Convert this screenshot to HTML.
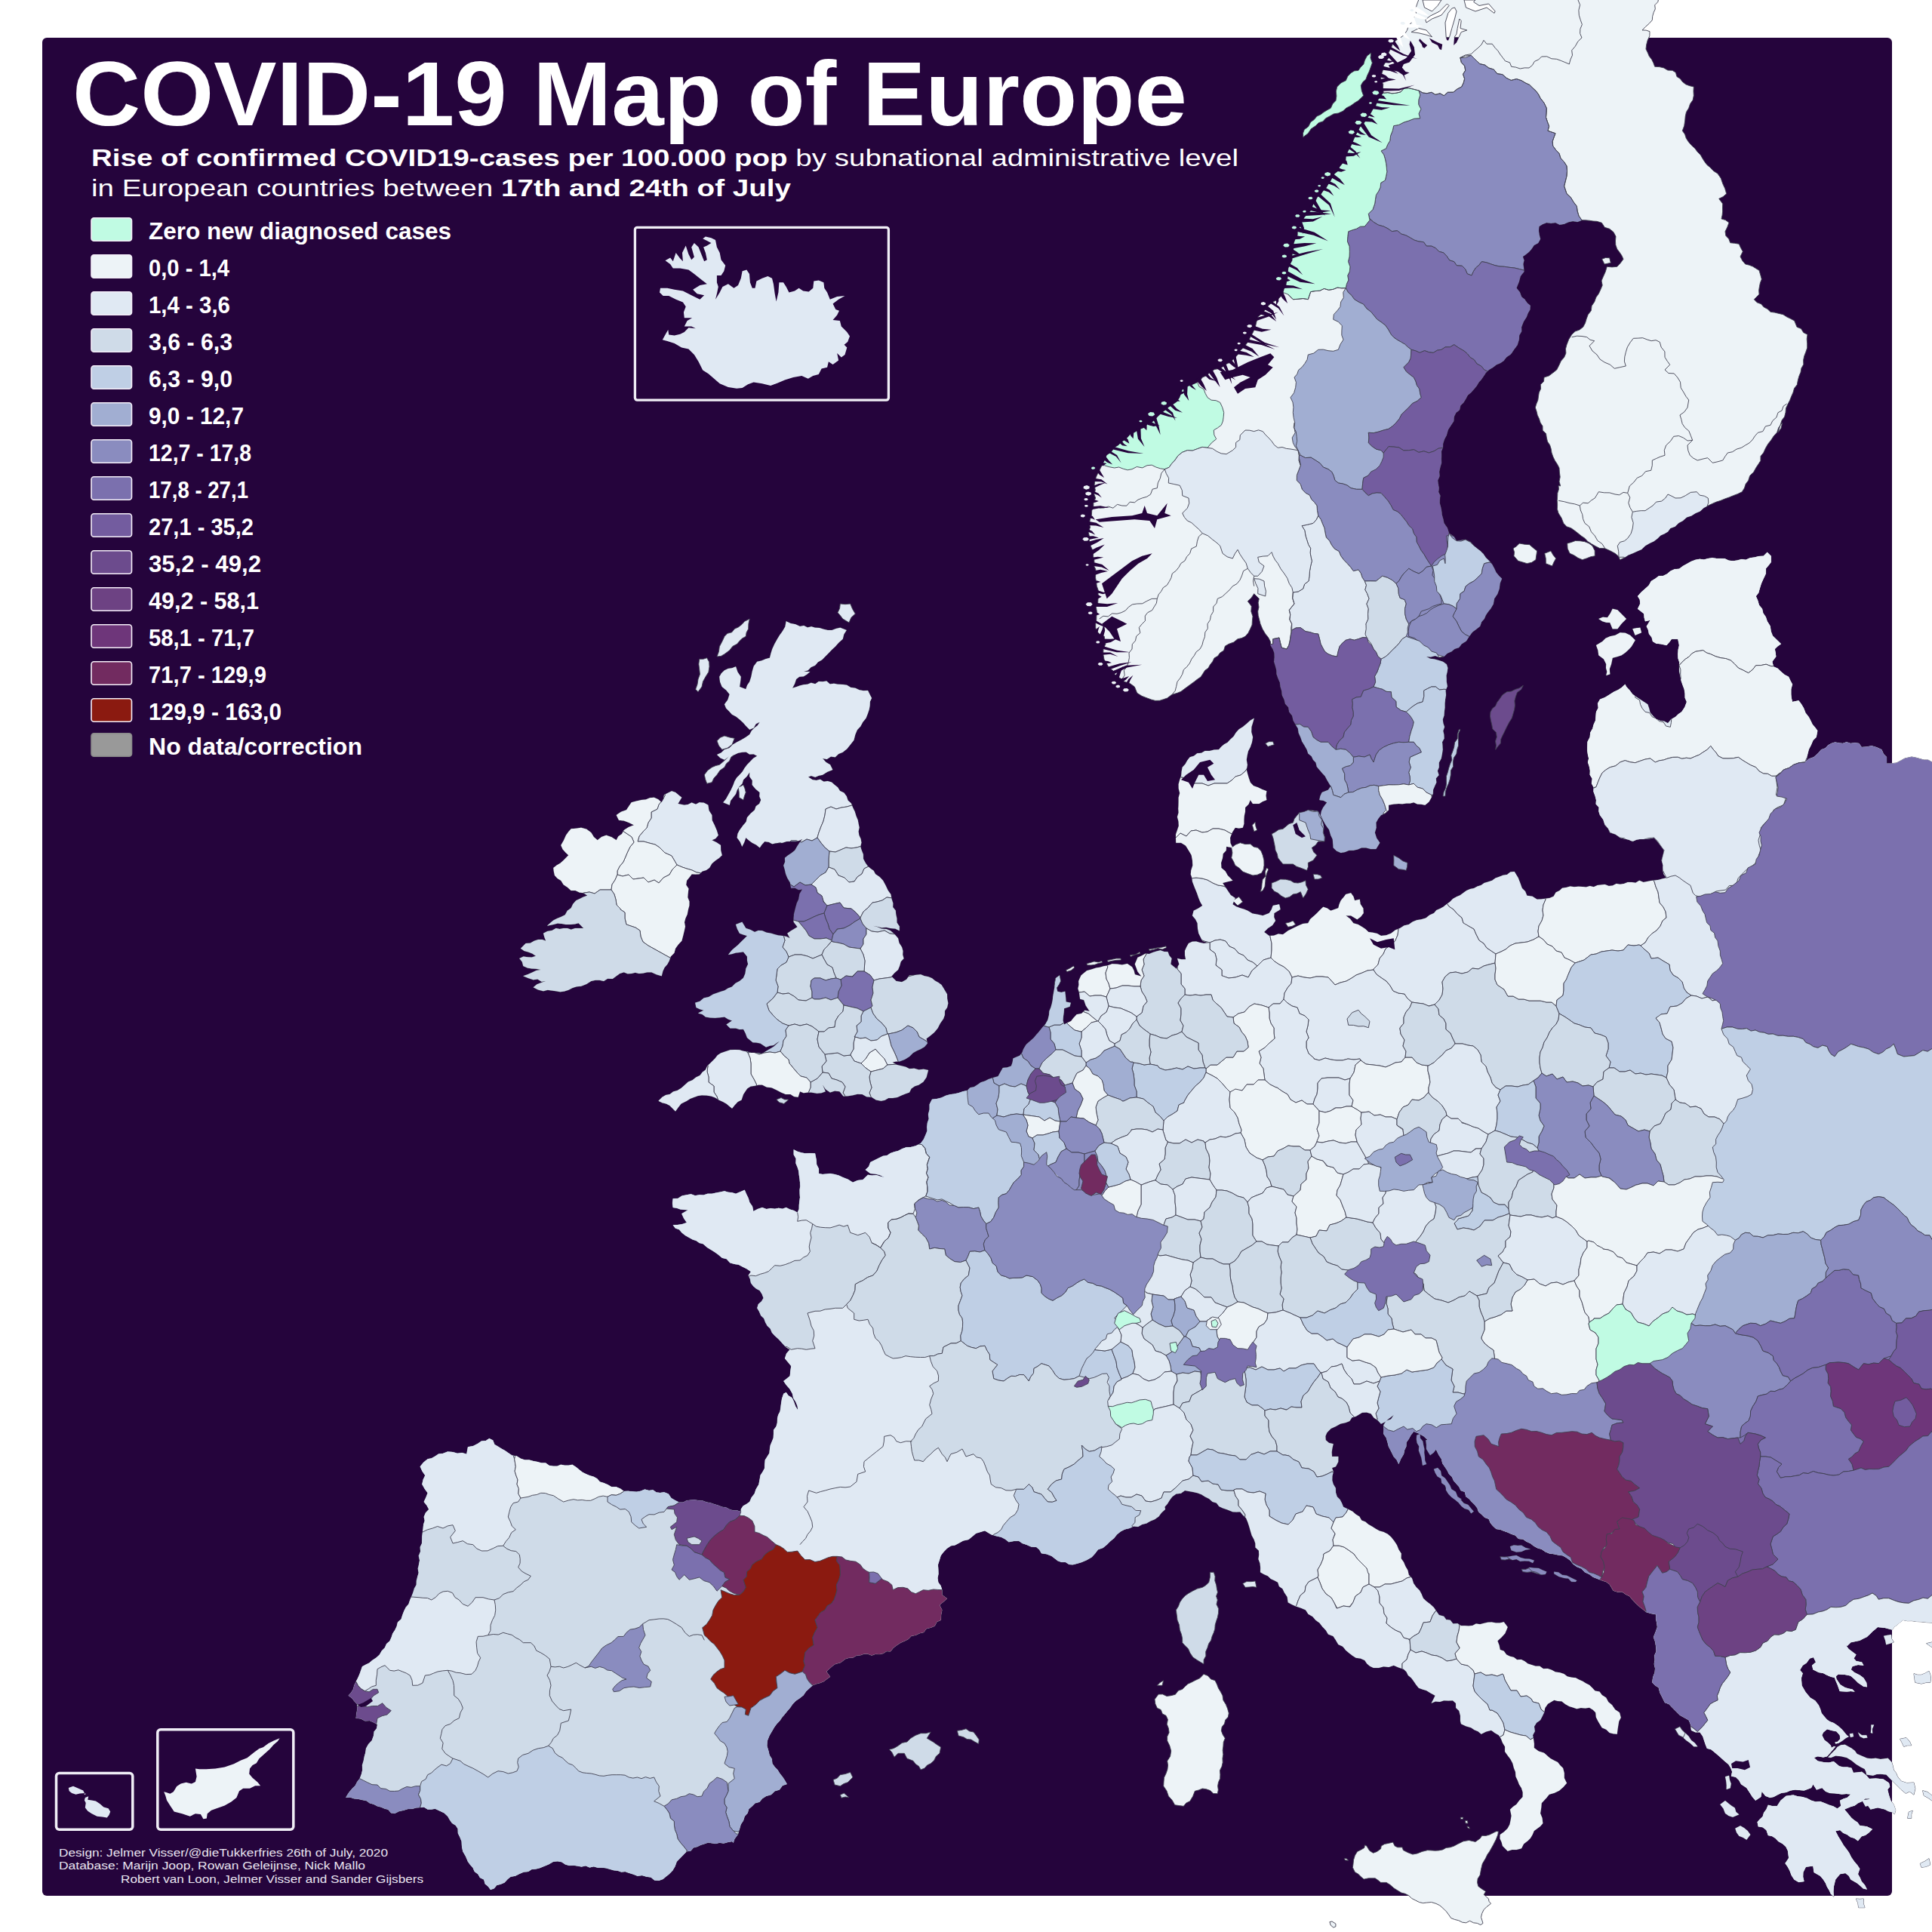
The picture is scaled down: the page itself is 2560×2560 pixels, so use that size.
<!DOCTYPE html>
<html lang="en"><head><meta charset="utf-8"><title>COVID-19 Map of Europe</title>
<style>
html,body{margin:0;padding:0;background:#fff;}
body{width:2560px;height:2560px;overflow:hidden;}
svg{display:block;font-family:"Liberation Sans",sans-serif;}
#base use{stroke:#3f3f50;stroke-width:0.9;stroke-linejoin:round;}
#map path{stroke:#3f3f50;stroke-width:0.9;stroke-linejoin:round;}
#map polygon{stroke:#3f3f50;stroke-width:0.9;stroke-linejoin:round;}
#map polygon.n{stroke:none;}
#map path.l{fill:none;}
#map polyline.l{fill:none;stroke:#3f3f50;stroke-width:0.9;stroke-linejoin:round;}
.t{fill:#fff;font-weight:700;}
.lg{fill:#fff;font-weight:700;font-size:31px;}
.cr{fill:#e9e4f0;font-size:15.5px;}
</style></head><body>
<svg width="2560" height="2560" viewBox="0 0 2560 2560">
<rect width="2560" height="2560" fill="#fff"/>
<rect x="56" y="50" width="2451" height="2462" rx="6" fill="#25043c"/>
<g id="map">
<defs><path id="L0" d="M981.7 2003.3l-4.8-1.8-5.3-0.1-4.9-1.4-4.7-2.6-5.4-0.6-4.8-2-5.1-1.5-5.2-1.9-5.4-1-5.2-1.8-5.5-0.4-5.4-0.9-5.1 0.5-5 0.5-4.7 2.4-5.2 0-5.5-2.6-5.1-3.2-3.7-5.4-5.7-2.2-5.2 0.8-5-0.5-4.6-3.4-5.2 0.8-5.6-1.4-5.5 2.2-5.5 0.9-5.6-0.4-5.6-0.6-5.5 0.3-4.8-3.5-5.3-2.2-6.2-0.1-5.1-3-5.3-2.2-5.1-1.6-3.7-4.1-4.5-2.6-5.2-1.4-4.8-2-5-2.6-4.4-3.4-4.3-3.6-4.7-3-4.9 1.1-5.1 0-5.1-1.1-4.9 2-5 0-5.4-0.8-4.9-3.3-5.6 0-5.3-1.5-5.4-1.1-5.5-1.6-5.8 0.2-5.4-1.9-5.2-3.3-6.4-0.9-5.1-3.5-4.3-2.9-4.6-2.6-4.4-2.8-4.7-2.7-2.1-5.5-4.9-2.5-4.6 3.1-5.8 0.4-4.6 3.2-6.3 3.4-7 1.2-1.7 9.4-6-1.8-6.3 0.8-6-1.7-6.9-0.4-6.4 2.4-5.5 0.5-4.5 3-4.8 2.7-5.2 1.1-5.6 4.4-4.4 5.6 2.8 6.1 3.8 5.6-2.6 5.6-1.4 6.1 3.4 6 4 5.6-2.3 5.9-2.7 5.8 3.8 4.7 2.8 5.3-4.3 4.4-2.3 5.6 1.1 5.1-1.7 4.9-0.4 5-0.7 5-0.6 5-0.1 5.2-0.3 5-2.3 4.8 0.4 5.9-2.4 5.7 1.4 5.9-1.1 5.8-1.3 5.3 1.1 5.5-1.6 5.2-1.4 5.3-0.1 5.4-2.8 4.7-1.5 5.3-1.9 5-2.2 5-1.8 5.4-3.7 4.3-2.5 5.1-2 5.2-1.7 5.4-4.6 4-1.3 5.5-2.4 5.1-3 4.4-1.7 5.3-2.2 4.9-4.3 3.7-2.1 5-4.2 4.1-3 5.4-4.5 3.9-5 3.3-4 3.5-4.7 2.3-4.6 2.5-1.8 5.1-1.8 5.1-2.2 5-2.5 4.8-2.3 4.7-1.3 5.3-2.8 4.4-3.6 4 4.5 3.2 3.4 4.3 3.7 4.1 0.2 6.2-1.1 6.1-0.7 6.1 6.2 0.5 5.7 3.1 6.4-0.3 5.1 2.2 4.9 2.8-0.8 5.3-3.7 4.3-0.5 5.4-2.2 6.3-4.6 4.7-3.2 5.7-0.7 5.6-1.6 5.5-1 5.5-1.8 5.7 0.4 6.2-1.4 5.9-2.2 5.6-3.4 4.4-2.5 5-4.1 3.9-4.6 5.5-3.8 6.2 5.6-0.2 5.3 1.8 5.4 0.4 5.4 1.3 5.4 1 4.5 3.3 5.3 1.4 4.8 2.6 5 1.1 4.5 2.2 4.9 1.2 3.7 4.4 5.2 0.5 5.5-2.7 6-1.2 5.7-1.8 6.2-0.3 4.9-1.5 5.1-0.2 5.1-0.6 4.8 3 5 0.2 5.1-0.9 5.9 2.7 5.9 2.8 4.8 4.5 2.7 4.7 3 4.4 4.8 3 2.9 4.5 0.2 6 2.6 5.3 2.2 5.4 0.3 6.7 1.3 6.6 3.8 6.5 2.9 6.9 3.1 4.3 3.6 4 2.1 5.1 4.5 3.2 2.7 4.6 5.2 2.7 1.5 5.6 4.2 3.5 3.1 4.3 4.8-1.7 3.4-4.3 5.1-1.3 5.3-2.3 3.8-4.2 4.3-3.5 6-1 5.5-2.8 5.7-2.3 6.1-0.6 4.5-3.1 5.5-0.3 5.1-1.4 4.9-1.9 6.8-2.9 6.5-3.7 5.6-0.4 5.4 0.9 4.8 3.4 5.3 1.4 5.6-0.3 5.3 0.8 5.3 0.9 5.4-1.2 5.3 2.3 5.4-1.2 5.2 1.4 5.5 0.1 5.4 0.5 5.3 1.5 5.2 1.5 5.1 0.5 4.8 1.6 5.2-0.4 4.9 1.7 5.7 1.8 5.7 2.2 6.2-0.6 5.8 1.6 5.8 0.8 4.8 4 6 0.2 5.1-1.8 4.1-3.3 4.2-3.3 4.6-4.8 3.2-5.6 2.2-6.2 4.4-4.5 4.4-4.5 4.5-4.4 5.2-0.7 3.7-4.3 5-1.2 4.5-2.3 4.9-1.5 4.9-1.8 5.1 0.8 5.1 0.7 4.9-1.3 5.7 0.8 5.5-1.6 5.5-0.9 1.7 1.7 1.6-5 4.6-6.1 2.1-7.3 1.6-5.8 3.3-5.1 1.8-5.7 3.9-4.1 1.6-5.7 4.5-3.6 3.9-4 5.8-1.6 3.6-4.4 5.5-3.5 6.4-1.8 4.8-4.7 6.1-1.7 4-5.5 5.9-2.1-2.8-4.9-3-4.7-3.6-4.4-2.9-4.8-3.9-4-3.2-4.5-0.5-5.9-3.2-5.1-1.3-5.7-2-6.5 0.4-6.8 2.8-6.9 3.8-6.5 2.8-4.8 3.3-4.5 3.9-4 3-4.4 3.5-4.1 3.4-4.2 3.5-4 3.6-5.2 4.4-4.5 5.3-3.6 4.6-3.8 3.4-4.9 4.2-4.1 4.5-3.9 4.9-2 5.1-1.3 4.9-2.1 4.2-3.1 4.2-3.1-5-6.7 3.7-3.5 3.8-3.6 4.2-2.9 7.3-2 6-4.7 4.9-1.6 5.3-0.2 4.6-2.7 5.2-0.5 4.9-1.7 5 0 5.2 2 4.9-1.9 5.2 0.4 5-1.1 4.6-2.9 5.2 0.2 3.7-4.7 4.7-3.6 4.9-3.3 5.2-2.1 5-2.5 4.1-4.3 5.7-1.1 5.1-2.4 5.5-1.4 3.8-4.9 5.6-1.3 5.3-2.2 2.8-5.6 5.3-2.2 0.3-6.8 1.3-6.6-3.3-6.6 5-4.2 5-4.2-6.7-5 0-6.6-1.7-5.4-3.3-4.6-0.9-5.6 1.1-5.5-0.2-5.6-0.4-6.8 2.1-6.5 1.6-5.5 3.4-4.5 4.5-4.8 5.5-3.6 5.2-0.9 4.8-2.4 6.3-3.4 7-1.6 5-4.1 5-4.2 5.8-1.7 5.9-1.7 8.3 5 6.6 2 6.8 1.4 5.3 2.9 4.7 3.7 6.6-1.3 6.7-0.3 4.6 3.3 5.4 1.7 6.3 2.9 7 0.4 4 3.6 2.7 4.7 6.8 1 6.5 2.4 4.2 3.2 4.2 3.3 5 1.8 5.3-0.1 4.6 3 5.1 0.4 5.8-1.6 5.8-1.7 6.9-2.9 6.5-3.8 4.3-4.9 4-5.1 6.5-2.2 5.2-4.4 4.4-4.5 5-3.9 3.9-5 5-4 5.4-2.9 6.3-1.4 5.3-2.5 6.1 0.4 5.2-2.9 5.9-1.5 5.2-3.1 5.6-2.1 5.3-3.8 3.9-5.2 4.8-4.3-0.7-3.3 3.7-4.2 2.9-4.8 3.4-4.4 5.1-3.7 6.5-0.9 5.1-3.7 5.6 1 5.6 1 5.5 1.3 5.3 2 4.7 3 5.5 2.6 4.5 4.1 5.2 1.5 3.4 4.5 4.7 2.3 6.7 2.3 6.6 2.7 5 0.3 5-0.3 3.6 4.3 4.2 3.8 2.2 5.3 1.9 5.9 1.7 6 1.8 5.9 3 5.5 1.7 5 0.1 5.5 4.4 4.1 0.4 5.4-0.8 5.9 2.1 5.7 0.6 5.8-0.2 5.9 4.8 2.8 5.2 2.2 3.8 3.8 4.9 2.1 4.6 2.5 1.6 5.2 4.6 3.3 2.2 4.8 4 6.1 1 7.2 5 2.6 5 2.4 6.7 2.3 6.6 2.7 3.5 5.4 5.7 3.2 4.1 4.8 5.2 3.7 3.8 5.1 4.4 4.5 3.3 5.6 6.5 2.3 3.5 5.4 3.3 5.6 6 2.9 4 4.9 4.2 3.6 4.5 3.4 4.7 3 6 0.8 5.6 2.5 3 4.4 3.9 3.3 4.8 2.3 6.8 0.1 6.5-1.8 6.9 0.6 6.5-2.2 6.5 2.9 6.8 2.1 3.6 3.6 2.3 4.8 4.1 3.2 3.3 4.5 3.2 4.6 3.5 4.3 4.9 1.9 5.1 1.4 5.7 3.6 6 3.1-2.4 5-2.6 5 5.3-2.1 5.9 0.3 5.4-1.6 5.9 0.3 5.8-0.3 4.1 3.7 0.1 6.1 4.1 3.6 1.7 6.5 0 6.8 1 4.3 6.5 3 6.8 2 4.4 2.9 4.9 2 4.1 3.5 6.4-3.2 6.9-1.8 4.8 3.6 5.2 3 3 4.8 2 5.2 3.2 5.2-0.1 6.5 3.6 5 3.8 5.1 2.9 5.5 1.6 6.1 2.1 5.4 0.4 5.9 2.5 5.3 2 5.3 3 4.7 1.8 5.7-0.1 6-4.5 4.8-3.9 5.2-4.4 3-3.9 3.7 1.7 8.3-1 5.8-1.2 5.7-2.8 5.2-4.6 4.6-5.4 3.7-0.2 5.3 2.2 4.7 1.3 5 6.7 6.7 5.7-1.7 5.9 0 6.7-1.7 3-6 5.3-4 3.7-3.8 2.6-4.6 2.1-4.9 4.1-3.1 4.1-3 3.4-3.9-0.8-6.9-2.5-6.4 1.1-6.7 0.6-6.7 3.4-3.8 3.5-3.7 3.1-4.1 6.9-1.9 6.4-3.1 5.4-4.6 4.6-5.4-3.3-6.7 0-6.8-1.7-6.5-3.7-3.5-3.3-4.1-4.7-2.4-5-2.6-4.1-3.7-4.2-3.7-7.2-2.2-6.1-4.5 0.1-5.6-0.8-5.6-1-5.5 2.8-5.2-0.9-6.3 3.1-5.1 5-3.4 2.6-5 2.4-5 1.3-6.3 3.7-5.3 8.3-5 4.9 1.4 5.1 0.2 4.7 3.8 5.3 2.9 5 1.5 5 1.8 5.5-1.2 5.7 0.5 5.5-0.9 4.6 2.8 3.7 3.8 0.6 6.2 2.8 5.5 5 8.3 5.7 2.4 4.3 4.3 4.9 1.3 5.1 0.4 0.7-5.9 0.9-5.8 0.9-5.3 2.5-4.7-1.7-6.7-5.9-4.1-4.1-5.9-4.8-4.1-3.1-5.8-5.4-3.4-3.3-4.4-5.9-1.2-3.7-3.9-3.8-3.8-4.6-2.1-4.3-2.8-4.7-2.1-4.5-2.4-5.2-0.6-5.7-1.1-4.8-3.5-5.4-1.8-5.8-0.7-5-2.9-5.3-1.7-5.7 0.3-4.8-3.6-5.6 0-5.3-1.7-4.8-1.6-4.2-3.2-4.5-2.2-5.7 0.3-4.1-3.3-5.3-1.3-4.6-2.3-3.4-4.7-5-1.7-1.2-6-2.2-5.7 5.3-4.7 4.7-5.3 3.4-8.3-5-6.7-5.3 1.1-5.4 0-5.4-0.9-5.3 0.3-5.3 1.2-4.9 1.3-5.2-0.9-4.7 2.6-5.1 0.5-5-0.3-5.1 0.1-4.6-3.1-6 0.3-3.8-4.8-5.6-0.7 0.7 0.7-3.5-5-6.4-1.7-3.5-5-3.6-5.3-4.7-4.2-5-3.8-4.2-4-2.2-5.4-2.7-5-4.2-4-3.7-5.3-2-6.4-4.3-4.9-1.3-6-3.1-5.2-2.3-5.5-3.5-5.1 0.2-6.5-3.4-5.1-2.4-6.1-3.6-5.4-4-5.1-4.5-4-5.5-2.7-5.5-1.5-4.9-2.7-4.7-3-4.9-2.8-4.1-3.4-5.1-2.1-2.8-5.1-4.6-2.7-4.6-4-5.4-2.7-6.7-3.3-2-4.9-2.5-4.7-3.8-3.8-1.7-5.5-0.2-6-3.1-5.1-1.5-5.3 0.2-5.5 1.4-5.6-1.8-5.3 5-1.7 3.2-6.3 0.1-7-8.3 0-0.4-5.7 0.8-5.5 1.3-5.5-5.6-1.3-4.4-3.7-0.4-5.2 2-4.8 5.1-5.2 6.6-3.1 6.3-3.4 7-1.6 5-1.9 3.1-4.9 5.3-1.5 8.3-5 6-0.2 5.7 1.8 3.7 5.2 5.3 3.6 4.3 4.6 5.4-2.8 4.6-3.9 6.7-5-3.5 5.4-6.5 2.4-3.4 5.5 0.3 5.9-0.3 5.8 3.5 5.1 1.7 5.7 1.5 5.9 3.4 6.6 3.3 6.7 4.1 4.5 2.5 5.5 2.9-6.9 3.8-6.4 1-5.2 2.3-4.8 0.2-5.5 3.2-4.5 2.8-5.3 3.8-4.7 7 2.8 6.4 3.8 4.6 4.3 4 4.9 4.7 4.2 3.6 5.4 2.9 5.8 3.5 5.4 1.3 5.6 3.1 4.7 3.2 4.6 2.4 5.1 4 3.6 2.1 5.2 3.6 3.9 3.6 4 2.3 4.9 5.5 2.2 1.2 5.8 4.3 3.2 3.4 3.9 3.9 3.7 3.4 4.2 1.9 5.3 4.1 3.5 4 4 5.4 2 2.2 5.3 3.5 4.3 4.3 3.7 5.3 0.8 4.9 1.9 5 1.7 4.8 2.3 5.3 1.8 4.1 4.5 6 0.5 4.6 3.2 5.1 2.3 4.5 3.4 4.9 2.9 5.5 1.4 5 3.6 5.5 2.1 6.1 0.9 5.7 1.2 5.8 0.8 5.2 3 4.8 3.5 3.7 4.8 4.8 3.4 6.1 2.5 4.6 4.8 6 2.7 5 3.8 5.9 2.2 5.8 2.3 5.5 1.6 4.5 3.4 5 8.4 5.7 1.7 5.9-0.1 4.6 3.2 5.1 2.4 3.7 4.4 4.9 5.1 5.1 4.9 4.3 3.2 4 3.5 6.6 2 6.7 1.3-0.2 5.6 1.2 5.6 0.7 5.5-2.4 6.7-2.6 6.6 2.3 6.5 1 6.9 0.3 5.6-2.4 5.4 0.5 5.6-0.9 5.6 1.3 5.5-0.4 5.6-2.5 6.4-0.9 6.9 3.7 3.9 4.7 2.8 1.8 6.9 3.2 6.4 3.3 6.7 5.8 2.2 4.2 4.5 5 5 5 5 5.9 3.3 5.8 3.3 2.7 6.4 0.6 7 5.4 2.5 6 0 3.9 5.5 2 6.4 1.7 4.9 1.9 4.7 5.2 1.4 4.3 3.3 4.8 4.2 4.8 4.2 4.7 4.2 4.8 4.1 2.8 4.6 1.9 4.9-1.2 6 6 1.2 4.3 4.2 2.8 5.3 7.2 4.7 4.7 7.2 3.2 5.1 4 4.4 7.1-4.7 1.2-7.2 4.8 6 5.9 2.3 5-1.1 4.6-2.4 5.7-2.8 6.2-0.8 5.8-2.4 6.1-1.2 5.9 0.7 6 0.5 4.8-1.8 4.7-1.8 2.4-4.7 4.7 7.1 7.2-2.4 4.7 4.8 5.8 2.3 6.2 0.1 9.5 1.2 5.9-0.3 6 0.3-4.8 4.7-4.9 1.3-4.6 2.3 1.2 7.2-4.8 3.5-5.1-3-5.6-1.7-6-2.4-5.9-2.4-6.1 0.5-5.8-1.7-5.7-2.9-6.2-1.8-6.1-0.7-5.8-1.7-9.5 1.2-7.2 5.9-4.7 7.2-6 0.3-5.9-1.5-2.4 5.9-3.4 4.3-1.4 5.2-3.7 3.5-3.4 3.7 1.2 5.9 5.9 1.1 4.8 3.7 2.4 7.1 5.1 0.9 4.4 2.7 4.1 4.4 5.4 2.8 4.5 4.1 2.6 5.4 1.2 9.5-4.7 7.1 3.2 4.6 2.7 5 2.4 6.3 3.6 5.6 5.9 3.5 7.2-1.1-1.4-5.9 0.2-6 3.6-7.2 9.5-1.2 1.2 8.4 8.3 4.7 3.9 4.5 3.2 5 2 5 2.8 4.6 2.1 4.8 3.9 3.5-0.4-6.5 0.4-6.6 2.3-9.5 6-7.2 7.1-1.2 4.5 3.5 2.7 4.9 8.3 4.7 4.2 3.6 4.1 3.6 4.8 1.2-2.9-5.8-4.2-4.9-2.1-4.9-2.7-4.7 2.4-7.1-3.3-5-3.9-4.5-4-5.7-3.1-6.2-3.4-4.9-3.7-4.7-3.5-6-3.7-5.9-3.6-7.1 6-1.2 4.2 3.8 5.3 2.2 4.3 3.2 5.2 1.5 4.8 3.6 4.8-6 5.1-1.6 4.4-3.1 4.8-4.8-7.2-3.6-9.5-1.2-3-4.2-4.2-2.9-3.9-3.2-3.2-3.9-6-7.2 8.4-3.6 5.2-1.5 4.3-3.2 5.2-2.3 4.3-3.7 6 0-3.6 7.2 4.8 7.1 9.5-2.4 9.5 2.4 4.5 2.4 5 1.2 3.3 2.4 1.3-5-2.5-7.4-3.7-5-2.5-7.4-1.9-7.5 3.1-3.7-1.2-5-7.5-5-9.9-1.2-8.7 0.6-4.4-5-5.5-4.3-5.6 0.9-5.6 0.3-2.5-6.2-5.5-1.1-5.7-0.1-5-1.3-7.4-6.2-6.1 1.6-6.3-0.3-8.7-1.9-5-4.3 5-1.9 7.4 1.2 5-1.2 3.7-4.3 5-5.6 2.5-3.1-2.5 0-3.1 1.8-0.6-3.1-3.8-3.7-4.9-3.7-3.1-6.2 1.8-3.8 5-4.3 6.2 1.8 6.2 1.3 4.4 5 0.6 4.9-3.7 3.8-3.1 0.6 0.6 1.8 3.7-0.6 5-3.1 4.9-3.7 3.8-1.9-2.5-1.8-6.2-7.5-5.3-4.8-5.9-3.9-4.9-1.9-4.1-2.8-3.4-4-3.7-4.4-1.6-5.4-2.2-5.1-4.6-6.1-6.6-3.8-6.2-7.5-4.9-8.7-0.7-9.9 1.9-6.2-3.7-4.4 3.7-6.2 5-3.1 4.3-6.2 5-1.3 3.1 6.3-5 4.3 1.3 5.6 7.4 3.7 5.9 1.1 5.3 2.7 4.8 2 5.1 1.1 1.7 4.7 2.1 4.6 3.1 8.7 9.3 0.6 5.2-0.4 5.3 0.4-3.1-3.1-5-0.9-4.9-1.6-6.2-3.7-5-7.5-0.6-3.7 3.1-2.5 8.7 0.6 7.4 1.3 5 4.3 5 5 7.4 5 4.4 0.6-0.6-5.6-3.8-6.2-4.9-3.7-7.5-3.8-4.3-3.7 1.8-4.3 7.5-1.9 7.4 0.6-2.4-4.3-7.5-1.3-3.1-3.7 3.1-5-5-3.7-4.9-3.7-3.8-5 1.8 1 4.8-4.8 6-1.2 5.9-1.2 4.7-2.5 4.8-2.3 3.7-3.4 3.5-3.7 7.1-5.9 9.5 1.1 9.5 2.4 3.2-4 4-3.1 7.1-6 5.9 1.3 6-0.1 5.9 0.9 6 0.3 7.4 0.8 7.4 0.4 5.2-0.6 5.3 0.7 5.3 0.6 5.2-0.7 4-1138-25-2-5-2.9-5.7-0.1-5.4-1.5-5.4-1.5-5.5-1-9 2-5.5 3-5.5 3-6.3 0.7-6.7 0 0-8.4-4.2-4.4-2.5-5.6-6.5-3-6.8-2-6.6 1.3-6.7 0.4-3.4-5-5.5-0.7-5.7 0.8-5.4-1.8-4.9 1.7-5.1-0.6-5.1-0.9-4.9 1.5-4.5 2.6-3.8 4-5.1 1.7-4.7 5.3-5.3 4.7-6.4 2.2-5.2 4.5 2.4-4.8 0.9-5.2 1.8-6.9 3.2-6.4 2.4-5.6 4.3-4.4 1.6-8.4-3.1-4.3-3.5-4-2.4-5.1-2.6-4.9-4.2-5.3-2.5-6.4-3.1-5.2-3.6-4.8-8.3 1.7-1.2-4.9-0.5-5.1 0-6.8 1.7-6.5-2.7-4.9-2.3-5.1-5.4-2.7-4.6-4-4.4-4.2-5.6-2.5-1.7-6.6 5-6.7-0.6-5-1-5 3.9-3.7 4.4-3-6.7-6.6-4.4-4.3-2.2-5.7-1.1-7.2-3.9-6.2-1.9-5.7-3.5-5-1.3-5.9-4.1-4.9-1.7-6.1-2.5-5.7 3.5-4.5 1.5-5.5 2.1-6.8 2.9-6.5 3.1-6.4 0.2-7 3.4-4.1 3.3-4.2 0-8.3-5-5-5 5-6.1 0.3-5.7 1.6-6 0.7-5.6 2.4-5.7-0.8-5.4 1.5-5.5 0.9-5.7-0.5-5.3-2.5-5.7-0.3-5.6 0.1-5.5-0.9-5.6 0.8-5.4 1.4-5.7-0.6-5.5 0.9-5.9 2.2-5.4 3.1-5.4 3-5 3.7-6.2 0.5-5.5 2.5-4.3 3.8-5.1 2.4-6 0.4-4.6 3.4-5.4 3.4-3.2 5.7-4.7 4.2-5.3 4.7-4.7 5.3 2.8 4.6 0.5 5.4-3.3 6.7 4.2 3.3 4.1 3.3 0.4 5.1 1.3 4.9 6.7-1.6-5 8.3 2.3 4.8 1 5.2 3.6 4.5 1.4 5.5 4.7 2.7 5.3 0.6 8.3 1.7 3.6-4 3.1-4.3 8.3 0 1.7 8.3-1.3 5.8-0.4 5.9 0.2 5.6 1.8 5.4-0.3 5.6 0.1 6.8 1.6 6.6 1.1 5.7 1.9 5.5 2 5.4 0.9 5.6 0.1 5.8 2.3 5.3-2.6 7-4.1 6.3-4.4 3-3.9 3.7-5.8 3.2-4.2 5.1-4.7-2.5-5.3-0.8-5.7-2.3-4.3-4.4-3.6-4.4-1.3-5.4-1.8-5.2-5-3.3-5-3.3-5-3.3-5-3.4-3.9-5.2-4.4-4.8-1.7-3.3-4.4 4.2-5 3.3-5.5 2.6-5.1 3.2-6.4 3.9-6.9 2.8-2.9 5.2 0.7 6.2-2.8 5.2-0.5 5.7-0.4 5.7-2.4 5.3-1.5 5.6-3 5.2-0.5 5.9-3.2 6.3-0.2 7 0 5 0.7 5 1.2 5-1.2 5 1.8 5.4 1.1 5.6-0.2 5.7 3.1 5.1-0.9 6.3 2.8 5.2-0.2 5.8 2.1 5.4 1.4 5.5-0.3 5.4 4 4.3-0.3 5.4 1.6 4.9 4.4 6.1 2.3 7.2 4.1 4.5 2.5 5.5 7.3 2.1 6.1 4.6 5.6 1.4 5.7 1.1 5.3 2.5 5.3-2.6 5.6-0.6 5.8-0.1 5.9-0.5 5.8-1.2 4.3 4.8 4 5.2 5 6.7-1.5 6.7-1.8 6.6 2 6.5-0.4 6.8 1.4 5.5 3.6 4.5-5.1 1-5 1.4-5.2 0.7-5.1 0.5-5.1 1.1-5.1 1.1-5.5-2.4-4.9 3-5.3-0.6-5.2-0.2-5 2.1-5.1 0.7-5.1-0.8-4.8 2.7-5 0.4-5.2-2.1-5 0.5-4.9 0.5-4.9 2.3-5.1-1.1-5 1.3-5-0.4-5.4-0.3-5.3 0.5-5.4-0.8-5.3 1.6-5.3 0.7-3.3 3.3-5.1 2.5-3 5.3-5.3 2.2-5.5 0.7-5.5 0.8-5.6 0.2-6.2-3.9-7.2-1.1-2.3-5.7-4.3-4.3-2.4-6.7-2.6-6.7-5-8.3-5.4 0.4-4.4 3.5-5.3 0.8-4.9 2-5.1 1.9-4.5 3.2-5.2 1.6-5.2 1.6-4.2 3-4.9 1.6-4.5 2.4-5.1 1.1-4.7 1.9-4.2 3.1-4.3 3.1-4.8 2.1-4.9 2.7-3.9 4.1-4.5 3.2-4 3.2-4.5 2.4-4.8 2.1-3.4 4-5.7 2.6-5 3.8-6 1.9-6.1 0.9-5.5 2.2-5 3.6-6.3 1.4-5.4 3.6-6.3 2.6-5.4 4.1-6.4 2.6-6.9 0.7-5.2-3-5.7-1.2-5.8-0.8-3.8-3.8-4.5-2.9-5.5-3.2-6.2-1.8-4.3-5.7-5.7-4.3 6.7 0 8.3 5 4.7-3.6 3.7-4.7-0.4-6.5-3.7-5.5-0.9-6.3-6.7 1.6-1.6-5.4-3.4-4.6-6.7 1.7-3.2 4.2-3.4 4.1-2.1 4.9-1.3 5.1-5 1.8-5 1.6-4.7-3.2-5.3-1.8-4.2 4.1-4.1 4.2-4.3 4.1-4.6 3.8-2.8 5.4-6.9 0.7-6.4 2.7-6.7 3.2-6.6 3.4-6.7 5-6.2-0.7-6 2.2-6.1 0.2-6.7-5 5-5 6-4 4-6-1.9-4.8 0.2-5.2 8.4-5-1.7-6.7-8.3 1.7-1.9 5.3-3.1 4.7-8.4 3.3-6.6-1.6-7.2-1.2-6.2-3.8-4.9-1.9-5.1-1.5-5.3-2-4.7-3 3.4-8.3-6-4-4-6-3.4-5-3.3-5 6.6-1.7 6.7-1.6-6.6-6.7-3.2-5.8-5.2-4.2-0.3-6.8 2-6.5 0.6-5.4 4-4.2 0.4-5.4 8.3 1.6-3-6.3-0.3-7 2.7-7 4-6.3 5 0.7 5-0.7 1.6-4.9 0-5.1 0.4-5.6 1.2-5.5 0.1-5.6 4.4-4.3 2.3-5.7 3.3 5 8.3 0 4.8-2.9 5.2-2.1-0.9-5.8 0.9-5.9-5.9-2.3-5.7-2.7-5.8-2.1-4.2-4.5-1.9-5.5-1.7-5.6-1.4-5.6 1.1-6.6-1.1-6.7 0.9-5.8 1.3-5.7 2.8-5.2 2.2-6.5 1.1-6.8-1.9-6.6 0.2-6.8 1.8-5.8 1.6-5.8-5.5 3.2-4.6 4.4-4.9 4-5.2 3.2-3.9 4.4-3.1 5.2-4.5 3.9-3.3 3.8-4.6 2.4-3.9 3.2-3.2 3.9-6.1 0.3-6 1.4-6.2 0-4.7 2.7-5.7 0.5-4.4 3.6-5.2 1.5-3.5 4.4-2.6 4.9-3.9 4.1-1 5.6-0.5 5.6-1.9 5.4-1.6 5.8 0.1 5.9 1.5 5.9-1.6 5.8 0 5-0.1 5-0.3 5 0.4 5-1.7 5.7 1.6 6 0.3 5.9-1.9 5.7-1.9 5.4 0 5.7 0.2 5.6 6.7 0 6.1 3.9 3.9 6.1 3.7 6.2 1.3 7.1 0.4 6.8-2.1 6.5-0.5 5.1 1.7 4.9 0.5 5 3.3 8.4 2.7 6.6 2.3 6.7 2.2 5.2 2.8 4.8-5.6 3.7-6 3-1.7 6.6 4 4.6 2.7 5.4 0.3 6.8 1.3 6.6 2.5 5 2.5 5 6.5 2.1 6.9-0.5-1.7 0.5-5 0.8-5 0.4-5.1-1-4.9-1.5-5.2 0.3-4.8 2.2-2.8 4.9-2.2 5.1 0.1 5.7 1.1 5.5-5.7 0.1-5.5-1.3 2.5 7.5-3.7 6.3-7.6-6.3 1.3-7.5-3.3-3.9-1.7-4.9-5-0.1-4.9-1.9-5.1 1.3-4.9 1.5-4.8 1.9-5.3-0.1-4.9 2.7-5.1 2.3-3.7 8.7 1.9 5 1.8 5 5 6.3-8.7-2.6-1.3-5.2-2.5-4.8-6.2-4.2-6.9 1.4-6.9-0.9-6.4-0.2-6.1 2.2-5.1 0.7-4.9 1.5-5 0.8-6.2 2-6.3 1.7-7.5 6.3-3.3 7.5 0.3 5-1.1 5.1 1.6 4.9 1.2 8.8 5 1.2 2.6 7.5 5 7.5-6.3-1.2-4.4 4.2-6.5 1.2-4.1 4.6-3.3 4.1-4.6 2.3-4.6 2.3-1.5-4.9 0.3-5.1 0.8-5.6 0.4-5.7 7.5-2.4 1.3-5-6.3-1.3-0.5-6.9-0.8-6.8-5 1.1-5-1.1-1.2-5 2.7-4.3 2.3-4.5-1.2-7.5-5 3.7-0.1 5.7-1.2 5.6-1.3 7.5-0.9 5-0.5 5-1 5-1.4 5-2 4.8-0.4 5.2-1.6 6.6-3.4 5.9-4 4.2-3.5 4.5-3.7 4.4-3.8 4.4-4.9 4.5-5.1 4.3-3.8 6.2-1.7 4.8-3.3 4-8.7 3.7-0.8 5.1-1.7 4.9-5.4 2-5.8 0.5-3.1 5.6-3.2 5.6-6.3 1.7-6.2 2.1-4.9 2.6-5.5 1.7-4.6 3.2-4.3 2.7-5.3 1-3.6 3.8-0.1 0-5.9 1.3-5.8 2-5.6 1.1-5.6 0.8-5.5 1.5-5.8 2.7-6.1 1.7-6.4 0.6-3.3 6.6 0 6.8-1.7 6.6 0.8 5.7-1.9 5.4-0.6 5.5 0.3 5.2-1.9 4.8-2.7 6.2-4 5.5-6.4 3.2-6.9 1.8-6 0.2-5.5 2-5.2 2.8-5.1 1.3-5 1.7-4.5 3.1-5.4 0.6-5.6 2.7-5.5 2.8-5.6 2.8-2.1 5.8-4.5 4.2 6.6 5 6.5 0.4 6.1 1.6 5.8 3-5.3-1.3-5.3-1.7-5.7 0.4-5.4-0.7-6.7 6.6-6.9 0.8-6.4 2.6-6.3-4-7-2.7-5.3-2.5-5.6-1.6-5.8-0.9-5 0.6-5 0.4-5-1 0-6.3-2.9-5.8-0.4-6.2-1.7-8.4-6.7-0.2-6.6 0.2-5.2-1-5-1.6-4.8-2.4 0 6.7 3 5.2-0.3 6.1 2.3 5.4 1.5 4.9 0.5 5 0.8 5.1 0.5 5 0.3 5-0.7 5 0.1 5 0.3 5-0.7 5-0.5 5.1-0.1 5.1-2 4.8-4.8-2.7-5.3-1.5-4.9-2.5-4.9 1.8-5.1-1.1-5 1-5.6-0.6-5.7 1-5.4-2.1-6 2-5.7 3-1.3-6.4-3.7-5.3-1.7-5.7-2.6-5.4-2.3-5.5-5.8 2.6-5.9 2.4-4.9-1.5-5.2-0.4-4.9-1.5-5.6 1.1-5.5 1.2-5.6 1.1-5.6 0-5.4 1.8-5.6-0.2-5.6 0.9-5.5-1.9-5.6 1-6.3 1.1-5.5 3.5-6.5 0.4-0.7 5.9 0.7 5.8 5 0.7 4.9 1.7 5 0.6 5.1 0.3-8.4 5 2.9 6.1 3.8 5.6-5.9 2.1-6.2 0.8-6.2 0.4 3.2 4.2 5.1 1.8 3.3 4 4.7 3.8 5.3 2.9 4.5 2.4 4.7 1.7 4.2 3 5 1.2 5.4 4.8 6.2 3.6 4.7 3.1 4.4 3.3 4.3 3.6 6.1 1.6 4.4 5 6.1 1.7 5.3 0.7 4.7 2.6 6.1 2.9 5.6 3.8-3.3 5 2.3 4.8 1 5.2 3.2 4.2 3.8 3.4 4.7 2.4 3 4.7 2 5.3-2.7 4.5-4.1 3.6-1.6 5.2 2.8 4.8 2.2 5.2 4 3.7 1.8 5.1 2.6 4.6 4 3.9 2.3 5.3 3.7 4.1 5.3 4.7 4.7 5.3 4.4 4.8 5.6 3.5-4.6 5.1-2.1 6.6 4.2 4.9 4.1 5.1-0.9 6.6-0.7 6.7-4.2 3.4-4.2 3.3 3.4 5 4.8 5.4 3.5 6.3 1.2 5.9 3.3 5.1 2.2 5.6 0.6 5.1 1.2 4.9 0.5 5.1 1.7 4.9-0.8-6.7-1.6-6.6-4.1-6.2-2.5-7.1-2.3-4.8-4.8-2.6-2.9-4.3-3.4 1.7-2.2 6.5-1.1 6.8-0.6 5.2-0.8 5.1-2.5 4.7-1.1 5-0.1 5.3-1.4 5-3.4 4.4-0.1 5.3-0.2 5.3-1.9 4.8-2.1 4.8-0.8 5.1-0.5 5.4-2.8 4.6-2.9 4.6-0.5 5.4-0.2 5.5-2.5 4.7-3 4.6-0.9 5.2-1.3 7.1-3.7 6.2-2 6-3.9 5-2.5 5.7-4.2 2.9-4.5 2.7-2.9 4.4z"/>
<path id="L1" d="M1880.0 -6.7l0.2 5.4-2 5.2-1.7 5.2-0.4 5.4 0.6 5.5-4 4-1.8 5.5-4.2 3.8-2.4 7.2-4.3 6.2-4.8 3.6-5.2 3-4.4 4.3-2.3 5.7-3.2 6.3-0.1 7.1-3.6 4.9-3.1 5.1-1.1 6.8-2.2 6.5-0.7 6 3.4 5.5-0.3 6 0.9 5.8-4.4 4.9-3.3 5.6-2.3 6.2-3.8 4.7-2.8 5.3-3.5 4.9-3.2 5.1-3.3 4.5-4.2 3.7-2.5 5.1-3.7 6.5-3 6.9-2.9 6.8-3.7 6.5-2.8 6.4-0.6 6.9-4.5 3.6-3.4 4.4-2.1 5.4-4.5 3.6-2.9 4.7-2.6 5-3.1 4.6-2.9 4.8-4 3.9-3 4.7-4.6 3.5-2.4 5.2-3.5 5.4-2.1 6.3-4.4 4.9-4.6 4.8-3.1 5.7-2.3 6.2-3.5 5.1-0.1 6.4-3 5.2-2 5.4 0.1 5.7-1.5 5.5-0.9 5.6 0.2 5.8-2.6 5.3-2.6 5.3-0.7 5.6 0 5.8-1.4 5.6-0.9 5.8-2.7 5.2-1.5 5.5-3.5 4.5-4.5 4.1-5.5 2.6-5.6 4.4-4.4 5.6-4.6 5.4-5.4 4.6-1.8 6.6-1.6 6.7-2.9 6.9-3.7 6.5-2.1 4.9-3.1 4.2-3.2 4.2-4.9 4.4-3.4 5.6-4.7 5.3-5.3 4.7-4.7 2.3-4.3 3.1-4.3 2.9-7.2 1.1-6.2 3.9-4.3 4.3-5.7 2.4-3.5 4.5-4.7 3.1-5.1 2.4-7 2.6-6.3 4.1-1.6 5-1.8 5-4 6-6 4-4.7 3-4.2 3.7-4.4 3.3-5.1 4.9-4.9 5.1-4.2 3.6-5.4 2.1-3.7 4.3-7.1 2.6-6.3 4-5.3 2.2-3.8 4.2-4.2 3.6-4.5 3.2-4 4-4.8 2.8-4 6-6 4-2.8 7-3.9 6.4-3.3 6.7-3.4 6.6-2.6 6.8-0.7 7.2 1.4 5.2-1.7 5.6 2 5.2-2.9 5.2 0.1 6.1-2.2 5.4-0.3 5.7-1.8 5.4-1.3 5.5 1.3 5.6-2.6 5.5 1.3 5.6 0 5.8 0.8 5.6 2.6 5.3 1.8 5.4 0.1 5.7 1.4 5.5-0.8 5.7 2.6 5.4-0.1 5.6-0.1 5.6 1 5.6 0.7 5.5 1.9 5.4-0.1 5.6-0.1 5.6-0.3 5.6-2.4 5.4 1 5.7-0.4 5.6-0.1 5.6-1.1 5.5 0 5.1 1.6 4.9 4.5 4.1 5.5 2.5 0.5 5.1 1.2 4.9-3 6.4-0.3 7 1.3 7.1 3.7 6.2 2.7 4.9 4.9 3.2 2.4 5.2 4.5 3.2 4.6 3.2 4.2 3.6 7.2 2.3 6.1 4.4 3.4 8.3 6.3 4 7 2.7 5.4 2 5.5 1.4 5.8-0.1 5-1.6 5-1.7 6-4.6 7.3-2.1 4.9-2 4.2-3.2 4.2-3.1 4.5-3.3 4.5-3.3 4.4-3.4 4.4-3 2.8-4.3 2.8-4.4 4.3-3 2.5-4.6 3.2-4 2.3-4.7 4.7-2.8 3-4.2 4.8-2.9 1.9-6 4.9-2.8 6.4-2.3 5.3-4.3 5.2-1.1 4.8-2.3 4-4.6 2.7-5.4 2.4-5.3 0.3-5.7 0.6-5.6-2.2-6.5 0.5-6.9-5-6.6 4.8-4.5 3.6-5.5 6.6 6.6-1.2 5.5 0.9 5.7-1.3 5.5 0.5 5.7 1.5 5.5 1.3 5.5 2.9 6.9 3.8 6.4 3.8 4.6 2.8 5.4 0.6 5.4 2.8 4.6 2 5.4 0.2 5.6-0.6 5.7 1.6 5.4 1.5 5.5 0.3 5.7 1.9 5.5 2.4 5.4 0.7 5.8 1.7 5.5 0.6 5.9 2.7 5.3 1.4 5.8 4.3 4.8 0.9 6 4 5 1.4 6.2 3 5.5 3.2 5.2 0.9 6.1 2.5 5.4 2 5.9 3.4 5.3 3 5.4 1.7 5.1 4.4 3.5 2.2 4.8 3.6 3.9 1.3 5.4 3.4 4 3.6 4.2 3.8 4.1 2.6 5 5 8.4-3.3 5-8.3 3.3-2.2 4.8-1.2 5.2 5.3 0.7 4.7 2.6-5 6.7-2.3 4.8-1 5.2 3.1 6.8 3.6 6.5 4.5 6.1 2.1 7.3 2.5 5.3 0.5 5.6 0.4 5.7 4.4 4.3 5.6 2.4 5.5-1.1 5.4-2.1 5.7-0.1 5.6-1.2 5.3-2.2 5.8 0 6.5 1.8 6.8-0.1 5-8.3-4.3-6.2-2.3-7.2 1.9-6.5-0.3-6.8 2.9-5.3 3.8-4.7 5.7-2.3 4.3-4.4 0-6.6 6.6-1.2 6.7-0.5 5.1 0.3 4.9-0.8 5.1 0.1 4.9-1.3 4.8 2.1 5.2 0.3 5 1 5.1-4.3 3.3-5.7 2-4.9 0.3-5.4 2.1-4.9 2.2-4.8-0.6-5.2 3.8-4.6-1.7-5.4 1.9-4.8 0-6.1 3-5.5 1.1-5.9 0.9-5.9-0.3-5.1-0.4-5 2.6-4.8-0.3-5.1-1.1-4.9 1.8-5.2-1.7-4.9-0.6-5 1.8-5.2 0.3-5.3 0.7-5.4 0-5.4 0.5-5.3 1-5.8-0.5-5.9 2.3-5.7-1.1-6 0-3.3-0.2-5 1.2-5 0.6-5-1.6-5-4.9-3.3-5.4-1.6-5.5-1.7-5.9-0.6-5-2.8 5.8 0.4 5.9-1.5 5.8 2.2 5.8-1.1 4.3-4.3 5.7-2.4 4.3-3.6 5.6-1.8 3.5-4.6 6.1-3.9 3.9-6.1 4.3-5.7 5.7-4.3 4.4-3.6 1.9-5.5 3.7-4.2 2.1-4.9 2.9-4.3 3.3-4.1 3.7-6.3 1.3-7.1 4.2-6.2 2.5-7.1 0.8-6.9 2.5-6.4-4.1-3.9-3.5-4.3-2.4-5.2-2.8-5.3-3.9-4.7-4.6-4.6-3.7-5.4-3.8-3.5-4.1-3.1-3.8-3.4-4.9-5.4-6.7-2.9-5.8 1-5.9 0.7-3.9-6.1-6.1-3.9-2.3-7.2-4.4-6.2-1.1-5.5-1.6-5.5-0.6-5.6-1-5-1.4-4.9 0.1-5 0.6-5.1-2.3-4.8 0.6-5.2-0.9-5-0.7-5 2.4-5.6-0.4-6.2 1.3-5.8 1.7-5.8-0.3-5.1 0.3-5-0.3-5 2-4.9 0.4-5.9 1.8-5.5 2.8-5.2 2-7.2 4-6.2 3.4-5 0.6-6.2 2.6-5.4 4.6-3.5 1.3-6 4.1-3.9 2.9-4.7 2.6-5.1 4.5-3.5 3.6-4.3 3.6-4.2 2.8-4.8 3.7-4.2 3.1-4.6 3.2-4.6 4.2-3.7 4.8-2.9 4.4-3.4 5.3-2.2 4.5-3.2 3.5-4.6 6-4 4-6 4.5-6.1 2.2-7.2 0.4-5.7 3-5.2-0.1-5.8 2.7-7 4-6.3 1.8-4.9 2.7-4.7 0.5-5.4-4.2-3.6-3.2-4.6-4.3-3.5-2.3-6.4-4.4-5.2 3.4-8.4 1.9-7.4 4.7-5.9-0.3-5-0.8-5 1.2-5.1-1.7-4.9 4.3-2.9 3.9-3.3 3.4-3.8 3.3-5 5.5-3 2.9-5.3-1.4-5.5-0.8-5.5 0.5-5.7 4.8-2.9 5.2-2.1 5.8 0.8 6-0.9 5.6 2.8 6-1 5.6-2.4 5.8-1.2 6.3 0.8 5.6-2.2 5 0.1 5 0.4 5 0.8 5 0.3 6.4 2 3.9 6 6.4 2 5.2 4.1 3.1 5.9-0.5 5.7 0.3 5.6 1.9 5.4 3.2 4.2 2.9 4.3 2.2 4.8-3.8 5.3-4.5 4.7-6.7 0.6-6.7-0.6-2.1 6.9-2.9 6.5-2.3 5.3 1.2 6-2.2 5.3-2.6 5.7-3.6 5.1-2.1 5.9-3.6 5.2-0.8 6.5-4 5-2.1 5.6-1.7 5.7-2.8 5.3-4.8 3.7-5.8 2.1-4.4 4.2-4 6.4-2.7 7-1.5 5.5 0.4 5.8-2.2 5.3-4.3 5-2.7 5.9-3 5.8-5.1 4.1-5.3 3.9-6.3 2-0.5 5.4-4.2 4.1 0.3 5.7-2.3 4.8-0.8 5.1-0.7 5.1-2 4.9-1.5 4.9 1.7 5 1.2 5.2 2.3 4.8 1.5 5 3 4.6 0.1 5.8 4.4 4.1 0.8 5.5 1.2 5.1 3.1 4.6 1.6 5 0.8 5.3 1.9 5.3 2.4 5 3.1 4.7 2.6 5 0.4 6 0.8 6-1.2 6.1 1.7 5.9-2.7-0.7 0.4 5.1-1.6 4.9-0.2 5-0.3 5 0.3 5.6-0.2 5.6 1.6 5.5 4 6.3 2.7 7 4.2 4.5 5.9 2 4.9 3.5 4.4 3.4 4.3 3.5 4.6 3.1 3.8 4.2 4.7 2.9 4.8 2.9 6.3 3.2 7.1 0.2 6.8 3.1 6.5 3.5 4.3 3.5 2.4 4.9 5.6-2.6 5.2-3.5 5.8-2.3 6-2.7 5.9-2.7 4.8-4.6 5.6-3.3 5.9-2.8 5.2-3.9 3.7-3.9 5.1-2.2 4.6-2.7 3.2-4.5 6.2-2.2 4.8-4.7 5.7-3.1 4.9-4.4 6.3-2.2 5.5-3.4 6-2.5 4.8-4.6 5.8-2.9 5.4-2.5 5.6-2.4 5.7-1.8 5.5-2.3 5.7-2 5.5-2.3 5.9-2.2 5.7-2.8 3.1-4.9 1.8-5.5 3.5-4.6 2-6.4 4.9-4.6 3.1-5.7 3.1-4.7 3.1-4.7 0.1-6.2 3.7-4.4 2.7-5.9 3.2-5.7 4.1-5.1 3.5-5.4 4.5-4.9 2-6.3 5-6.7-1.6 7.2-4.1 6.1 1.5-5.5 1.8-5.4 1.7-5.4 3.6-4.8 1.4-5.5 0.5-5.9 2.5-5.2 2.6-5.1 2.1-5.3 2.3-5.2 1.5-5.5 3.8-4.7 1-5.7 1.5-5.5 2.2-5.3 0.9-5.4 2.9-5-0.2-5.7 1.1-5.3 2-5.2 2-5.7 0-5.9-0.5-6 0.8-5.8-5.2-2.6-3.3-5.2-5.5-2.2-3.3-8.3-5.1-2.7-5.1-2.5-4.8-3.1-5.5-1.3-5.6-1.3-5.6-0.8-3.9-3.8-4.9-2.6-3.7-4.2-5.4-1.9-3.8-4.1 6.7-6.7-0.4-5.2 0.8-5 1-5 1.9-4.8-1.6-5.9-1.7-5.8-4.3-2.6-4.3-2.7-4.7-1.8-5-1.2-3.9-4.6-2.8-5.4 3.3-6.7-2.7-4.9-2.3-5.1-5.8-1-5.8-0.6-1.9-5.1-4-4.3-0.8-5.6 2.8-5.7 2.2-6-4.6-3.4-5.4-1.6 1.1-4.9 0.5-5-0.1-5.1 0.2-5-5-6.7 5.4-2.6 4.6-4-2-6.9-3-6.5-2.4-7.1-4.3-6.2-5.5-3.5-4.5-4.8-4.1-3.2-3.1-4.1-2.8-4.4-2.8-4.9-4-3.9-3.2-4.5-4.5-4-3.9-4.4-3.3-5-1.7-5.4-3.3-4.6 2.4-6.5 1-6.8 0.5-5.9 1.3-5.7 3.2-5.1 1.9-5.7 3.5-5 1.2-5.9-0.3-5.9 0.3-5.8-5.4-1.3-5.2-1.9-4.4-3.5-3-4-4.4-2.8-1.5-5.4-4.4-2.8-6.1-0.2-5.4-3.2-5.8-1.3-6-0.3-1.8-4.9-2.3-4.7-3.3-4.2-2-4.8-2.3-4.7 0.7-5.9 1.5-5.8 2.6-5.5 0.2-6.1-4.9-1.6-5.1-0.1 4.4-4.5 4.7-4.2 4.2-4.6 0.4-5.1 1.4-4.9 2.2-4.8-0.6-5.2 4-4 1.5-5.8 4.5-3.6-5-0.7-5.1 1.3-5 0.4-5.1 0.4-5-1.2-5.1-0.9-5-0.5-5 0.6-5.1 1.2-5-1-5.1 0.6-5-1-5-0.4-5.1 0.5-5-0.4-5.1 2.1-5-2.2-5.1 2.4-5-1.2-5 0.7-5.1-0.1-5-1.4-5.1 2.2-5 0.1-5.1-0.1-5-1.8-5 0.5-5.1 1.1-5 0.1-5.1-1.9-5 1.7-5.1-2.1-5 0-5 0.1-5.1 0.4-5 1.6-5.1 0.3-5-2.8-5-0.2-5.1 0.3-5 1.2-5.1 0.2-5 0.6-5.1-1.4-5 0.7-5-1.2-5.1 2.6-5-0.7-5.1-2-5 2.6-5.1-0.7-5 0.1-5-0.1-5.1-1.2-5 0.2-5.1 1.7-5-1.7-5 0.4-5.1-1.4-5-0.1-5.1 2.7-5-1.3-5.1-1.4z"/>
<path id="L2" d="M1041.7 823.3l5.9 2.8 6.5 1.2 5.9 2.7 5.1-1 4.9 2.4 5.1-1.2 4.9 1.5 5.7 0.4 5.5 1.6 5.5 1.3 5.8 0.1 5.3-2.1 5.5-1.3 8.4 3.3-3.5 5.4-1.5 6.3-5.3 4.7-4.7 5.3-4.6 4.3-4.3 4.6-4.5 4.4-4.1 4.3-5.3 2.9-3.9 4.5-5.3 2.3-4.1 4.3-5.6 1.7 8.3 0-4 3.6-4.4 2.7-5.8 0.4-4.1 3.3-2 6.1-3 5.6 5-1.4 4.8-1.8 5-1.2 5.2-0.6 4.8-1.9 5.4 1.5 4.6-3.3 5.2 0.3 5.3-0.7 4.5 3.8 5.2-0.7 5 1 6.1 0.2 5.9 0.8 5.4 3.2 5.9 0.8 5.3 2.6 5.6 1 5.8-0.3 2.4 5 2.6 5-2.2 4.8-0.2 5.2-0.9 5-2 6-2.3 5.8-4.1 4.9-3.1 5.7-4.4 4.9-2.5 6-1.9 7.4-4.7 6-4.4 5.6-5.6 4.4-5.6 2.4-4.4 4.2-5.7-0.8-5.3 3.5-5.7-1 4.4 4.9 5.6 3.4 3.3 6.7-7 2.7-6.3 4-5 1.1-4.8 2-5.4-1.8-4.8 2-6.5-3.6-6.8-3.1 5.3 1.9 5.2 2.1 4.8 3 4.7 3 5 0.7 5.1-1.2 4.8 3 5.1-0.8 5.2 1.6 4 3.5 4.1 3.2 3 4.8 5.3 2.5 3.4 4.4 1.8 5.6 4.4 4 2.1 5.4 2.7 5.4 1.7 5.8 2.3 5.5 0.9 5 1 4.9-1.1 5.1 0.8 5 2.2 4.8 0.9 5-1.3 5.3 1.6 4.9 2.1 5.4 0.1 6 2.8 5.2 2.9 4.1 3.7 3.4 4.3 2.9 2.4 4.6 5.5 3.6 4.5 4.8 3.5 6.6 3.2 6.7 3.6 5 1.1 6 1.9 5.7-0.2 5.4 3.6 4.4 0.5 5.2 1.1 5 0.1 5.7 3.4 5.1-0.1 5.8-5.5-2.9-6.2-0.4-5.8-1.3-6 0.6-5.7-1.5-5.8-1.1 5.8 1.6 5.7 2.4 6.2 0.2 5.6 2.4 5.4 4.6 4.6 5.4 1.4 6.3 3.6 5.4 1.4 4.9-0.3 5.2 1.4 4.9-3.9 4.3-1.5 5.5-2.1 5.2-4.7 4.1-4.1 4.7 6.3 6.2 7.5 1.2 6-3.2 4-5.5 5-0.2 5-0.6 5-0.5 4.9 2.1 5.2 1 4.9 1.9 3.9 3.4 4.5 2.4 4.1 3 3.8 6.2 3.7 6.3 0.1 5.8 1.2 5.9-1.3 5.8-3.1 4.5-0.1 5.5-1.8 5-4.2 6-3.3 6.5-4.6 5.4-5.4 4.6-5 3.7 1.3 6.3-3.7 4.6-5.1 2.9-5.1 2.3-4.9 2.7-5 5-6 3.7-6.5 2.5-5.1 0.2-4.9 1.1 5.9 3.5 6.6 1.5 5.2 1.3 4.8 2.4 6.4-0.4 6.1 1.7 6.3-0.8 6.2 1.3-2.5 9.5-4.1 5.9-5.9 4.1-5.4 1.8-4.6 3.2-2.5 5-5 1.7-5 2-6 2.7-6.5 1.1-5.3 0-4.7 2.7-5 1.1-6.7-1.4-5.8-3.6-6.7-0.6-5.8-3.2-6.3-0.3-6.2 1.5-6.2 1-6.3 0.3-5-6.3-6.4-0.6-6.1 1.9-5.9-4.1-4.1-5.9 3.8 8.7-5.5 2.1-5.8 0.5-7.5-1.3-5 0.1-5.1 0.6-4.9-2-2.5 7.6-5.4-0.8-4.6-3-6.5 0.1-6-2.6-6.2-3.3-6.3-3-6.6-0.6-5.9-3.1-5.1 0.1-4.9 1.2-5.4 0.7-4.6 3-5 7.5-2.5 7.5-5 2.5-3.9 4.3-3.6 4.5-7.5-6.3-4.9-2.7-5.1-2.3-4.7-3.1-5.3-1.9-6.2-1-6.3-0.3-5.1 0.8-4.9 1.8-5.3 2-4.7 3-7.5 3.7-3.9 4.9-3.6 5.1-3.7-3.8-3.8-3.7-4.8-2.5-5.2-1.3-5-2.4 5-5 4.7-2.8 5.3-1 4.5-3.5 5.5-1.5 5.3-3.3 4.7-4.2 4.5-4 5.5-2.3 4.7-3.6 5.3-2.6 3.2-4.3 4.3-3.2 2.2-5 4-3.7 6.3-6.3 3.3-4.2 4.2-2.9 5-1.6 7.5-2.6 6.3-0.2 6.2 0.2 4.9 1.6 5.2 0.6 4.9 1.6 5 0.1 5 0.3 5 0.8 4.9-3.2 5.1-3 5.4-3.2 4.6-4.3 5.3-4.7 4.7-5.3 4.5-4.4 5.5-3.1 3.8-2.5-4.1 4.1-4.7 3.4-5.8 3.5-4.2 5.3-5.2 2.8-4.8 3.4-5.1 0.7-4.9 1.8-7.5-5-5-0.9-5-0.4-7.5-6.2-2.1-5.8-2.9-5.4-5.1 0.3-4.9-1.6-7.5 0-5-5 7.5-5-5.2-2.1-4.8-2.9-6.2 0.8-6.3 0.5-6.3-0.3-6.2-1-4.5-3.5-5.5-1.5 7.5-3.7-5.1-1.6-4.9-2.2-1.3-6.2 6.3-2 5-4.3 6.7-1.4 5.8-3.6 5-1.7 4.9-1.8 5.1-1.5 4.8-3 5.2-2 4.4-4.6 5.6-2.9 4.9-4.1 2.6-5.9 0.9-6.5 2.8-6-1.2-4.9 0-5.1-5-6.3-5 0.8-5 0.5-4.9 1.5-5.1 1 5-6.2 7.5-6.3 3.7-3.8 3.8-3.7 5-5-5.1-1.4-4.9-1.9-3-5.6-2-6.1 8.3-3.3 5 8.3 6.1 2 5.6 3 4.8-2 5.2 0.3 5.7 2.4 6 1 4.9 1.5 4.9 1.4 5.2 0.4 5.3 0.9 4.7 2.4-3.4-6.6 5-3.4 8.4-5-5-6.6 0.1-5 0.3-5.1 1.2-4.9 1.3-5.1 1.4-5.1 2.3-4.8 1.3-7.1 3.7-6.3-5.1 0.8-4.8-2.5-5.1 0.1-1.3-7.1-3.7-6.3-2.1-5.4-1.3-5.6-1.6-5.6 2-4.8-0.3-5.2 4.4-3.4 4.6-3.1 4.3-3.5 3-5.2 3.3-5 3.7-4.8-4.7 2.4-5.3 0.9-5.6-0.3-5.6 0.2-5.4 1.8-6.8 0.3-6.6 1.3-4.7-2.5-5.3-0.8-3.7 3.9-2.9 4.4-4.6-3.9-5.4-2.7-4.4-3.1-4-3.6-2.1 6-2.9 5.7-2.6-6.3-4-5.4 0.8-5.3 2.5-4.7 5-6.7 3.7-4.4 1.3-5.6 4.6-5.4 5.4-4.6 1.7-5.1 4.5-3.3 2.1-4.9-2-4.8 0.4-5.2-5.5-4.5-4.5-5.5 0.2-5.8-3.7-5.1 0.1-5.8-3.7 5.4-4.6 4.6-1.6 5.2-3.8 3.8-2.9 4.4-1.7 5.4-3.5 4.5-3.5 4.5-1.3 5.6-8.4-3.4 3.8-4.7 2.9-5.3 3.6-6.5 3.1-6.8 1.8-5 2.7-4.5 3.8-3.8 3.8-4.1 2.8-4.9 3.4-4.4 4.1-4.3 4.1-4.2 5.1-3.1-4.7-2.5-5.4 0.4-4.5-3.2-5.4 0.3-5.2 1-4.8 2.3-7.2 2.2-6.1 4.5-5.6-2.4-4.4-4.3 5.5-2.6 4.5-4.1 6.3-2.1 4.8-4.6 5.6-3.3 5.8-3 5.5-3.3 5.3-3.7 2.5-4.8 3.8-3.9 4.3-3.3 2.8-4.6-5.1 2.5-2.9 5.4-5.4 2.1-4.5-4.4-4.2-4.7-4.6-4.3-4.7-3.7-5.3-2.9-3.8-4.1-4-4-2.2-5.3 4.4-6.1 2.3-7.2-4.4-5.6-5.6-4.4-2.6-6.4-0.8-6.9 2.7-4.7 4-3.7 4.8-2.4 5.3-0.7 4.9-1.9 2.4 7.2 4.3 6.2-0.7 6.7-1 6.6 8.3 3.3 1.8-5.3 3.2-4.7 2.1-6.6 1.3-6.7 2.1-7.3 4.5-6 5.7-1.1 5.4-2.4 5.6-1.5 1.5-5.9 1.8-5.8 3.1-6.8 3.6-6.5 3.2-5.1 3.5-4.9 3.7-6.3 1.3-7.1z"/>
<path id="L3" d="M1028.8 1457.0l6.2-2.5 4.7 2.4 5.3 0.1-6.2 5.5-6.3-1.7z"/>
<path id="L4" d="M950.0 870.0l2.4-6.5 0.9-6.8 3.5-6.6 3.2-6.8 3.9-4 5.8-1.5 3.6-4.5 5.1-2.4 4.5-3.4 3.8-4.2 6.6-3.3-1.4 6.6-0.2 6.7-2.6 4.7-0.8 5.3-4.6 2.5-3.7 3.5-3.3 4-5.9 3.1-4.1 5.3-6.7 5-4.6 2.7z"/>
<path id="L5" d="M926.7 873.3l5.1 0 4.9-1.6 3 5.4 0.3 6.2-1.1 7.2-3.9 6.2-3.5 6.3-1.5 7-5 6.7-3.3-3.4 2.3-6.5 1-6.8 2.4-6.5-0.7-6.8-0.9-6.7z"/>
<path id="L6" d="M950.0 981.7l4.3-4.4 5.7-2.3 6.6 2 6.7 1.3-3.3 8.4-6.1 4.5-7.2 2.1-4.3-5.3z"/>
<path id="L7" d="M933.3 1026.7l4.2-5.8 5.8-4.2 4.9-2.1 5.1-1.3 4.9-4 4.6-4.3 3.9-5 6.6 0-4.5 3.2-2.2 5.1-4.1 3.5-2.5 4.9-5.9 4.1-4.1 5.9-4.1 4.5-2.6 5.5-6.6 1.6-2.1-5.7z"/>
<path id="L8" d="M978.3 1043.3l6.7-3.3 2 4.9 1.3 5.1-1.9 4.9-1.4 5.1-5.7-3.3-0.1-6.7z"/>
<path id="L9" d="M1113.3 800.0l6.7 0.7 6.7-0.7 2.9 6.9 3.7 6.4-5.4 5-2.9 6.7-8.3-5-3.2-4.3-3.5-4 2.6-5.6z"/>
<path id="L10" d="M890.0 1048.3l5.1 1.7 4.1 3.4 4.1 3.3-5 8.3 8.4 1.7 5-0.6 4.8-2.6 5.5 2.2 4.7-2.4 6.1 0.5 5.5 2.9 1.1 7.2 3.9 6.1 0.3 7 3.1 6.3 2.9 6.6 2.1 6.8-3.4 4.3-5 2.3 6.1 3 5.6 3.7 0.1 6.8 1.6 6.5-4 3.6-4.4 3.1-5 4.3-3.3 5.7-4.3 2.9-5.1 1.7-3.9 3.7-5 0.1-5-0.1-3.2 4.3-3.5 4.1-0.9 5.7 3.3 5.2-0.7 5.7-0.5 5.7 2.2 5.4-0.1 5.6-1.5 5.6-1.1 5.8-2.4 5.3-1.4 5.4 1 5.7-1.2 5.5-1.6 6.7-1.8 6.7-4.5 4.7-3.8 5.3-1.6 6.1-4.7 4.6-2 5.9-2.6 4.6-3.6 4-2.2 4.8-1.6 6.6-6.9-2-6.5-3-5.6-0.1-5.4 1.4-5.6 0.4-4.9-1.3-5.2 1.4-5 0.1-4.9-1.9-5.4 1.7-4.6 3.3-5 3.6-6.6-0.2-5.1 3.3-5.6-1.3-5.5 0-5.6 1.3-6.3 4-7 2.7-5.9 0.5-5.5 1.9-5.3 2.6-5.4 1.7-5.5 0.9-5.7-1-5.6-0.9-5.5-0.6-5.6 1.5-6.9-1.9-6.4-3.1 4.9-4.1 5.8-2.2 5.9-2-5.7 0.7-5.2-3.3-5.7 0.9-6.8-2.3-6.6-2.7 5.8-2.1 5.7-2.5 5.7-2.6 6.2-1.1-5.9-1.2-6-0.4-5.9-0.8-5.6-2.6-1.4-5.5-3.6-4.5 5.2-2.4 5.6 0.7 5.6 0.2 5.3-1.8-4.7-3.1-5.2-2-5.5-1.6-4.6-3.3 6.7-6.7 5.9-0.3 5.2-3 5.5-1.7 5.1 0 4.9 1.7-1.9-4.9-1.4-5.1 5.3-2.8 6.1-1 5.3-2.9 5 1 5.1-1 5 0.1 4.9 1.6 5.4-1.7 5.6-0.1 5.6 0.1-6.6-6.7-5.5 1.2-5.6 0.4-5.6 0.1-5.6-0.9-5.5-0.6-5.6 1.5-8.3 1.7 4.1-3.7 4.2-3.4 4.9-2.5 5.1-2.1 5.5-2.7 3-5.6 4.9-3.4 2.6-5.5 4-4.5 4.9-2.3 4.9-2.5 5.2-1.8-5-3.4-5.6-0.8-5.2-2.5-5.8 0-4.7-4.2-5.3-3.5-3.4-5.6-4.6-2.8-3.7-3.9-1.1-5-0.6-5 4.4-3.4 4.8-2.9 4.2-3.7 6.6-6.7-4-3.9-3.7-4.2-2.3-5.2 3.7-6.5 3-6.8 3.2-4.4 3.5-4 6.7-0.5 6.6-1.1 7.3 2 6 4.6 3.5 5.6 4.9 4.4 5.3-4.2 6.3-2.4 7.1 2.5 6.3 4.1 2.6-5 4.8-3.3 2.6-5 6.3-4 7-2.7-6.7-3.3-6.5-2.4-6.8-0.9-3.3-6.7 6.2-4.3 7.1-2.4 3.3-5 3.4-5 6.6-1.7 6.7-1.6 5.7-0.4 5.3-2.3 5.7-0.6 5.5 2.5 4.5 4.1 2.5-4.7 0.8-5.3 5-2.5z"/>
<path id="L11" d="M1631.7 1123.3l5.4-4.1 6.2-2.5 6.6 1.9 6.8-0.3 4.4 3.7 5.6 1.3 4.3 4.3 2.3 5.7 1.6 6.6 0.1 6.8-0.8 5.3-2.5 4.7-5.6 2.5-6.1 0.8-6.7-2.4-6.6-2.6-4.6-4.7-5.4-3.6-2.2-5.1-2.8-4.9 1.2-6.7z"/>
<path id="L12" d="M1678.3 1150.0l2.7 1.7-2.4 5.4-1.4 5.7-0.5 6-0.7 5.9-2.7 5.3-3.3 1.7 1.7-5.2 0.4-5.6 0.9-5.4 3.9-4.6-0.6-5.8z"/>
<path id="L13" d="M1685.0 1105.0l4.8-2.6 4.6-3.1 5.6-1 4-3.4 4.1-3.3 5.2-1.6 1.7-5.1 3.4-4.1 3.3-4.1 6-0.9 5.6-2.5 6.7 0.7 6.7 1 2.6 5.8 2.4 5.9 1.6 5.4 0.8 5.5-0.8 5.7 2 5.7-0.3 6-8.3 0-3.5 4.9-4.9 3.4 2.4 5.7 4.3 4.3-5 6.7-6.7 3.3 0.2 5.2-1.8 4.8-8.4-3.3-5.3-1.8-4.7-3.2-6.6 0-6.7 0-3.4-4.1-3.3-4.2-1-5.2-2.3-4.8-0.7-5-1-5-1.3-6z"/>
<path id="L14" d="M1685.0 1170.0l6-2.2 5.7-2.8 6.7 0.2 6.6 1.5 4.6 2.8 5.4 0.5 5.1-1.2 4.9-2.1 0.5 6.1 2.8 5.5-2.8 6.1-3.8 5.6-3.4-8.3-4.7 2.4-5.3 0.9-4.5 3.5-5.5 1.5-5.4-2.8-4.6-3.9-4.9-2.3-3.4-4.3z"/>
<path id="L15" d="M1740.0 1158.3l5.1 0.2 4.9 1.5 1.7 3.3-4.9 1.6-5.1 0.1z"/>
<path id="L16" d="M1846.7 1133.3l6.6 3.4 5.4 4.1 6.3 2.5-0.4 5.1-1.3 4.9-5-1.1-5-0.5-6.6-5 0.2-6.7z"/>
<path id="L17" d="M1676.7 985.0l4.7-2.3 5.3 0 1.6 4-8.3 2.6z"/>
<path id="L18" d="M1659.3 1093.3l4-4 0.6 5.5 1.8 5.2-4 1.7z"/>
<path id="L19" d="M1633.3 1193.3l8.4-5 5 6.7-6.7 5z"/>
<path id="L20" d="M1703.3 1223.3l5.2-1.2 4.8-2.1 3.4 5-4.7 2.4-5.3 0.9z"/>
<path id="L21" d="M1933.3 966.7l1.7 0-2.3 5.1-0.2 5.4 0 5.5 0 5.4-1.8 5.2-0.8 5.7-3.5 5.1-1 5.6 0.2 6-3.1 5.1-0.2 5.9-1 5.8-1.8 5.6-2.4 5.4-1.8 5.5-0.3 6-3 0 1-5.3 2.3-5 1.2-5.3-0.1-5.5 0.1-5.5 1.8-5.1 1.4-5.5 1.8-5.5 2.3-5.3-1-6.2 2.1-5.3 1.8-5.5 0.8-6.1 3.7-5.2 0.1-6.3z"/>
<path id="L22" d="M2018.3 908.3l-5 3.4-5.5 1.8-5.3 2.6-5.8 0.6-5.9 4.1-4.1 5.9-3.1 4.1-2 4.7-4.1 3.3-2.5 4.5-0.5 5.7 0.9 5.5 1.3 5.5 1.1 6 4.7 4.6 0.8 6.1-1.8 5.4 1 5.7-0.8 5.5 3.1-4.3 3.5-4 0.4-5.4 2.2-4.8 2.4-4.8 3.2-6.7 3.5-6.6 3.3-5.1 1.7-5.8 1.7-5.8 0.7-5.6-0.5-5.6 1.4-5.5 2.1-5.8 5.2-3.8z"/>
<path id="L23" d="M2115.0 855.0l8.3-5 4.3-4.3 5.7-2.4 7.1-1.5 6.3-3.5 7 0.5 6.3 2.9 6.7 6.6-5 8.4-4 4.4-4.4 3.9-4.7 3.2-5.3 1.8-6.6 1.7-1.7 8.3-2.3 6.5 0.6 6.8-5 1.7 1.1-5-1.4-5 0.3-5-3.3-6.7-6.7-5-0.9-6.8z"/>
<path id="L24" d="M2118.3 820.0l5.6-2.2 6.1 0.5 3.8-5.5 2.9-6.1 6.6 1.6 6.7 6.7 5 5-6.7 6.7-5 6.6-6.6 0-3.4-8.3-5.1-0.2-4.9-1.5z"/>
<path id="L25" d="M2163.3 833.3l5-1 5-0.6 1.7 6.6-8.3 3.4z"/>
<path id="L26" d="M2005.0 726.7l4.5-2.9 3.8-3.8 6.7 1.2 6.7 0.5 4.9 4.3 5.1 4-0.9 5.8-0.8 5.9-5.4 3.6-6.3 1.4-5.8-1.8-5.8-1.6-5.7-6.6 0.6-5.1z"/>
<path id="L27" d="M2046.7 733.3l8.3-3.3 2.9 5.3 3.8 4.7-2.7 4.9-2.3 5.1-8.4-3.3-0.1-6.8z"/>
<path id="L28" d="M2076.7 720.0l5.4-1.5 5.4-2 5.8 0.2 6.1 0.9 5.6 2.1 5 3.6 3.2 6.3 0.1 7.1-5.7 1.1-5.4 2.1-5.5 1.8-5.8-2.4-5.2-3.5-5.7-2.5-2.9-6.3z"/>
<path id="L29" d="M2122.7 343.3l4.8-1.8 5.2 0.2 1.6 6.6-8.3 1.7z"/>
<path id="L30" d="M1603.3 2083.3l5 0 1.8 5.4-0.3 5.9 1.9 5.4 0.7 5 1.1 4.9-1.9 5.2 1.7 4.9-1.3 5.8 2.8 5.9-0.3 5.8-1.2 5.8-1.7 4.9-1.4 4.9-0.4 5.3-1.5 4.9-2.2 4.9-1.4 5.3-3.1 4.6-1.6 5.2-2.3 5.2 0.2 5.7-2.8 5.1-0.1 5.7-8.3-5-6-4-4-6-2.2-5.3-4.1-3.9-3.7-4.1-0.1-5.8-1.2-5.5-2.1-5.4-0.8-6.9-2.5-6.4-0.8-6.7-0.9-6.7 3.1-4.8 2-5.5 3.3-4.7 3.8-4.1 4.6-3.1 4.9-2.8 6.4-3.2 6.9-1.8 4.6-2.8 3.8-3.8 1.6-6.6z"/>
<path id="L31" d="M1646.7 2098.3l5.2-2.7 5.8 0.1 5.6-0.7 1.7 8.3-5-0.8-5 0.5-5 0.3z"/>
<path id="L32" d="M1530.0 2251.7l5-6.7 5.6-0.1 5.4 2.6 5.7-0.8 5.7-1.5 3.8-5 5.5-1.9 3.6-3.7 3.8-3.4 4.7-2.1 4.5-2.4 6.7-3.1 5-5.3 5.4 2.1 4.1 4.5 5.5 1.8 2.5 5 2 5.2 2.9 4.8 2.6 5 0.9 6.2 3.4 5.4 2.3 5.7 1.7 6-0.9 5.1-3.7 4-1.2 5-3.3 4.1-0.9 5.1 2 5.3 3 4.7-2.1 5.2-0.3 5.3-0.7 5.4 0.6 5.5-0.8 5.3 0.2 5.4-1.2 5.3-2.5 5.1 0.4 5.5-0.2 5.4-2.2 4.8-0.9 5 0.7 5.2-1 5-5.5-0.2-4.2-3.9-5-1.8-5.3-0.8-4.9 1.9-5.1 1.4-2.7 7-3.9 6.4-4.9 2.4-3.5 4.2-5.8-0.7-5.8-0.9-3.5-6.3-4.9-5.4-2.4-7.1-4.2-6.2 0.3-5.7 0.5-5.7 2.5-5.3 1.9-5.4 0.6-5.6-0.8-5.7 3.9-6.1 1.1-7.2-1.9-6.9-3.1-6.4-0.1-5.6 2.5-5.4-0.8-5.7-2.1-5.4 1.2-6-2.4-5.3-4.7-2.4-2.1-5.4-4.9-2.2-2.5-5.6z"/>
<path id="L33" d="M1533.3 2233.3l3.8-3.8 4.6-2.8-1.7 6.6z"/>
<path id="L34" d="M1985.5 2426.7l-3.1 0-8.7 4.4-4.9 1.3-5.1-0.1-2.5 3.7-6.2 4.4-8.7-1.9-7.4 1.3-7.5 3.7-4.8 2.6-5.1 1.7-5.3 0.6-4.6 2.5-5 1-5 0.3-9.9-0.6-7.5 1.8-6.2 2.5-6.2 1.2-6.2-2.4-6.2-3.1-1.3-3.8-6.2 0-3.7-1.8-2.5-5-5 1.2-6.2 1.3-4.3 2.5-0.6 3.7-5 3.7-5 1.9-4.9-3.1-3.8-6.2-2.5-1.3-0.6 3.7-4.3 2.5-5 2.5-3.1 5-1.9 6.2-0.6 6.2-0.6 3.7 3.1 6.2 4.4 2.5 3.7 3.8 3.7 3.1 6.2-1.3 8.7 0 3.7 2.5 3.8 3.1 7.4 0 5 3.1 5 4.4 4.9 3.1 5 3.1 5 1.2 4.9 2.5 3.8 3.7 4.9 2.5 5 2.5 5 1.2 4.9-0.6 6.2-0.6 6.3 1.9 4.9 2.4 5 4.4 3.7 3.7 3.7 5 2.5 3.7 5 1.9 5 1.2 4.9 2.5 5 0.6 5-2.5 4.9 2.5 5 0.6 4.4 2.2 3.1-2.2-1.3-4.3-1.2-3.7 1.2-5 2.5-5 3.7-3.7 5.6-4.3-2.5-3.1-0.6-3.2-3.7-3.7-2.5-1.8 2.5-4.4-5-3.1-4.9-3.7-1.2-4.9 0.5-5.1 3.1-4.9 1.3-7.5 1.8-7.4 4.4-7.5 2.1-4.6 2.9-4.1 4.9-8.7 3.8-7.4 2.4-6.2z"/>
<path id="L35" d="M1761.9 2546.6l3.1-0.6 4.9 3.1 0 3.7-3.1 1.2-3.7-3.1z"/>
<path id="L36" d="M1935.2 2408.1l3.7 0-0.6 2.5-2.9-0.4z"/>
<path id="L37" d="M1941.4 2412.4l3.1 0 0.6 3.7-3.1-0.2z"/>
<path id="L38" d="M1943.9 2419.9l2.4 0.6 1.3 2.5-2.5-0.6z"/>
<path id="L39" d="M1781.1 2462.7l3.1 0 2.5 2.5-4.3-0.4z"/>
<path id="L40" d="M2434.7 2314.8l4.6-2.6 5.3-0.5 8.7 4.9 4.3 3.1 3.1 4.4 8.7 3.7 4.8 1.9 5.2 0.6 6.2-0.5 6.2 1.1 9.9-1.2 5 5.6 1.5 4.9 1 5 3.1 4 1.9 4.7 4.9 6.2 7.5 2.5 9.3-0.6 1.9 8.1-1.9 8-5.6-4.3-5 2.5-6.2-5-6.2-6.2-6.2-6.2-2.5-2.5-4.9-5-7.5-0.6-5.1 0.2-4.8 1.7-8.7-1.3-0.7-3.7-1.8-3.7-5-2.5-6.2-3.7-6.2-5-6.2-3.7-7.5-1.9-7.4-0.6-6.2 2.5-3.8-0.7 5-5.5 5-5z"/>
<path id="L41" d="M2467.0 2385.0l5.6-0.3 5.5-1 1.3 7.5-7.5 2.5z"/>
<path id="L42" d="M2450.8 2297.4l4.4-0.6 0.8 4.3-4 0.9z"/>
<path id="L43" d="M2462.0 2295.5l5 3.8 6.2 0 1.2 3.1-5 0.8-4.9-2.1z"/>
<path id="L44" d="M2479.4 2285.6l3.7 0-2.3 5.4 0.4 5.8-2.4-0.7 0.7-5.2z"/>
<path id="L45" d="M2219.3 2291.0l6.7-3.3 2.9 4.5 3.8 3.8 4.7 4.6 3.6 5.4 4.7 3.6 3.6 4.7-5 0-4.7-4.6-5.3-3.7-4.5-4.1-5.5-2.6z"/>
<path id="L46" d="M2286.0 2354.3l5-1.6 0.8 5.5 1.9 5.4-1 5.7-5 1.7 0.1-5.6-0.6-5.6z"/>
<path id="L47" d="M2279.3 2391.0l6.7-5 4.1 3.4 4.2 3.3 4.4 2.9 1.6 5.4 4 3.3-8.3 3.4-5.4-1.7-4.6-3.3-2.5-6.4z"/>
<path id="L48" d="M2299.3 2422.7l6.7-3.4 5.2 3 4.5 3.8 3.6 4.9-5 6.7-4.8-3-5.2-2-3.3-4.6z"/>
<path id="L49" d="M2459.3 2516.0l5 0.4 5-0.4-0.3 6 2 5.7-8.3 0-0.8-6.1z"/>
<path id="L50" d="M2496.0 2167.7l5-1 5-0.7 0.5 5.4 2.8 4.6-4.9 1.8-5.1 1.5-1.2-5.9z"/>
<path id="L51" d="M2552.7 2177.7l7.3-1.7 0 6.7z"/>
<path id="L52" d="M2536.0 2217.7l4.9 1.6 5.1 0 5.2-2.2 4.8-2.8 1.8 4.9 0.6 5-0.7 5.1-5.9 0.2-5.8 1.5-8.3-1.7-0.9-5.8z"/>
<path id="L53" d="M2517.7 2304.3l8.3-1.6 4.1 4.5 2.6 5.5-5.1 0-4.9 1.6-2.4-5.1z"/>
<path id="L54" d="M2547.7 2372.7l6.8 2 5.5 4.6 0 6.7-5.1-3.7-5.6-3z"/>
<path id="L55" d="M2529.3 2401.0l5-1.7-1.7 4.9 0.1 5.1-5 0z"/>
<path id="L56" d="M2544.3 2469.3l6.1-2.9 5.6-3.7 1.7 8.3-5.6 2.4-6.1 0.9z"/>
<path id="L57" d="M1877.3 1901.7l4.4-1.7 0 5.4 3.5 4.4 0.9 5.1 1.2 5.1-0.2 5.1 0.7 5 0.3 5.1 1.9 4.8-5 1.7-0.7-5.1-0.9-5-1.7-4.9-1.8-4.8 0.5-5.3-2.7-4.7-0.8-5z"/>
<path id="L58" d="M1889.3 1908.3l9-1.6 1.6 7 3.4 6.3-3.6 4.7-4.7 3.6-5-8.3 0-5.9z"/>
<path id="L59" d="M1900.0 1946.7l5-1.7 3.9 4.1 1.1 6.1 4.8 3.5 3.2 4.7 3.1 4.6 2.2 5.3 5.5 3.4 2.5 6.5 5.4 3.5-5 1.6-2.7-4.8-5.4-2.1-4.1-3.4-2.8-4.7-1.9-5-4.5-3.3-0.7-5.8-5-3-2.7-4.5z"/>
<path id="L60" d="M2001.0 2049.3l4.9-1.9 5.1 0.6 5-0.3 5.5 3.3 6.2 1.7-6.1 0.7-5.6 2.6-6.8 0.6-6.5-2.3z"/>
<path id="L61" d="M1987.7 2062.7l5.5 0.3 5.4-0.2 5.3-1 5.4-0.8 5.5 3 5.9 1.5 6.2 0.3 5.8 1.9-1.7 3.3-5.1-2.6-5.7-0.2-5.8 0.6-5.1-2.8-5 1.1-5-1.3-5 1.3-5-0.4z"/>
<path id="L62" d="M2016.0 2079.3l5.6 0.1 5.4-2.4 5.7 0.7 6 0.2 5.2 2.7 5.4 2.1-1.6 3.3-6.4 0.4-6-1.7-6-2-5.8 0.7-5.8-0.7z"/>
<path id="L63" d="M2059.3 2082.7l5.8 0.8 5 3.5 5.9 0.7 6.6 3.4 6.7 3.2-1.6 1.7-5.5-0.2-4.1-4.3-5.4-0.5-7.1-1.9-6.3-3.8z"/>
<path id="L64" d="M1916.0 1969.3l3.5 4.3 5.5 2 3.2 4.5 2.7 5.1 5.1 2.5 3.7 4.2 5.7 2.1 3.5 4.6 3.8 4.1-3.4 2.6-3.2-4.7-5.7-1.8-4.2-3.4-3.5-4.4-4.6-3.8-4.8-3.5-4.1-4.3-3.2-5.1z"/>
<path id="L65" d="M1816.7 70.0l-0.7 6.8 2.3 6.5-2 5.7-2 5.6-2.6 5.4-1.8 5-4.1 3.7-2.5 4.6 1 6.9 2.4 6.5-6.7 6.6-5.2 3.1-4.8 3.6-5.8 2.9-4.9 4.4-6 2.7-6.1 0.9-5.2 3-5.3 2.8-3.8 4.2-5.6 1.8-4 4-6 4-4 6-6.6 5-0.2-5.2 1.8-4.8 5.4-4 3-6 4.6-3.2 3.6-4.4 5.1-2.4 4.2-3.2 4.5-2.7 4.6-2.5 2.5-5.6 4.2-4.4 0.9-6.1-0.6-6.2 1.4-6 5.1-5.1 6.5-3.2 2.5-5.6 4.2-4.4 4.6-2.8 5.4-0.6 2.9-4.3 3.9-3.8 1.5-5.2 3.1-5.9z"/>
<path id="L66" d="M1397.0 1307.5l0.5-5.7 1.5-5.6 5-3.7 1.5 7.5-2.2 4.6-2.8 4.2z"/>
<path id="L67" d="M1412.5 1285.5l5.1-2.6 4.9-2.9 1.3 2-4.4 3.8-5.6 1.7z"/>
<path id="L68" d="M1440.0 1276.8l4.9-1.3 4.9-1.6 5.3 1 4.9-1.4 0.5 2-5 0.9-4.8 1.9-5 0.6-5.2-0.1z"/>
<path id="L69" d="M1467.5 1272.5l5.8-1.2 5.7-1.3 6 0 0.5 2-5.9 0.3-5.8 0.9-5.8 1.3z"/>
<path id="L70" d="M1497.5 1265.5l6.7-0.5 5.8-3.5 0.8 2-6.5 1.3-6.1 2.7z"/>
<path id="L71" d="M1522.5 1257.5l5.7-0.4 5.6-1.3 5.7-0.6 5.5-1.4 0.5 2-5.4 2.2-6-1.5-5.5 1.9-5.6 1.1z"/>
<path id="L72" d="M1178.3 2318.3l6.2-1.8 5.5-3.2 5.2-3.9 6.7-1.4 4.8-4.7 6.3-3.9 7-2.7 6.8 0 6.5-1.7-5 8.3 8.4 5 4.9 3.5 5.1 3.2-1.7 8.3-4.6 3.9-2.7 5.5-4.4 4-4.7 2.3-3.6 4.1-5 1.9-2.5-4.6-4.4-3-3.1-4.1-8.3-3.3-3.4-6.7-8.3 0-5 5-3.3-6.6z"/>
<path id="L73" d="M1268.3 2293.3l5.9-0.9 5.8-1.7 4.6 3.2 5.4 1.1 3.8 4.9 3.5 5.1-0.6 5.7-5.1-2.7-4.9-3-5.4-0.5-4.6-2.8-6.7-1.7z"/>
<path id="L74" d="M1104.0 2358.3l5.4-2.2 3.9-4.4 6.8-1.2 6.6-2.2 3.3 6.7-6.7 6.7-5.3 1.9-4.7 3.1-7.3-1.7z"/>
<path id="L75" d="M1113.3 2378.3l5-2.3 6.7 5.7-5-0.7-5 1.3z"/><clipPath id="land"><use href="#L0"/>
<use href="#L1"/>
<use href="#L2"/>
<use href="#L3"/>
<use href="#L4"/>
<use href="#L5"/>
<use href="#L6"/>
<use href="#L7"/>
<use href="#L8"/>
<use href="#L9"/>
<use href="#L10"/>
<use href="#L11"/>
<use href="#L12"/>
<use href="#L13"/>
<use href="#L14"/>
<use href="#L15"/>
<use href="#L16"/>
<use href="#L17"/>
<use href="#L18"/>
<use href="#L19"/>
<use href="#L20"/>
<use href="#L21"/>
<use href="#L22"/>
<use href="#L23"/>
<use href="#L24"/>
<use href="#L25"/>
<use href="#L26"/>
<use href="#L27"/>
<use href="#L28"/>
<use href="#L29"/>
<use href="#L30"/>
<use href="#L31"/>
<use href="#L32"/>
<use href="#L33"/>
<use href="#L34"/>
<use href="#L35"/>
<use href="#L36"/>
<use href="#L37"/>
<use href="#L38"/>
<use href="#L39"/>
<use href="#L40"/>
<use href="#L41"/>
<use href="#L42"/>
<use href="#L43"/>
<use href="#L44"/>
<use href="#L45"/>
<use href="#L46"/>
<use href="#L47"/>
<use href="#L48"/>
<use href="#L49"/>
<use href="#L50"/>
<use href="#L51"/>
<use href="#L52"/>
<use href="#L53"/>
<use href="#L54"/>
<use href="#L55"/>
<use href="#L56"/>
<use href="#L57"/>
<use href="#L58"/>
<use href="#L59"/>
<use href="#L60"/>
<use href="#L61"/>
<use href="#L62"/>
<use href="#L63"/>
<use href="#L64"/>
<use href="#L65"/>
<use href="#L66"/>
<use href="#L67"/>
<use href="#L68"/>
<use href="#L69"/>
<use href="#L70"/>
<use href="#L71"/>
<use href="#L72"/>
<use href="#L73"/>
<use href="#L74"/>
<use href="#L75"/></clipPath><clipPath id="cl_mainland"><use href="#L0"/></clipPath><clipPath id="cl_gb"><use href="#L2"/></clipPath><clipPath id="cl_ireland"><use href="#L10"/></clipPath></defs>
<g id="base"><use href="#L0" fill="#e0e9f3"/>
<use href="#L1" fill="#edf3f7"/>
<use href="#L2" fill="#cfdbe8"/>
<use href="#L3" fill="#cfdbe8"/>
<use href="#L4" fill="#e0e9f3"/>
<use href="#L5" fill="#e0e9f3"/>
<use href="#L6" fill="#e0e9f3"/>
<use href="#L7" fill="#e0e9f3"/>
<use href="#L8" fill="#e0e9f3"/>
<use href="#L9" fill="#e0e9f3"/>
<use href="#L10" fill="#edf3f7"/>
<use href="#L11" fill="#edf3f7"/>
<use href="#L12" fill="#edf3f7"/>
<use href="#L13" fill="#cfdbe8"/>
<use href="#L14" fill="#cfdbe8"/>
<use href="#L15" fill="#cfdbe8"/>
<use href="#L16" fill="#a1aed2"/>
<use href="#L17" fill="#e0e9f3"/>
<use href="#L18" fill="#edf3f7"/>
<use href="#L19" fill="#edf3f7"/>
<use href="#L20" fill="#edf3f7"/>
<use href="#L21" fill="#bfcfe5"/>
<use href="#L22" fill="#6c4b8d"/>
<use href="#L23" fill="#edf3f7"/>
<use href="#L24" fill="#edf3f7"/>
<use href="#L25" fill="#edf3f7"/>
<use href="#L26" fill="#edf3f7"/>
<use href="#L27" fill="#edf3f7"/>
<use href="#L28" fill="#edf3f7"/>
<use href="#L29" fill="#edf3f7"/>
<use href="#L30" fill="#cfdbe8"/>
<use href="#L31" fill="#e0e9f3"/>
<use href="#L32" fill="#edf3f7"/>
<use href="#L33" fill="#edf3f7"/>
<use href="#L34" fill="#edf3f7"/>
<use href="#L35" fill="#edf3f7"/>
<use href="#L36" fill="#edf3f7"/>
<use href="#L37" fill="#edf3f7"/>
<use href="#L38" fill="#edf3f7"/>
<use href="#L39" fill="#edf3f7"/>
<use href="#L40" fill="#e0e9f3"/>
<use href="#L41" fill="#e0e9f3"/>
<use href="#L42" fill="#e0e9f3"/>
<use href="#L43" fill="#e0e9f3"/>
<use href="#L44" fill="#e0e9f3"/>
<use href="#L45" fill="#e0e9f3"/>
<use href="#L46" fill="#e0e9f3"/>
<use href="#L47" fill="#e0e9f3"/>
<use href="#L48" fill="#e0e9f3"/>
<use href="#L49" fill="#e0e9f3"/>
<use href="#L50" fill="#e0e9f3"/>
<use href="#L51" fill="#e0e9f3"/>
<use href="#L52" fill="#e0e9f3"/>
<use href="#L53" fill="#e0e9f3"/>
<use href="#L54" fill="#e0e9f3"/>
<use href="#L55" fill="#e0e9f3"/>
<use href="#L56" fill="#e0e9f3"/>
<use href="#L57" fill="#8a8cbf"/>
<use href="#L58" fill="#8a8cbf"/>
<use href="#L59" fill="#8a8cbf"/>
<use href="#L60" fill="#8a8cbf"/>
<use href="#L61" fill="#8a8cbf"/>
<use href="#L62" fill="#8a8cbf"/>
<use href="#L63" fill="#8a8cbf"/>
<use href="#L64" fill="#8a8cbf"/>
<use href="#L65" fill="#c0fbe3"/>
<use href="#L66" fill="#bfcfe5"/>
<use href="#L67" fill="#edf3f7"/>
<use href="#L68" fill="#edf3f7"/>
<use href="#L69" fill="#edf3f7"/>
<use href="#L70" fill="#edf3f7"/>
<use href="#L71" fill="#edf3f7"/>
<use href="#L72" fill="#cfdbe8"/>
<use href="#L73" fill="#cfdbe8"/>
<use href="#L74" fill="#cfdbe8"/>
<use href="#L75" fill="#cfdbe8"/></g>
<g id="mos"><g clip-path="url(#cl_mainland)"><path fill="#e0e9f3" d="M1476 1170l3 6 5 6 5 5 5 4 8 3 3 6 6 4 4 6 6 4 3 7 8 2 6 4 7 4 6 4 5 0 9 1 7 2 7 5 9 0 7 4 8 2 7-3 7-1 7 2 5 7 7 3 5 6 7 3 5 6 7 3 6 5 8-8 10-3 1-10 0-9-2-9 1-7 4-7 5-6 3-7 0-8 3-6 2-7 5-6 0-8 2-7 5-6 2-7 3-7 3-6 0-3-5 0-8 1-5 5-7 3-5 5-5 5-8 0-4 7-8 1-7 2-5 5-10-1-9 3-7-2-7-3-7-1-7-3-7-4-7-2-8-1-8 1-7-4-7 2-7 1-7 0-8 2-7-1-7 2-8-2-7 1-7 4-7 0-8 0-7-1-7 2z"/>
<path fill="#e0e9f3" d="M1603 1249l0 9 7 5 2 8-1 8 8 6 0 8 9 3 9-1 9-3 8 3 5-9 7-6-6-5-7-3-5-6-7-3-5-6-7-3-5-7-7-2-7 1-7 3z"/>
<path fill="#edf3f7" d="M1683 1241l2 9 0 9-1 10 5 5 6 4 6 3 7 6 4 8 8-2 8 2 8 1 8-2 8 0 8 1 9 10 7-3 8-2 7-4 6-4 8-3 7-3 8-1 0-1 6-6 2-8 5-6 3-7 8-5 5-6 3-7 1-8-2-8 6-7-2-8 1-8 3-7-2-8 4-8-2-8-1-8-1-7-3-8-1-8 4-8-3-8-1-7-1-7-7-5 0-7-4-6 0-1 0-7-6-5 0-8-9 8-6 3-7 3-4 8-6 4-9 0-4 7-6 5-7 2-8 1-4 7-8 1-3 8-1 0-8 1-6 3-4 7-8 2-6 4 0 3-3 6-3 7-2 7-5 6-2 7 0 8-5 6-2 7-3 6 0 8-3 7-5 6-4 7-1 7z"/>
<path fill="#e0e9f3" d="M1551 1235l0 7 5 6 0 1-3 7 5 6 0 8 2 6 0 8 5 6 0 7 0 7 5 6 0 7 0 1 7 1 7-1 7 1 7-1 7 0 2 7 5 5 6 5 4 6 4 6 8 1 7-5 8-2 6-7 7-4 10 2 9 3 6-5 9 0 5-6 1-8 4-7 5-6 1-8-4-8-7-6-6-3-6-4-5-5-10 3-8 8-7 6-5 9-8-3-9 3-9 1-8-3-1 0 0-8-8-6 1-8-2-8-7-5 0-9-8-2-7-4-9 0-7-5-7-2-9-1-5 0z"/>
<path fill="#cfdbe8" d="M1506 1347l0 4 4 8 6 5 7 5 1 1 7 2 7 3 8 1 7-4 7-2 6-3 2-8-4-7 1-8 0-8-4-7 4-6 5-5 0-1 0-7-5-6 0-7 0-7-5-6 0-8-2-6 0-8-5-6 3-8-5-6 0-7-6-4-7-4-6-4-8-2 0 7 0 7-2 7-3 7 1 8-1 7-4 7 1 7-3 7 3 8-4 6-1 8 2 7 4 6 3 7-5 6-2 9-7 5z"/>
<path fill="#e0e9f3" d="M1701 1324l5 5 6 4 7 2 3 8 7 3 5 5-1 8-2 8 3 8-3 5 0 8 3 8 7 6 0 1 7 2 8-3 8 2 7 1 8 0 7-2 8 1 8-1 1 2 7 5 9 1 9 1 8 2 7-3 6-3 8-1 5-6 1-8-4-7 2-8-5-8-1-7 0-1 5-6 0-8 3-7 5-6 3-7-6-5-4-6-8-1-7-3-4-7-5-6-6-4-7-5-4-6-8 1-7 3-8 3-6 4-7 4-8 2-7 3-9-10-8-1-8 0-8 2-8-1-8-2-8 2-1 8-5 6-4 7-1 8z"/>
<path fill="#e0e9f3" d="M1668 1393l3 8-2 8 5 7 1 8 1 7 7 6 8 4 1 0 7 5 7 4 4 7 7 4 8-3 7 5 8 0 2-7 3-6 1-8 0-7 5-6 8-1 7 0 8 0 8 3 7-2 5-8 2-10 7-6-1-2-8 1-8-1-7 2-8 0-7-1-8-2-8 3-7-2 0-1-7-6-3-8 0-8 3-5-3-8 2-8 1-8-5-5-7-3-3-8-7-2-6-4-5-5-5 6-9 0-6 5 1 7 0 7 2 7 4 6 0 7 1 7-7 6-6 6-8 5z"/>
<path fill="#e0e9f3" d="M1740 1463l8 9 8 2 7-2 6-4 1 0 7 0 7-2 7 0 2-8-5-7 0-7 0-8 1-7-7 2-8-3-8 0-7 0-8 1-5 6 0 7-1 8-3 6-2 7z"/>
<path fill="#edf3f7" d="M1598 1416l0 5 8 4 7 4 6 6 5 6 6 6 7-3 0-1 0 1 9 1 6-8 9 0 6-6 1 0 8 0-1-7-1-8-5-7 2-8-3-8 8-5 6-6 7-6-1-7 0-7-4-6-2-7 0-7-1-7-9-3-10-2-7 4-6 7-8 2-7 5 1 8 7 5 3 6 5 6 3 7 1 7 0 1-6 5-9 0-5 8-9 0-6 5-6 5-9 0-6 5z"/>
<path fill="#cfdbe8" d="M1561 1329l4 7 0 8-1 8 4 7-2 8 6 7 8 4 8 4 0 9 5 7 1 9 3 8 1 1 6-5 9 0 6-5 6-5 9 0 5-8 9 0 6-5 0-1-1-7-3-7-5-6-3-6-7-5-1-8-8-1-4-6-4-6-6-5-5-5-2-7-7 0-7 1-7-1-7 1-7-1-5 5-4 6z"/>
<path fill="#cfdbe8" d="M1523 1386l2 8-2 8 1 8 10 2 2 3 8 3 7-1 8-2 8 2 7-4 8 3 8-1 7 0-3-8-1-9-5-7 0-9-8-4-8-4-6-7-6 3-7 2-7 4-8-1-7-3-7-2-1 8 0 8z"/>
<path fill="#bfcfe5" d="M1500 1416l2 7 1 8 0 7 3 8 0 8 9 2 6 5 6 5 1 0 3 8 6 5 5 6 5-5 7-4 6-4 2-8 7-3 1-3 4-7 5-6 5-6 6-5 5-6 3-7 0-5-1-1-7 0-8 1-8-3-7 4-8-2-8 2-7 1-8-3-2-3-10-2-8 1-7-2-7-1-2 8z"/>
<path fill="#a1aed2" d="M1439 1412l5 4 4 7 7 3 5 5 2 6 1 8 5 6 8 3 9 3 2 2 1 0 1 0 8-4 9-1 0-8-3-8 0-7-1-8-2-7 2-8-1-1-3 0-6-5-4-6-4-6-7-4-7 3-7 3-5 6-6 4-7 2-6 4 0 4z"/>
<path fill="#e0e9f3" d="M1541 1497l0 1 4 13 2 1 0 1 8 2 8 0 8-5 8 4 8-4 8 2 0 1 2 1 6-4 7-1 7-3 7 1 7-2 6-3 7-1 1-3 0-1-3-8-2-8-4-7-6-6 0-1-1-10 1-10-6-6-5-6-6-6-7-4-8-4-3 7-5 6-6 5-5 6-5 6-4 7-1 2 0 1-7 3-2 8-6 4-7 4-5 5-1 12z"/>
<path fill="#edf3f7" d="M1630 1447l-1 10 1 10 0 1 6 6 4 7 2 8 3 8 0 1-1 3 5 9 2 10 5 8 9 6 8 3 7-4 8-1 5-7 7-3 7-4 7 1 8 0 7 5 7 0 6-5 3-6 3-8-3-9 3-8 0-8 0-8-8-9-8 0-7-5-8 3-7-4-4-7-7-4-7-5-1 0-8-4-7-6-9 0-6 6-9 0-6 8-9-2-7 4z"/>
<path fill="#edf3f7" d="M1745 1512l0 1 7 1 8-2 7-1 8 3 8 1 7-2 8 0 0-1-2-8 1-7 7-7-1-8 1-8-6-4-7-4-7 0-7 2-7 0-7 4-7 2-8-2 0 8 0 8-3 8 3 9-3 7z"/>
<path fill="#edf3f7" d="M1788 1451l5 7-2 8 7 4 6 4 2 0 8-1 7 5 8-1 7 3 8 0 7 3 3-9 5-7 7-3 5-7 9 1 7-4 5-6 1 0 0-7 2-7-1-7-2-8 0-7-8-1-7-3-6-7-9 0-5 6-8 1-6 3-7 3-8-2-9-1-9-1-7-5-7 6-2 10-5 8-1 7 0 8 0 7z"/>
<path fill="#cfdbe8" d="M1531 1564l7 5 9 1 7 6 6-4 7-3 4-7 8-2 8 1 8 1 8 1 1-8-2-8 1-9-1-8-4-8-1-8-2-1 0-1-8-2-8 4-8-4-8 5-8 0-8-2 0 1-3 7 0 8-1 7-7 6 2 8-4 7-3 7z"/>
<path fill="#cfdbe8" d="M1452 1491l5 5 3 6 3 12 9 1 7-5 7-3 8-3 5-6 0-1 7-1 7 0 7 1 7 3 7-4 7 1 1-12-5-6-6-5-3-8-7-5-6-5-9-2-9 1-8 4-1 0-1 0-2-2-9-3-8-3-7 4-6 4-3 8 1 8 2 9-3 7z"/>
<path fill="#e0e9f3" d="M1472 1515l9 4 3 9 8 5 3 7-3 9 4 7 2 7 7 3 7 4 1 0 2-1 8-3 7-2 1 0 3-7 4-7-2-8 7-6 1-7 0-8 3-7 0-1 0-1-2-1-4-13 0-1-7-1-7 4-7-3-7-1-7 0-7 1 0 1-5 6-8 3-7 3-7 5z"/>
<path fill="#e0e9f3" d="M1597 1514l1 8 4 8 1 8-1 9 2 8-1 8 4 7 5 7 7 0 7 1 7 3 7 4 8 2 5 6 5-6 7-3 8-3 5-7 7-2-2-7-4-6-1-8-2-7-3-7-8-3-9-6-5-8-2-10-5-9-7 1-6 3-7 2-7-1-7 3-7 1-6 4z"/>
<path fill="#cfdbe8" d="M1673 1537l3 7 2 7 1 8 4 6 2 7 8 2 8 2 5 7 8 2 9-8 1-8 7-6 0-8 3-7-1-9 5-7-2-8-7 0-7-5-8 0-7-1-7 4-7 3-5 7-8 1-7 4z"/>
<path fill="#e0e9f3" d="M1503 1637l2 11 6-4 7-3 5-5 6-5 6-4 7-4 3-8 8-2 5-3 0-9-1-8 0-9-3-8-7-6-9-1-7-5-1 0-7 2-8 3-2 1-1 0 0 2 0 1 0 7 0 8 0 8-4 8-2 8 1 8-1 7 0 1-3 9z"/>
<path fill="#e0e9f3" d="M1554 1576l3 8 0 9 1 8 0 9 8 3 8 3 9 0 8 2 4-3 1-9 7-6 3-7 5-7 1-9-5-7-4-7-8-1-8-1-8-1-8 2-4 7-7 3-6 4z"/>
<path fill="#edf3f7" d="M1388 1674l7 3 7 0 8-1 7-2 7 6 8-1 7 0 8-4 8-1 8-1 8 0 6-6 1 0 9-1 5-8 8-3 5-7-2-11 3-9 0-1 1-7-1-8 2-8 4-8 0-8 0-8 0-7 0-1 0-2-7-4-7-3-7 2-7 4-7 2-8 2-5 5-4 6-7 5-5 4-4 7-6 5-3 7-6 4-6 5-7 4-3 7-5 5-3 6-2 7-3 6-6 5-1 8-5 5z"/>
<path fill="#cfdbe8" d="M1500 1655l7 2 7 3 8 2 8-1 7 3 8-1 7 2 7 2 8 2 7 1 7 3 10-7-1-8 0-8 2-8-3-8 4-8-2-8-8-2-9 0-8-3-8-3-5 3-8 2-3 8-7 4-6 4-6 5-5 5-7 3-6 4-5 7z"/>
<path fill="#cfdbe8" d="M1589 1634l3 8-2 8 0 8 1 8 8 2 8 0 7 4 7 3 8 0 7-4 5-6 4-7 7-4 7-4 6-5-5-8 0-1 0-7 0-7-1-7-4-7 0-8-2-7-5-6-8-2-7-4-7-3-7-1-7 0-1 9-5 7-3 7-7 6-1 9-4 3 2 8-4 8z"/>
<path fill="#e0e9f3" d="M1653 1593l2 7 0 8 4 7 1 7 0 7 0 8 5 8 7 0 7 4 7 1 8 1 5-5 8 0 5-6 6-4 1-7-1-8 0-7-2-7 2-8-6-7 2-7-8-2-5-7-8-2-8-2-7 2-5 7-8 3-7 3-5 6z"/>
<path fill="#edf3f7" d="M1712 1592l6 7-2 8 2 7 0 7 1 8-1 7 9 2 9 2 8-2 4-8 10 1 4-8 8-2 7-3 7-5-2-8-3-7-3-8-5-6 1-7 4-7 2-7 2-7-8-2-5-7-8-2-1 0-5-7-8-2-7-4-5 7 1 9-3 7 0 8-7 6-1 8-9 8-2 7z"/>
<path fill="#cfdbe8" d="M1736 1640l3 8 4 6 4 6 7 5 4 7 7 3 7 2 6 5 8 1 7 3 5 6 7 2 8-4 8-3 8-3 8-6 5-7-5-6-1-9-1-8-5-6-1-8-6-7-4-7-7-1-7-2-7-2-7-1-7-1-7 5-7 3-8 2-4 8-10-1-4 8-8 2z"/>
<path fill="#cfdbe8" d="M1693 1658l2 7 3 7-1 7 1 7-1 7 0 7 1 7-2 8 5 6-2 8 1 7 10 4 4 2 9 4 8 0 8-3 7-6 9 3 7-4 8-3 6-5 7-2 6-6 4-6 6-6 0-9 6-5-7-2-5-6-7-3-8-1-6-5-7-2-7-3-4-7-7-5-4-6-4-6-3-8-9-2-9-2-6 4-5 6-8 0-5 5-1 7z"/>
<path fill="#cfdbe8" d="M1629 1675l1 8 0 7 1 7 2 7 1 8 2 7 4 6 8 1 6 3 6 3 7 2 6 3 7 3 10-1 10-3-1-7 2-8-5-6 2-8-1-7 0-7 1-7-1-7 1-7-3-7-2-7 1-7-8-1-7-1-7-4-7 0-6 5-7 4-7 4-4 7-5 6-7 4z"/>
<path fill="#cfdbe8" d="M1577 1689l2 8-2 8 7 3 6 5 6 6 9 0 5 7 8 3 8 3 7-3 7-4-4-6-2-7-1-8-2-7-1-7 0-7-1-8-8 0-7-3-7-4-8 0-8-2-10 7-1 8-3 8z"/>
<path fill="#e0e9f3" d="M1471 1673l8 3 6 4 6 6 4 7 6 5 6 5 7 4 5 6 8 2 7 1 8 1 6 5 8 0 0-1 9-3 5-8 7-5 2-8-2-8 3-8 1-8-7-3-7-1-8-2-7-2-7-2-8 1-7-3-8 1-8-2-7-3-7-2-8 3-5 8-9 1-7 6z"/>
<path fill="#e0e9f3" d="M1736 1524l2 8 7 4 8 2 6 7 8 2 5 7 8 2 7-3 6-4 8 0 6-6 7-1-4-8-4-7-4-7-4-7-8 0-7 2-8-1-8-3-7 1-8 2-7-1-3 6-6 5z"/>
<path fill="#e0e9f3" d="M1796 1504l2 8 0 1 4 7 4 7 4 7 4 8 7 2 7 2 6 6 7 1 7 2 8-4 8-2 7-3 2-5-4-7-2-7-4-7-3-7 0-8-1-8-8-6 0-8-7-3-8 0-7-3-8 1-7-5-8 1-2 0-1 8 1 8-7 7-1 7z"/>
<path fill="#cfdbe8" d="M1851 1483l0 8 8 5 0 1 1 8 0 8 3 7 4 7 2 7 4 7 9-7 5-5 2-7 6-5 1-8 4-6 7-5 1-8 3-7 6-5-1-5-5-8-6-6-7-5-5-6-1 0-5 6-7 4-9-1-5 7-7 3-5 7-3 9z"/>
<path fill="#e0e9f3" d="M1771 1584l5 6 3 8 3 7 2 8 7 1 7 1 7 2 7 2 7 1 3-6 5-6 0-8 6-5-1-8 4-6 1-7 4-6 2-7 5-6-7-2-7-1-6-6-7-2-7-2-7 1-6 6-8 0-6 4-7 3-2 7-2 7-4 7-1 7z"/>
<path fill="#e0e9f3" d="M1882 1534l7-2 7 0 8 0 7-2 8-2 7-3 7 0 8 1 8 1 6-5 1 0 7 0 6-9 3-10-7-4-6-4-7-2-7-3-7-2-1 0 0-1-5-5-9 0-6-4-6 5-3 7-1 8-7 5-4 6-1 8-6 5-2 7-5 5z"/>
<path fill="#e0e9f3" d="M1871 1546l9 4 3 9 9 4 4 8 7 1 7-3 7-2 6-3 7-1 7-1 7 0 7-2 7-1 6-9 2-7 0-8-5-6 2-7-7 0-7 5-8-1-8-1-7 0-7 3-8 2-7 2-8 0-7 0-7 2-9 7-2 5z"/>
<path fill="#e0e9f3" d="M1819 1620l4 7 6 7 1 8 5 6 1 8 1 9 5 6 8 0 8 0 8-8 4-6 3-7 4-6 5-6 4-6 3-7 5-6 6-4 2-8 1-8-3-8-4-8 1-8-1-4-4-8-9-4-3-9-9-4-7 3-8 2-8 4-5 6-2 7-4 6-1 7-4 6 1 8-6 5 0 8-5 6-3 6z"/>
<path fill="#bfcfe5" d="M1896 1571l1 4 6 5 8-1 7 3 6 5 7 1 7 2 7 3 6 3 0 8-5 7-7 2-7 2-5 6 4 8 8-2 7 1 7 2 8-5 6-8 3 0 8 0 7-4 7-2 8-3-1-6-5-6-8 0-7-3-4-6-6-4-6-3-4-10-1-11-7 1-7 2-7 0-7 1-7 1-6 3-7 2-7 3-7-1z"/>
<path fill="#cfdbe8" d="M1858 1671l7 5 3 8 8 4 5 7 5 6 1 9 6 5 8 6 9 2 9 3 7-3 7-4 8-2 6-6 10 6 13-3 3-8 7-6 3-8 3-8 6-11-7-9 6-5 4-6 0-9 6-5 1-7-3-8 1-7 1-7-1-2-8 3-7 2-7 4-8 0-3 0-6 8-8 5-7-2-7-1-8 2-4-8 5-5 0-1 7-2 7-2 5-7 0-8-6-3-7-3-7-2-7-1-6-5-7-3-8 1-6-5-1 8 4 8 3 8-1 8-2 8-6 4-5 6-3 7-4 6-5 6-4 6-3 7-4 6-8 8z"/>
<path fill="#e0e9f3" d="M1820 1285l4 6 7 5 6 4 5 6 4 7 7 3 8 1 4 6 6 5 7 1 8 1 7 3 8-2 6-6 4-7 1-8-1-9 4-7 6-5 8-1 8 2 8-2 6-5 8 1 7-4 7-2 8-2 1-12-6-4-6-4-4-6-6-4-4-8-3-7-7-4-6-4-1 0-2-7-6-5-5-6-6-4-4-6-3-7-4-6-8-3-1-9-7-4-6-5-2-7-8-3-3-7-4-6-8-3-3-7-5-6 3 8-4 8 1 8 3 8 1 7 1 8 2 8-4 8 2 8-3 7-1 8 2 8-6 7 2 8-1 8-3 7-5 6-8 5-3 7-5 6-2 8-6 6 0 1z"/>
<path fill="#cfdbe8" d="M1855 1363l1 7 5 8-2 8 4 7-1 8 9 0 6 7 7 3 8 1 1 0 7-4 5-5 6-5 5-6 7-3 5-6 0-1-3-6-3-7-6-5 0-8-3-6-6-5-1-8-5-6-7 2-1 0-7-3-8-1-7-1-3 7-5 6-3 7 0 8-5 6z"/>
<path fill="#cfdbe8" d="M1901 1331l5 6 1 8 6 5 3 6 0 8 6 5 3 7 3 6 0 1 10 0 7 2 7 1 6 5 4 7 1 9 6 6 2 7 4 8 2 7 5 6 6 3 7-5 8 0 8 1 7-2 7-1 7-5 6-4 5-6-2-7-1-7 0-7 1-7 3-6 2-7 4-6 3-7 4-6 5-5 3-6 1-8-4-10-6-5-7 0-8-2-7 0-7 0-1 0-7-2-7 0-7-4-7 0-5-9-9-6-3-7 0-7 1-8-1-7-8 2-7 2-7 4-8-1-6 5-8 2-8-2-8 1-6 5-4 7 1 9-1 8-4 7-6 6z"/>
<path fill="#e0e9f3" d="M1892 1419l2 7 0 1 1 7-2 7 0 7 5 6 7 5 6 6 5 8 1 5 6 4 9 0 5 5 8 3 7 3 7 2 6 4 7 4 9-5 2-8 1-8 0-7-1-8 5-8-3-8 3-7-6-3-5-6-2-7-4-8-2-7-6-6-1-9-4-7-6-5-7-1-7-2-10 0-5 6-7 3-5 6-6 5-5 5-7 4-1 0 0 7z"/>
<path fill="#edf3f7" d="M1217 1012l3 7 5 5 6 4 1 8 4 6 4 6 5 4 4 6 2 8 4 5 7 4 4 6 3 6 1 8 5 5 7 4 2 7 5 5 3 6 4 6 2 7 7 4 5 5 4 6 3 6 3 7 5 5 1 8 6 4 2 7 5 5 6 4 4 6 3 7 5 5 0 8 4 6 8 3 3 6 4 6 4 6 3 6 0 1 4 5 3 7 7 3 4 6 1 8 5 5 6 4 4 6 3 7 3 6 7 2 7-1 7 6 7-1 8 0 7 2 5-11-2-7-3-6-1-8 3-8-4-6-1-7-4-7 1-8-2-7-1-7-4-6 2-8-5-7 1-7-4-7-1-7-1-7 3-8-5-7 1-7-5-7-1-7 0-7-8-5-6-7-6-5-7-2-6-4-6-4-5-4-8-2-5-4-6-5-7-1-4-8-8 0-6-3-6-4-5-5-7-3-7-2-4-7-6-4-6-3-6-4-9 0-5-3-5-7-6-3-6-3-7-3-5-6-8 0-6-3-4-7-6-5-7-1-5-5-7-3z"/>
<path fill="#edf3f7" d="M1438 1147l0 7 1 7 5 7-1 7 5 7-3 8 1 7 1 7 4 7-1 7 5 7-2 8 4 6 1 7 2 7-1 8 4 7 1 7 4 6-3 8 1 8 3 6 2 7 8-1 8-3 8 0 8 1 8 0 1-8 4-6-3-8 3-7-1-7 4-7 1-7-1-8 3-7 2-7 0-7 0-7-3-7-6-4-4-6-6-4-3-6-8-3-5-4-5-5-5-6-3-6-6-5-7-2-6-4-6-5-7-3-6-4z"/>
<path fill="#e0e9f3" d="M1466 1321l3 12 8 2 8 1 7 3 7 3 7 5 7-5 2-9 5-6-3-7-4-6-2-7-8 0-8-1-8 0-8 3-8 1-5 11z"/>
<path fill="#e0e9f3" d="M1455 1353l5 5 5 6 2 8 3 7 7 4 7-4 2-7 0-1 6-3 5-5 4-7 5-5 0-4-7-5-7-3-7-3-8-1-8-2-3 8-7 5-4 7z"/>
<path fill="#e0e9f3" d="M1423 1313l0 14 5 7 6 6 8 3 6 5 6 5 1 0 4-7 7-5 3-8-3-12-7-2-8 0-7 1-7-6-7 1-7-2z"/>
<path fill="#edf3f7" d="M1412 1354l6 6 6 5 8 2 1 0 6-5 7-7 8-2-6-5-6-5-8-3-6-6-5-7 0 8-7 5-1 7-3 7z"/>
<path fill="#e0e9f3" d="M1430 1383l3 9 0 8 6 8 6-4 7-2 6-4 5-6 7-3 7-3 0-3-7-4-3-7-2-8-5-6-5-5-1 0-8 2-7 7-6 5 0 8-3 8z"/>
<path fill="#bfcfe5" d="M1390 1361l2 7 0 9 5 6 2 8 9 0 8 4 8 4 8 1 1 0 0-8-3-9 3-8 0-8-1 0-8-2-6-5-6-6-7 4-8 0-7 3z"/>
<path fill="#bfcfe5" d="M-293 24l1397 1164 5 6 7 3 5 4 5 6 6 3 8 2 4 6 8 1 5 5 5 4 6 5 4 6 6 3 6 4 8 1 6 4 3 8 9 0 4 6 7 3 5 4 5 6 6 3 7 3 3 7 6 4 6 4 6 3 7 2 7 2 0 1 6 3 1 0 5 6 7 2 7 3 5 5 8-1 7 4 6 4 6 4 7 1 7 4 5 5 6 4 9-1 4 7 7 2 7 2 1 0 7-3 8 0 7-4 3-7 1-7 7-5 0-8 0-14-3-6-3-7-4-6-6-4-4-5-1 0-1-8-4-6-7-3-3-7-4-5 0-1-3-6-4-6-4-6-3-6-8-3-4-6 0-8-5-5-3-7-4-6-6-4-5-5-2-7-6-4-1-8-5-5-3-7-3-6-4-6-5-5-7-4-2-7-4-6-3-6-5-5-2-7-7-4-5-5-1-8-3-6-4-6-7-4-4-5-2-8-4-6-5-4-4-6-4-6-1-8-6-4-5-5-3-7-7-3-6-3-4-6-5-6-9 0-4-5-5-6-8-1-5-5-5-4-7-3-4-6-7-3-4-6-7-3-6-3-4-7-6-3-7-3-4-7-9 1-3-8-5-5-7-3-7-2-4-7-7-1-5-6-5-4-6-4-9 0-3-8-8-1-3-8-9 1-5-5-6-4-3-8-8-1-4-7-5-4-6-4-8-1-6-4-6-3-4-7-7-2-5-6-7-2-5-5-6-4-4-6-5-5-8-2-7-2-5-4-6-4-6-4-6-4-4-6-7-3-4-6-6-3-7-3-4-7-9 0-4-6-4-6-6-4-7-2-1106-706z"/>
<path fill="#8a8cbf" d="M1265 1302l3 7 6 4 7 3 4 7 4 6 6 4 2 7 6 4 8 3 2 7 5 6 7 2 3 8 3 6 8 3 3 7 4 5 7 4 3 7 6 4 4 6 6 4 5 0 4-8 6-6 6-5 6-6-2-8-5-6 0-9-2-7-1 0-7-2-7-2-4-7-9 1-6-4-5-5-7-4-7-1-6-4-6-4-7-4-8 1-5-5-7-3-7-2-5-6-1 0-6-4-7-2-7-2z"/>
<path fill="#a1aed2" d="M1109 1194l4 6 8 2 2 7 4 7 6 4 4 6 6 4 2 7 8 3 4 6 3 7 5 4 4 6 7 3 1 0 0 9 8 3 3 6 5 6 4 5 7 4 1 8 6 4 5 5 4 6 7 3 3 8 4 5 6 4 4 7 7 3 3 6 4 7 4 5 6 5 6 4 4 5 5 5 1 9 7 3 2 8 8 3 6 4 4 5 4 6 2 8 7 4 7-3 7 3 7 1 8-4 7 3 2-8 4-8 6-7-6-4-4-6-6-4-3-7-7-4-4-5-3-7-8-3-3-6-3-8-7-2-5-6-2-7-8-3-6-4-2-7-6-4-4-6-4-7-7-3-6-4-3-7-6-3-6-4-6-4-3-7-7-3-6-3-5-6-5-4-7-3-4-6-9 0-3-8-6-4-8-1-6-4-6-3-4-6-6-5-5-4-5-5-8-1-4-6-8-2-6-3-5-6-5-4-7-3z"/>
<path fill="#cfdbe8" d="M1377 1416l5 6 9 2 6 5 9 2 5 7 10-3 3-7 3-6 8-4 4-6 0-4-6-8-1 0-8-1-8-4-8-4-9 0-6 6-6 5-6 6-4 8z"/>
<path fill="#edf3f7" d="M1421 1435l3 8 7 5 4 8-3 8-4 8-2 9 10 1 7 5 9 4 3-7-2-9-1-8 3-8 6-4 7-4-5-6-1-8-2-6-5-5-7-3-4-7-5-4-4 6-8 4-3 6-3 7z"/>
<path fill="#a1aed2" d="M-1489 2814l2397-987 5-5 8-2 3-7 5-5 7-3 7-2 3-8 7-3 5-4 5-5 8-3 2-8 6-4 6-4 7-3 4-5 5-6 7-3 7-2 2-8 1 0 8 0 4-7 4-6 9-1 3-7 7-2 7-4 4-5 6-4 6-4 3-8 6-4 6-3 7-3 5-5 4-7 5-5 8-1 4-6 6-4 5-5 6-3 4-7 5-5 9 0 4-7 7-3 4-5 5-6 4-6 9-1 2-8 6-5 4-6 5-5 8-2 5-5 4-7 5-5 8-2 4-6 4-6 6-5 5-5 4-6 8-2 5-5 3-7 0-1 6-3 4-6 6-5 5-5 7-3 5-5 4-6 6-4 0-1 1-7-2-8 3-8 1-7 0-8-7-4-2-8-4-6-4-5-6-4-8-3-2-8-7-3-1-9-5-5-4-5-6-4-6-5-4-5-4-7-3-6-7-3-4-7-6-4-4-5-3-8-7-3-4-6-5-5-6-4-1-8-7-4-4-5-5-6-3-6-8-3 0-9-8-3-4-6-5-4-3-7-4-6-8-3-2-7-6-4-4-6-6-4-4-7-2-7-8-2-4-6-5-6-1397-1164-923-638-182 176-91 3252z"/>
<path fill="#bfcfe5" d="M1320 1462l2 8-1 7 0 1 9 2 9-3 8-1 9 1 1-8 6-6 3-8-4-8-2-8-7-3-8 4-7-1-7-3-7 3 0 8-1 7-3 8z"/>
<path fill="#6c4b8d" d="M1360 1439l2 8 4 8 8 1 8 3 8-1 8 3 5-8 1-9 7-6-5-7-9-2-6-5-9-2-5-6-5 0-6 7-4 8-2 8z"/>
<path fill="#8a8cbf" d="M1398 1461l4 7 0 1 1 8 2 9 8 0 6-6 7 1 2-9 4-8 3-8-4-8-7-5-3-8-10 3-7 6-1 9-5 8z"/>
<path fill="#bfcfe5" d="M1356 1477l7 1 7 1 7 1 7 5 7-4 7 4 7 1-2-9-1-9-4-7-8-3-8 1-8-3-8-1-3 8-6 6-1 8z"/>
<path fill="#edf3f7" d="M1356 1478l4 6 2 7-2 8 3 7 5 2 6-4 8 0 7-2 6-2 8-1 2-13-7-1-7-4-7 4-7-5-7-1-7-1-7-1z"/>
<path fill="#a1aed2" d="M908 1827l6-5 8 2 6-4 8 0 7-1 5-6 0-1 7-1 8 1 7-2 5-7 8 2 6-4 8 0 7-2 6-4 7-2 6-3 7-1 7-3 7-2 6-3 7-2 7 0 6-5 7-2 7-3 8 2 6-2 7-2 6-6 8 1 7-1 5-6 7-3 7-1 7-2 7 1 6-7 8 2 6-3 8-1 6-4 7 1 7-4 5-5 8 0 7 0 6-6 7-1 7-2 6-3 7-4 7 1 8-1 6-4 7-2 5-6 8 0 5-6 6-4 7-2 7-1 5-6 2-7 2-7 4-6 4-6-1-9 2-6 3-7 6-6-1-8 5-6 1-7 6-6-1-8 4-6 5-6 2-7 2-7 5-6 0-7 0-9-3-7-2-8-6-6 1-9-3-7-5-2-3-7 2-8-2-7-4-6 0-1-9-1-8 1-9 3-9-2-6 4-4 6-5 5-7 3-5 5-6 5-4 6-6 3-3 8-5 5-8 2-4 6-5 5-6 5-4 6-4 6-8 2-5 5-4 7-5 5-8 2-5 5-4 6-6 5-2 8-9 1-4 6-5 6-4 5-7 3-4 7-9 0-5 5-4 7-6 3-5 5-6 4-4 6-8 1-5 5-4 7-5 5-7 3-6 3-6 4-3 8-6 4-6 4-4 5-7 4-7 2-3 7-9 1-4 6-4 7-9 0-2 8-7 2-7 3-5 6-4 5-7 3-6 4-6 4-2 8-8 3-5 5-5 4-7 3-3 8-7 2-7 3-5 5-3 7-8 2-5 5z"/>
<path fill="#bfcfe5" d="M1368 1508l3 7-1 9 6 6 2 8 3 7 0 9 5-7 6-4 7-3 3-7 4-7 7-4-3-8-6-6-1-9-8 1-6 2-7 2-8 0-6 4z"/>
<path fill="#8a8cbf" d="M1403 1499l1 9 6 6 3 8 7 5 9 0 8 2 7-2 7-2 5-7 7-4-3-12-3-6-5-5-9-4-7-5-10-1-7-1-6 6-8 0-2 13z"/>
<path fill="#8a8cbf" d="M1326 1688l8 0 7-5 9 2 7-2 7-6 8 1 8-2 8-2 5-5 1-8 6-5 3-6 2-7 3-6 5-5 1-7 2-7-1-7 6-6 0-7 3-7 3-6-1-8 4-6 0-7 1-7 1-7 4-6 1-7 0-8-8-2-9 0-7-5-7 4-4 7-3 7-7 3-6 4-5 7 0 7-5 6-2 7-2 7-5 6-4 6 1 8-6 6-1 7-5 6 1 8-6 6-3 7-2 6 1 9-4 6-4 6-2 7-2 7-5 6z"/>
<path fill="#8a8cbf" d="M1413 1632l3-7 7-4 6-5 6-4 3-7 6-5 4-7 5-4 7-5 4-6 5-5-4-7 1-8-2-7-4-6-5-6-1-7-3-7-7 2-7 2 0 8-1 7-4 6-1 7-1 7 0 7-4 6 1 8-3 6-3 7 0 7-6 6 1 7-2 7-1 7z"/>
<path fill="#cfdbe8" d="M1477 1386l7 4 4 6 4 6 6 5 3 0 1 1 7 1 7 2 8-1-1-8 2-8-2-8 0-8 1-8-1-1-7-5-6-5-4-8-5 5-4 7-5 5-6 3-2 8-7 4 0 3z"/>
<path fill="#bfcfe5" d="M1451 1525l3 7 1 7 5 6 4 6 2 7-1 8 4 7 8-2 7-2 7-4 7-2-2-7-4-7 3-9-3-7-8-5-3-9-9-4-9-1-7 4-5 7z"/>
<path fill="#e0e9f3" d="M1835 1077l6 5 0 7 4 7 0 7 7 5 1 7 1 7 5 6 3 7 8 3 4 6 3 7 8 3 2 7 6 5 7 4 1 9 8 3 4 6 3 7 4 6 6 4 5 6 6 5 2 7 7 4 7 4 3 7 4 8 6 4 4 6 6 4 6 4 7-3 6-3 6-5 7-3 8-1 8-1 8-3 7-4-1-7 1-7 4-7 2-7-1-7 1-7 3-7 0-7-3-8 5-7 1-7-1-7 3-7-2-7 1-7 3-7 0-7 2-7 1-7-4-8 4-7-1-7 5-7-3-7 1-7 1-7 3-7-2-7 1-8 2-7 4-6-1-7-2-8 1-7 6-6-2-8 0-7 1-7 4-7-4-7 0-1 3-6 1-7-1-8 2-7 3-6-1-8 4-6-2-8 0-3 2-7-4-7-1-7-2-7 1-7-1-8 1-7-3-7 2-7-1-7 0-8-1-7-2-7 2-7-5-7 1-8 2-7-1-7-2-7-1-7-1-8-2-7 0-8 1-7-1-8 2-8-1-7-2-8-5 5-1 8-4 6-3 6-5 6-5 4-4 6-5 6-5 5-3 6-4 6-1 8-6 5-4 5-3 7-3 7-6 4-5 5-3 7-6 5 0 8-6 5-4 5-1 8-1 0-6 4-2 7-5 6-2 6-6 5-5 5-5 6-3 6-1 8-6 4-4 6-3 7-6 4-1 8-5 5-4 6-6 5-5 5-1 8-5 5-2 8-4 5-6 5-3 6 0 8-7 5-1 7-4 6-2 7-1 8-3 6-6 5-2 7-2 7-2 7-4 6-3 7-3 6z"/>
<path fill="#edf3f7" d="M2039 1227l-1 7 1 7 6 4 5 6 7 3 5 6 7 2 4 7 7 3 7 4 12-4 9-7 7-1 7-3 7-1 7-1 8 1 7-1 6-7 8 1 7-1 2 1 6-4 4-7 5-5 6-4 5-6 3-7 5-4-1-8-3-6-5-6-1-7-1-7-3-7-2-7-5-5 0-8-4-6-4-6-4-6 0-8-6-5-2-7-3-6 1-8-3-7-5-5-2-8-3-6-2-7-5-5 0-1 1-8-2-6-6-6-2-6-3-7 1-8-4-6-5-6-3-6-1-8-1-7-2-7-4-6-1-7-3-6-3-7-3-6-2-7-4-6-1-8-3-6-6-5-1-8-3-6-3-7 0 3 2 8-4 6 1 8-3 6-2 7 1 8-1 7-3 6 4 8-4 7-1 7 0 7 2 8-6 6-1 7 2 8 1 7-4 6-2 7-1 8 2 7-3 7-1 7-1 7 3 7-5 7 1 7-4 7 4 8-1 7-2 7 0 7-3 7-1 7 2 7-3 7 1 7-1 7-5 7 3 8 0 7-3 7-1 7 1 7-2 7-4 7z"/>
<path fill="#e0e9f3" d="M2064 694l2 8 1 7-2 8 1 8-1 7 0 8 2 7 1 8 1 7 2 7 1 7-2 7-1 8 5 7-2 7 2 7 1 7 0 8 1 7-2 7 3 7-1 7 1 8-1 7 2 7 1 7 4 7-2 7 3 7 3 6 1 8 6 5 3 6 1 8 4 6 2 7 3 6 3 7 3 6 1 7 4 6 2 7 1 7 1 8 3 6 5 6 4 6-1 8 3 7 2 6 6 6 2 6-1 9 5 5 2 7 3 6 0 1 2 7 5 5 3 6 0 1-1 8 3 6 2 7 6 5 0 8 4 6 4 6 4 6 0 8 5 5 2 7 3 7 1 7 1 7 5 6 3 6 1 8-5 4-3 7-5 6-6 4-5 5-4 7-6 4 5 5 6 5 3 7 9-1 8 5 7 4 1 8 4 6 7 4 5 5 2 8 4 6 6 4 7 1 7 3 8-2 6 5 8-2 6 3 8 1 7-1 7 0 7 4 7-2 7 4 7 0 7-3 8 1 7-1 8 2 7-4 7 0 7-2 8 2 7-1 7-1 7-4 7-1 8 4 8-1 6-5 8 1 7-1 7 0 8-2 2051-446 0-246 30-1187-1439-1175-185 31-865 2400z"/>
<path fill="#edf3f7" d="M1981 1298l3 7 9 6 5 9 7 0 7 4 7 0 7 2 8 0 7 0 8 2 7 0 6 5 1-8 8-6 1-7 0-9 4-6 3-8 3-7 5-6-7-4-7-3-4-7-7-2-5-6-7-3-5-6-6-4-7 4-8 3-8 1-8 1-7 3-6 5-6 3-7 3-1 12 1 7-1 8 0 7z"/>
<path fill="#bfcfe5" d="M2062 1333l4 10 7 4 6 4 7 5 7 2 7 3 8 1 5 7 8 2 7 3 3 8 0 8-3 9 6 8-2 8 7 0 7 5 7 0 7-2 7 5 7-1 7 2 7-1 7 1 7 1 6 3 2-8 0-8 5-8 1-8 1-8-2-8-8-4-4-6-2-8-2-7-5-6 7-4 0-1 8-1 4-9 9-1 7-4 5-6 7-4-6-4-4-6 0-1-2-7-5-5-7-4-4-6-1-8-7-4-8-5-9 1-3-7-6-5-5-5-2-1-7 1-8-1-6 7-7 1-8-1-7 1-7 1-7 3-7 1-9 7-12 4-5 6-3 7-3 7 0 1-4 6 0 9-1 7-8 6-1 8z"/>
<path fill="#cfdbe8" d="M2041 1394l-1 7 0 7 1 7 2 7 6 4 8-3 6 7 8-3 5 7 8-1 7 2 6 4 8-1 6 2 5-6 8-4 1-10 7-5 2-8-6-8 3-9 0-8-3-8-7-3-8-2-5-7-8-1-7-3-7-2-7-5-6-4-7-4-1 8-3 6-5 5-4 6-3 7-4 6-2 7-3 6z"/>
<path fill="#e0e9f3" d="M2194 1349l5 6 2 7 2 8 4 6 8 4 2 8-1 8-1 8-5 8 0 8-2 8 4 9 6 7 2 12 0 1 6 4 7 1 6 5 8-1 7 3 4 7 6 4 8 0 7 3 5 6 7 1 5 6 8-1 5 7 7 2 8-1 6 5 6 3 6 5 7 2 7 1 5 6 7 2 7 2 5 5 8 0 5 7 8-1 5 7 8-1 6 3 7 4 5 4 2115 96-24-782-2051 446-8 2-7 0-7 1-8-1-6 5-8 1-8-4-7 1-7 4-7 1-7 1-8-2-7 2-7 0-7 4-8-2-7 1-8-1-7 3-7 0-7-4-7 2-7-4-7 0-7 1-8-1-6-3-8 2-6-5-8 2-7-3-7-1-7 4-5 6-7 4-9 1-4 9-8 1-7 5z"/>
<path fill="#cfdbe8" d="M2111 1440l1 12 6 4 6 4 6 5 5 6 5 6 8 2 6 5 3 7 7 4 7 4 8-2 7 2 6-7 8-3 4-7 3-7 7-5 1-8 5-5 0-1-2-12-6-7-4-9-6-3-7-1-7-1-7 1-7-2-7 1-7-5-7 2-7 0-7-5-7 0-7 5-1 10-8 4-5 6z"/>
<path fill="#cfdbe8" d="M2185 1507l2 8 1 7 5 7 2 8 5 6 2 8 2 7 1 8 6 4 8 0 7-3 6-4 7-1 7-3 7 0 8-1 7 0 7 1 7 4 7-3 7 1 7-1 7 4 8-3 7 3 6 3 7 1 8-1 7-2 7 4 7-3 7-2 7-1 8 1 7 0 7-5 7 1 8-2 7-2 7 1-5-4-7-4-6-3-8 1-5-7-8 1-5-7-8 0-5-5-7-2-7-2-5-6-7-1-7-2-6-5-6-3-6-5-8 1-7-2-5-7-8 1-5-6-7-1-5-6-7-3-8 0-6-4-4-7-7-3-8 1 0-1-6-4-7-1-6-4-5 5-1 8-7 5-3 7-4 7-8 3-6 7-1 8z"/>
<path fill="#8a8cbf" d="M2100 1499l1 8 7 7 5 7 6 7 2 8-2 8 0 7 3 7 1 1 9 2 1 0 7 6 7 8 8 1 7-3 6-3 1 0 7-2 7 0 8 3 6-6 8 1-1-8-2-7-2-8-5-6-2-8-5-7-1-7-2-8 1-8-7-2-8 2-7-4-7-4-3-7-6-5-8-2-5-6-5-6-6-5-6-4-6-4-5 9 1 8-6 7 0 8 4 8-6 7z"/>
<path fill="#8a8cbf" d="M2032 1432l3 8 0 7 0 8 6 7 0 7-2 9 2 7 5 7-3 7-4 7 0 8-2 7 3 6 2 8-1 8 7 3 2 9 6 3 8 1 7-3 7 5 8 0 7-5 7 5 8-1 7 0 7-2-3-7 0-7 2-8-2-8-6-7-5-7-7-7-1-8 6-7-4-8 0-8 6-7-1-8 5-9-1-12-6-2-8 1-6-4-7-2-8 1-5-7-8 3-6-7-8 3-6-4-5 6-6 4z"/>
<path fill="#bfcfe5" d="M1981 1498l7 2 7 3 7 3 8 1 7 3 7 4 7 2 6 5 2-7 0-8 4-7 3-7-5-7-2-7 2-9 0-7-6-7 0-8 0-7-3-8-7 5-7 1-7 2-8-1-8 0-7 5-3 7 3 8-5 8 1 8 0 7-1 8-2 8z"/>
<path fill="#cfdbe8" d="M1958 1559l1 11 4 10 6 3 6 4 4 6 7 3 8 0 5 6 0-9 4-6 2-9 4-6 3-8 6-4 6-4 7-3 3-8 7-2 1-8-2-8-3-6-6-5-7-2-7-4-7-3-8-1-7-3-7-3-7-2-9 5-3 10-6 9-2 7 5 6 0 1 0 7-2 7-6 9z"/>
<path fill="#cfdbe8" d="M1999 1602l1 6 1 2 7 1 7 1 7-2 7 0 7 2 7 1 8-2 6 3 5-2 0-7 1-8-6-8-1-7 3-8 0-8-3-8-6-3-2-9-7-3-7 2-3 7 0 1-7 3-6 4-6 4-3 8-4 6-2 9-4 6 0 9z"/>
<path fill="#e0e9f3" d="M1985 1664l7 9 8 2 4 8 6 6 7 3 7 4 9-1 7 6 8 3 7-4 8-1 8 3 7-3 8-2 6-7 0-8 2-7 1-8 3-7 5-7 0-8-11-8-4-7-6-6-6-5-6-4-8-3-5 2-6-3-8 2-7-1-7-2-7 0-7 2-7-1-7-1-1 7-1 7 3 8-1 7-6 5 0 9-1 0-3 6-6 5z"/>
<path fill="#edf3f7" d="M2056 1582l1 7 6 8-1 8 0 7 8 3 6 4 6 5 6 6 4 7 11 8 2-1 7 2 5 5 1 0 6 4 7 1 7 3 5 6 7 2 5 6 7 2 7 2 5-6 5-5 4-6 8-1 8 2 8-5 8 0 8 2 8-3 3-8 5-7 5-7 6-4 7-2 7-3 6-5 7-1 4-8 8-2 8-1 5-5 7-3 5-7 8 0 4-8 8-1 7-3 5-5 1 0 8-1 5-5-7-4-7 2-8 1-7-1-6-3-7-3-8 3-7-4-7 1-7-1-7 2-7-3-7-1-7 0-8 1-7 0-7 3-7 1-6 4-7 3-8 0-6-4-8-1-6 6-8-3-7 0-7 2-1 0-6 3-7 3-8-1-7-8-8-6-9-2-1-1-7 2-7 0-8 1-7-5-7 5-8 0-7-5-7 3-8-1 3 8 0 8-3 8z"/>
<path fill="#edf3f7" d="M1963 1772l0 2 4 6 6 5 6 4 1 7 1 8 2 7 0 7-1 7 3 7 2 7 6 5 4 6 1 7 3 7 8 10 0 7 2 7 6 6-2 8 4 6 5 6 2 7-2 9 3 6 5 6 0 8 5 6 2 7 3 6-1 8 0 7 3 7 7 6-1 7 8 1 6 4 8 2 7 3 6 2 8 3 7 0 8 1 7 2 7 0 7 4 8-1 7 3 8 0 7 2 8-1 3 0 8 0-1-8-4-6-1-8-3-6-4-6 1-8-3-7-7-6 0-7-2-7-2-7-4-6 1-8-6-6-4-6 1-8-5-6 0-8-2-7-1-7-5-6 1-8-5-6-3-7-2-7 0-7 1-7-1-7 1-7-4-7 0-7 2-7-2-7 0-7 0-7 3-7 0-7 0-1-4-6-7-4-2-8 1-2-1-7-5-6-2-7-2-7-3-7 0-8-4-6-3-7-8 2-7 3-8-3-8 1-7 4-8-3-7-6-9 1-4 7-5 5-7 4-4 7-2 9 2 9-8 0-7 5-8 3-7 2-7 4 0 11-4 10z"/>
<path fill="#edf3f7" d="M2086 1697l3 7 4 6 0 8 3 7 2 7 2 7 5 6 1 7 6-4 0-1 8 0 6-4 6-3 5-6 5-5 8-1 1-8 1-7 4-8 2-8 7-6 4-7 0-7-7-2-7-2-5-6-7-2-5-6-7-3-7-1 0-1-6-3-1 0-5-5-7-2-2 1 0 8-5 7-3 7-1 8-2 7 0 8-6 7z"/>
<path fill="#e0e9f3" d="M2150 1728l4 7 7 4 4 7 5 6 8 2 7 3 5-6 7-5 6-5 8-3 5-5 0-1 0 1 6 4 7 2 6 3 8-1 7 3 6 4 5 6 8-2 6 5 6 4 8 0 6 4 5 6 7 1 6 4 8 0 6 4 6 3 6 4 7 2 6 3 7 2 7 4 7-1 5 7 8 1 6 2 5 6 7 2 6 3 9 0 6 3 7 2 6 4 6 4 6 4 8-1 6 4 7 2 6 3 5 5 8 0 6 4 7 2 5 6 7 1 8 0 6 6 7 1 7 2 4 7 7 3 7 0 8 1 6 3 5 7 6 3 8 0 5 6 8-1 6 3 6 5 6 3 7 2 7 4 6 2 8 0 7 2 4 7 8 0 5 1 2 1 1 0 5 5 7 0 2 0 4 5 6 3 501 250 1409 311-67-850-2115-96-7-1-7 2-8 2-7-1-7 5-7 0-8-1-7 1-7 2-7 3-5 5-9 1-5 5-7 3-8 1-4 8-8 0-5 7-7 3-5 5-1 0-7 1-8 2-4 8-7 1-6 5-7 3-7 2-6 4-5 7-5 7-3 8-8 3-8-2-8 0-8 5-8-2-8 1-4 6-5 5-5 6 0 7-4 7-7 6-2 8-4 8-1 7-1 8z"/>
<path fill="#c0fbe3" d="M2105 1754l2 8 7 4 4 6 0 1 0 7-3 7 0 7 0 7 2 7-2 7 0 7 4 7-1 7 1 7-1 7 0 7 2 7 3 7 5 6-1 8 5 6 1 7 2 7 0 8 5 6-1 8 4 6 6 6-1 8 4 6 2 7 2 7 0 7 7 6 3 7-1 8 4 6 3 6 1 8 4 6 1 8 8-2 8 1 7 4 8 1 8-2 7 2 8 1 7-1 7 2 8-2 7 3 7 3 7 1 7 1 8 0 7-1 7 2 7 2 9 3 10-1 875 146-501-250-5-5-7-3-7 0 0-1-6-5-7-1-8 0-4-7-7-2-8 0-6-2-7-4-7-2-6-3-6-5-6-3-8 1-5-6-8 0-6-3-5-7-6-3-8-1-7 0-7-3-4-7-7-2-7-1-1 0-5-6-8 0-7-1-5-6-7-2-6-4-8 0-5-5-6-3-7-2-6-4-8 1-6-4-6-4-6-4-7-2-6-3-9 0-6-3-7-2-5-6-6-2-8-1-5-7-7 1-7-4-7-2-6-3-7-2-6-4-6-3-6-4-8 0-6-4-7-1-5-6-6-4-8 0-6-4-6-5-8 2-5-6-6-4-7-3-8 1-6-3-7-2-6-5-5 6-8 3-6 5-7 5-5 6-7-3-8-2-5-6-4-7-7-4-4-7-8 1-5 5-5 6-6 3-6 4-8 0 0 1-6 4-1 2z"/>
<path fill="#cfdbe8" d="M1957 1717l3 6 0 8 2 7 3 7 2 6 7-4 7-2 8-3 7-5 8 0-2-9 2-9 4-7 7-4 5-5 4-7-7-4-7-3-6-6-4-8-8-2-6 11-3 8-3 8-7 6-3 8-13 3z"/>
<path fill="#cfdbe8" d="M1986 1684lz"/>
<path fill="#cfdbe8" d="M1981 1745lz"/>
<path fill="#cfdbe8" d="M1829 1684l5 7-1 7-1 8 2 6 4 7-1 8 2 7 0 7 5 6 1 7 2 7 12 4 11-3 5 6 8 0 6 5 8 0 6 3 2 8 2 8 4 7-1 2 6 8 9 5-1 7-1 8 4 8-2 8 7 0 7 2 7 0 7 3 6 4 7 1 7 2 8 0 6 3 8 0 6 4-3-7-1-7-4-6-6-5-2-7-3-7 1-7 0-7-2-7-1-8-1-7-6-4-6-5-4-6 0-2 4-10 0-11-2-6-3-7-2-7 0-8-3-6-10-6-6 6-8 2-7 4-7 3-9-3-9-2-8-6-6-5-1-9-5-6-5-7-8-4-3-8-7-5-8 0-8 0-5 7-8 6z"/>
<path fill="#bfcfe5" d="M1822 1902l1 7 3 9 1 9 7 9 9 6 2 3 7 2 7 3 4 8 9 0 4 8 6 4 9 0 5 6 6 5 8 2 8 2 7 0 6 6 8 0 7 4 7 3 7 2 8 3 8 0 6 6 7 2 8-2 7-1 8-1 8 0 7-1 8-2 8 3 7-3 1-7-7-6-3-7 0-7 1-8-3-6-2-7-5-6 0-8-5-6-3-6 2-9-2-7-5-6-4-6 2-8-6-6-2-7 0-7-8-10-6-4-8 0-6-3-8 0-7-2-7-1-6-4-7-3-7 0-7-2-7 0 2-8-4-8 1-8 1-7-9-5-6-8-6 5-4 6-8 3-7 1-7 1-7 1-7-3-7 5-9 2-9 1-9 2-2 5-3 7 4 7-2 7-2 8 2 7-4 7 2 7-2 8 1 7-2 7z"/>
<path fill="#edf3f7" d="M1612 1763l1 8 4 7 1 8 1 8-1 8 7 2 7 2 7 1 6 2 2-7 3-6 7-4 2-7 2-7 4-6 0-8 3-6 7-4 4-6 1-8-7-3-6-3-7-2-6-3-6-3-8-1-7 4-7 3-6 8-7 7 1 8-2 8z"/>
<path fill="#e0e9f3" d="M1645 1809l3 4 8-1 8 3 8-4 8 4 8 0 8-2 5 4 7-4 9 0 7-4 8-2 9 0 4 6 5 6 1 0 7-2 6-6 7-1 7-3 3 8 4 6 6 6 3 7 8 0 9-4 9 3 8-3 2-5-4-6-3-7-7-5-7-2-8-3-9 1-7-4 0-14-6-3-7-3-6-5-8 2-6-5-6-4-8 0-6-4-5-8-4-9-9-4-4-2-10-4-10 3-10 1-1 8-4 6-7 4-3 6 0 8-4 6-2 7-2 7-7 4-3 6-2 7z"/>
<path fill="#bfcfe5" d="M1723 1746l4 9 5 8 6 4 8 0 6 4 6 5 8-2 6 5 7 3 6 3 8-11 8-2 7-4 9 0 10 3 7-3 5-6 8-1-2-7-1-7-5-6 0-7-2-7 1-8-4-7-2-6 1-8 1-7-5-7-8 3-8 3-8 4-6 5 0 9-6 6-4 6-6 6-7 2-6 5-8 3-7 4-9-3-7 6-8 3-8 0z"/>
<path fill="#edf3f7" d="M1785 1799l7 4 9-1 8 3 7 2 7 5 3 7 4 6 9-2 9-1 9-2 7-5 7 3 7-1 7-1 7-1 8-3 4-6 6-5 1-2-4-7-2-8-2-8-6-3-8 0-6-5-8 0-5-6-11 3-12-4-8 1-5 6-7 3-10-3-9 0-7 4-8 2-8 11 0 14z"/>
<path fill="#a1aed2" d="M1525 1741l2 8 8 5 9 4 10-1-2-7 3-7 2-7 0-7-1-7-8 0-6-5-8-1-7-1-1 9 2 8-3 9z"/>
<path fill="#a1aed2" d="M1552 1750l2 7 9 6 6 8 2 0 4-8 1 0 8-5 6-7-5-7-3-8-9-3-3-9-5-6-9 3 0 1 1 7 0 7-2 7-3 7z"/>
<path fill="#e0e9f3" d="M1565 1718l5 6 3 9 9 3 3 8 5 7 8 0 7-5 8 1 7-7 6-8-8-3-8-3-5-7-9 0-6-6-6-5-7-3-7 5-5 8z"/>
<path fill="#bfcfe5" d="M1571 1771l6 4 3 9 9 2 4 8 4 7 6 4 8 0 7-3 1-8-1-8-1-8-4-7-1-8 2-8-1-8-8-1-7 5-8 0-6 7-9 5-4 8z"/>
<path fill="#a1aed2" d="M1545 1796l4 7 2 7 1 7 7 4 8-2 8 1 8-3 8 1 6-7 6-6-6-4-4-7-4-8-9-2-3-9-6-4-2 0-5 7-5 7-6 6-8 5z"/>
<path fill="#cfdbe8" d="M1513 1767l3 7 11 8 4 8 7 2 7 4 8-5 6-6 5-7 5-7-6-8-9-6-10 1-9-4-8-5-7 5-6 5-1 8z"/>
<path fill="#e0e9f3" d="M1439 1679l3 8 5 6 5 5 1 0 2 8 3 7 8 4 2 8 6 6 3 7 7 2 5 6 7 3 6 3 6 3 6 4 6-5 7-5-2-8 3-9-2-8 1-9-8-2-5-6-7-4-6-5-6-5-4-7-6-6-6-4-8-3-8 0-8 1-8 1-8 4z"/>
<path fill="#bfcfe5" d="M1648 1813l2 8 1 7 0 8-1 7-1 8 3 7 7 4 8 0 7 5 2 2 7-2 7 1 7-2 8 2 6-4 7 1 7 0-1-8 3-8 6-5 4-7 4-6 5-6 4-6-5-6-4-6-9 0-8 2-7 4-9 0-7 4-5-4-8 2-8 0-8-4-8 4-8-3-8 1z"/>
<path fill="#e0e9f3" d="M1751 1819l2 8 7 4 3 8 6 5 4 7 5 2 6 5 3 6 2 8 5 5 5 5 8 3 5 6 2 7 4 6 5 5-1-7 2-7-1-7 2-8-2-7 4-7-2-7 2-8 2-7-4-7 3-7-8 3-9-3-9 4-8 0-3-7-6-6-4-6-3-8-7 3-7 1-6 6-7 2z"/>
<path fill="#bfcfe5" d="M-1490 2818l2446-747 7-3 7-1 6-4 7-2 6-2 7-3 8 1 6-3 6-4 6-4 6-3 1 0 6-2 8 0 7-2 6-4 7-1 6-4 7-2 7 0 6-5 7-3 7 0 6-3 7-2 6-3 0-1 7-2 6-5 8 1 6-4 7 0 6-3 7-3 6-4 7-2 7-2 6-4 7 0 6-5 6-3 7-2 7-1 5-6 6-5 7-1 6-2 7-3 5-5 9 3 6-5 5-5 6-3 7-3 8 1 7-2 6-3 6-3 6-5 5-5 7-2 8 0 6-3 6-4 6-5 6-2 6-4 8 0 6-4 5-4 8 0 7-2 5-5 7-2 6-4 7-2 7-1 5-6 7-1 2-7 7-4 4-7 4-6 1-7 0-1 4-6 6-3 0-1-3-7-3-8-1-8-3-8-3-8-9 2-9-1-9-1-5-4-9 1-6-3-6-6-7-1-7-3-6-2-6-5-6-4-7-1-8 0-1 0-4-7-8 1-5-7-7-3-9 3-6-4-5-7-8 2-7-3-5-7-7-1-6-4-9 1-6-4-5-6-8 0-7-1-7 4-6 3-7 2-7 1-6 6-7 0-8 0-5 5-7 4-7-1-6 4-8 1-6 3-8-2-6 7-7-1-7 2-7 1-7 3-5 6-7 1-8-1-6 6-7 2-6 2-8-2-7 3-7 2-6 5-7 0-7 2-6 3-7 2-7 3-7 1-6 3-7 2-6 4-7 2-8 0-6 4-8-2-5 7-7 2-8-1-7 1 0 1-5 6-7 1-8 0-6 4-8-2-6 5-2397 987-1 4z"/>
<path fill="#bfcfe5" d="M1473 1788l3 8 3 8 1 8 3 8 3 7 8-3 7-4 3-8-1-8-2-7-1-8-5-6-10-5-6 5-6 5z"/>
<path fill="#e0e9f3" d="M1267 1714l8 0 5 6 6 4 9-1 6 4 7 1 5 7 7 3 8-2 5 7 6 4 9-3 7 3 5 7 7-1 1 0 4 7 9 0 7 1 6 4 6 5 6 2 7 3 7 1 6 6 6 3 9-1 5 4 9 1 9 1 9-2 6-5 6-5 1-9-3-7-5-8 2-8-3-8-3-7-6-6-2-8-8-4-3-7-2-8-6-5-5-6-3-8-7 0-8 1-7-6-7 2-8 1-7 0-7-3-8 2-8 2-8-1-7 6-7 2-9-2-7 5-8 0-7 1-7 2-6 4-5 6-8 0-5 6-7 2-6 4-8 1z"/>
<path fill="#e0e9f3" d="M1477 1738l3 8-2 8 5 8 3 7-1 9 10 5 5 6 1 8 2 7 1 8-3 8 8 2 6 5 7 3 8-2 7-4 6-6 9-1-1-7-2-7-4-7-7-4-7-2-4-8-11-8-3-7 1-8-6-4-6-3-6-3-7-3-5-6-7-2z"/>
<path fill="#e0e9f3" d="M1458 1869l8 0 6 5 7 1 7 1 6 3 7 1 7 3 7 0 1 0 3-8 9-2 4-6 8-2 9-2 8-2 0-8 0-8 1-8 4-8-1-8-7-4-9 1-6 6-7 4-8 2-7-3-6-5-8-2-7 4-8 3 0 1-6 3-4 6 0 1-1 7-4 6-4 7-7 4-2 7z"/>
<path fill="#cfdbe8" d="M1555 1861l8 5 4-7 9-2 3-8 7-4 7-4 2-8-3-7-1-8-8-1-8 3-8-1-8 2 1 8 0 1-4 7-1 8 0 8 0 8z"/>
<path fill="#e0e9f3" d="M956 2071l7 1 7-4 7 1 7-2 7-3 7 0 7 2 7-3 7-1 7-2 7 0 7-3 7-1 7-1 7 2 6-6 8 2 6-4 7-2 7-1 7-2 7 1 7-1 7-1 8 2 6-5 7 0 7-2 7-2 7 3 7-3 7-4 7 4 7-5 7 0 7-2 7 1 7-1 6-5 8 2 7-1 6-3 7-1 8 2 7-2 6-3 8 1 6-6 7 2 7-4 7 2 8 1 6-2 7-3 7 1 7-1 7-3 7 1 6-5 1 0 7 2 7-1 7-3 6-4 7-1 7-1 8 3 6-5 8 3 6-4 7-2 7-3 7 0 8 3 7-1 6-3 7-3 7 2 7 0 7-4 7 2 5 7 7 1 7-2 7-3 3-8 9 0 6-5 5-5 5-5 8-2 5-4 1-1-1-10-5-9 1-5 2-3 1-8 2-9-4-8 4-8-3-8-6-6-3-9-6-6-8-5-8 2-9 2-8 2-4 6-9 2-3 8-1 0-7 0-7-3-7-1-6-3-7-1-7-1-6-5-8 0-7 1-5 6-7 1-7 2-6 4-7 2-5 5-7 2-8 0-5 4-6 4-8 0-6 4-6 2-6 5-6 4-6 3-8 0-7 2-5 5-6 5-6 3-6 3-7 2-8-1-7 3-6 3-5 5-6 5-9-3-5 5-7 3-6 2-7 1-6 5-5 6-7 1-7 2-6 3-6 5-7 0-6 4-7 2-7 2-6 4-7 3-6 3-7 0-6 4-8-1-6 5-7 2-6 4-7 2-6 3-7 0-7 3-6 5-7 0-7 2-6 4-7 1-6 4-7 2-8 0-7 2-6 3-6 4-6 4-6 3-8-1-7 3-6 2-7 2-6 4-7 1-7 3z"/>
<path fill="#cfdbe8" d="M-1520 3066l1010 1255 436 19 1320-1526 323-683 7-7 7-7 5-5 8-3 6-4 6-3 5-7 5-4 6-4 6-5 3-7 5-6 4-6 0-8 2-7 5-6 6-6 0-8-4-6-2-7 1-8-4-6-5-6 0-7-4-6-2-7-9 0-8-1-4-7-7-1-6-4-9 1-4-6-7-2-1 1-5 4-8 2-5 5-5 5-6 5-9 0-3 8-7 3-7 2-7-1-5-7-7-2-7 4-7 0-7-2-7 3-6 3-7 1-8-3-7 0-7 3-7 2-6 4-8-3-6 5-8-3-7 1-7 1-6 4-7 3-7 1-8-2-6 5-7-1-7 3-7 1-7-1-7 3-6 2-8-1-7-2-7 4-7-2-6 6-8-1-6 3-7 2-8-2-7 1-6 3-7 1-8-2-6 5-7 1-7-1-7 2-7 0-7 5-7-4-7 4-7 3-7-3-7 2-7 2-7 0-6 5-8-2-7 1-7 1-7-1-7 2-7 1-7 2-6 4-8-2-6 6-7-2-7 1-7 1-7 3-7 0-7 2-7 1-7 3-7-2-7 0-7 3-7 2-7-1-7 4-7-1-2446 747-30 248z"/>
<path fill="#cfdbe8" d="M1563 1866l6 6 3 9 6 6 3 8-4 8 4 8-2 9-1 8 8 0 7-4 7-4 7 1 7 4 7 1 8 2 8 1 6 5 8 0 7-7 1 0 8-3 8 3 8-4 9 0 0-7-2-7-5-6-3-6-1-7 0-8-5-6 0-7-2-2-7-5-8 0-7-4-3-7 1-8 1-7 0-8-1-7-2-8-3-4-6-2-7-1-7-2-7-2-7 3-8 0-6 6-6 7 1 8 3 7-2 8-7 4-7 4-3 8-9 2-4 7z"/>
<path fill="#cfdbe8" d="M1676 1876l5 6 0 8 1 7 3 6 5 6 2 7 0 7 8 5 3 0 5 1 6 5 7 3 4 8 9 1 7 4 4 7 7-1 7-3 6-3 8 3 7-4 7 0 6-2 7-2 7 0 7-5 6-3 7-1 7 0-7-9-1-9-3-9-5-5-4-6-2-7-5-6-8-3-5-5-5-5-2-8-3-6-6-5-5-2-4-7-6-5-3-8-7-4-2-8-1 0-4 6-5 6-4 6-4 7-6 5-3 8 1 8-7 0-7-1-6 4-1 0-7-2-7 2-7-1-7 2 0 7z"/>
<path fill="#bfcfe5" d="M1575 1936l5 9 1 10 7 2 4 6 9-1 6 4 7 1 4 7 8 1 9 0 0-1 3-1 8 0 7 4 8 1 8-2 8 3-1 8 2 7 4 7 0 8 8 5 8 4 9 2 6-6 4-8 9-3 5-7 0-1 9 2 4 9 8 3 9 2 6 6 3-6 9-1 5-6 3-6 7-4 4-6 6-4 6-4 5-5 3-7 7-3 5-6 3-6 6-5 6-3-2-3-9-6-7 0-7 1-6 3-7 5-7 0-7 2-6 2-7 0-7 4-8-3-6 3-7 3-7 1-4-7-7-4-8-1-1 0-4-8-7-3-6-5-5-1-3 0-8-5-9 0-8 4-8-3-8 3-1 0-7 7-8 0-6-5-8-1-8-2-7-1-7-4-7-1-7 4-7 4-8 0-2 3-1 5z"/>
<path fill="#e0e9f3" d="M1246 2814l180-163 2-7 6-4 4-7 4-5 4-7 2-7 5-5 3-6 4-6 2-7 5-5 4-6 4-6 2-7 0-1 4-5 3-6 3-7 3-7 4-5 6-5 1-8 5-5 5-5 4-6 2-7 3-7 5-5 4-6 3-7 4-6 2-6 0-1 4-5 4-6 5-5 0-8 5-6 2-6 7-5-2-9 4-5 6-5 4-6 4-6 2-7 4-6 3-6-1-8 5-6 4-6 5-5 4-6 1-8 1-7 5-5 6-5 4-6 0-8 6-4 3-7 2-7 4-5 2-7 5-6 4-5 4-7 0-7 6-5 2-7 1-7 5-6 4-6 1-7 3-7 6-4 4-6 0-8 4-6 3-6 5-6 5-5 4-6 0-8 3-6 3-6 5-6 2-6 3-7 6-5 1-7 4-6 12-6 1-2-1-8 4-7 3-7 1-7 8-4 5-7-1-8 3-8-5-7 3-8-6-6-9-2-8-3-4-9-9-2-5 8-9 3-4 8-6 6-9-2-8-4-8-5 0-8-4-7-2-7 1-8-8-3-8 2-8-1-7-4-8 0-3 1 0 1 2 7 4 6 0 7 5 6 4 6-1 8 2 7 4 6 0 8-6 6-5 6-2 7 0 8-4 6-5 6-3 7-6 5-6 4-5 4-5 7-6 3-6 4-8 3-5 5-7 7-7 7-323 683z"/>
<path fill="#edf3f7" d="M1746 2090l3 7 3 8 5 7 7 5 4 7 4 7 8-3 8 1 5-6 3-8 7-5 3-7 8-4 0-7 0-7-3-7-6-6-6-6-5-7-7-5-6-4-7-2-7 0-5 7-8 4-1 7-3 7-4 7 1 8-1 2z"/>
<path fill="#edf3f7" d="M1764 2025l5 7 0 1-3 7 1 8 7 0 7 2 6 4 7 5 5 7 6 6 6 6 2 7 1 0 0 7 0 7 7 4 7 0 7-4 8 0 7-2 8-2 6-4 7-2 8-1 8 1 6-7 8 1 6-5 1 0 7 1 8-2 5-6 8 1 6-7 7-1 4-6 4-6 3-7 8-4 3-7 6-4 2-8 7-4 3-7-7-2-6-6-8 0-8-3-7-2-7-3-7-4-8 0-6-6-7 0-8-2-8-2-6-5-5-6-9 0-6-4-4-8-9 0-4-8-7-3-7-2-6 3-6 5-3 6-5 6-7 3-3 7-5 5-6 4-6 4-4 6-7 4-3 6-5 6-9 1-3 6-3 8z"/>
<path fill="#e0e9f3" d="M1426 2651l5-6 7-3 6-4 6-4 6-4 5-5 7-3 4-7 7-2 5-6 6-4 5-6 6-4 7-3 5-6 5-4 6-4 5-6 8-2 5-5 5-5 6-5 0-1 6-2 7-2 5-5 0-1 6-3 6-4 5-4 7-3 5-5 5-5 7-2 4-6 7-2 6-4 5-6 7-2 7-2 4-6 7-3 5-5 6-3 4-7 7-2 6-3 5-6 7-2 4-6 9 0 5-5 4-6 6-4 8-1 3-8 8 0 5-5 2-4 3-6 1-8 4-5 3-7 6-5 0-7 3-7 3-6 7-5 4-6-1-8 4-5 5-6 2-7 2-7 7-4-1-8 3-7 7-4 2-7 2-7 3-6 6-5-1-8 4-6 3-6 2-7 7-5 2-6 0-1 3-6 3-6 4-6 3-6 0-8 6-5 2-7 3-6-1-13-1 0 0-1-7-2-4-7-7-3-6-4-6-5 1-7-4-6 0-1-1-7-5-6 0-8-2-8-5-5-7-4-8 4-3 7-7 5-3 8-4 6-1 0-8-1-8 3-1 0-3-7-4-7-7-5-5-7-3-8-3-7-12 6-4 6-1 7-6 5-3 7-2 6-5 6-3 6-3 6 0 8-4 6-5 5-5 6-3 6-4 6 0 8-4 6-6 4-3 7-1 7-4 6-5 6-1 7-2 7-6 5 0 7-4 7-4 5-5 6-2 7-4 5-2 7-3 7-6 4 0 8-4 6-6 5-5 5-1 7-1 8-4 6-5 5-4 6-5 6 1 8-3 6-4 6-2 7-4 6-4 6-6 5-4 5 2 9-7 5-2 6-5 6 0 8-5 5-4 6-4 5-2 7-4 6-3 7-4 6-5 5-3 7-2 7-4 6-5 5-5 5-1 8-6 5-4 5-3 7-3 7-3 6-4 5-2 8-4 6-4 6-5 5-2 7-4 6-3 6-5 5-2 7-4 7-4 5-3 7-1 0-6 4-2 7z"/>
<path fill="#e0e9f3" d="M1821 2103l5 5 0 1 2 7 0 8 5 6 1 8 4 6-1 7 6 5 6 4 7 3 4 7 7 2 1 0 5-4 7-4 3-6 3-8 9-1 3-8 4-6 6-3 5-6 7-3 5-5 5-6 4-6 0-8 5-6 0-8 4-6 3-7 3-7-7 1-6 7-8-1-5 6-8 2-8-1-6 5-8-1-6 7-8-1-8 1-7 2-6 4-8 2-7 2-8 0-7 4-7 0z"/>
<path fill="#cfdbe8" d="M1868 2173l1 13 7 4 8-2 6 2 7 3 7 1 7 3 6 4 7-1 6-2-2-7 6-7-4-8 1-8 2-7 1-7-3-8 2-7 1-7 0-1 0-8-1-8 1-9-4 6-5 6-5 5-7 3-5 6-6 3-4 6-3 8-9 1-3 8-3 6-7 4-5 4z"/>
<path fill="#e0e9f3" d="M1751 2422l7-1 6-6 9 3 6-7 8 2 6-6 8 0 7-1 6-4 1 0 7 0 7-4 7-3 7-1 7-1 8 0 7-3 7-1 6-4 9 3 6-6 7 1 7-2 10-1 8-4 7-6 3-6 7-4 3-7 6-5 4-5 5-5 4-6 2-8 7-4 2-7 8-3 2-7 7-4 2-7-2-9-4-7-4-6-7-4-3 0 0-1-3-7-7-6-5-5-5-6-2-7 1-8 1-8-2-5-7-6-9-2-6-7-6 2-7 1-6-4-7-3-7-1-7-3-6-2-8 2-7-4-3 6-2 7-6 5 0 8-3 6-4 6-3 6-3 6-2 7-7 5-2 7-3 6-4 6 1 8-6 5-3 6-2 7-2 7-7 4-3 7 1 8-7 4-2 7-2 7-5 6-4 5 1 8-4 6-7 5-3 6-3 7 0 7-6 5-3 7-4 5-1 8-3 6-2 4z"/>
<path fill="#edf3f7" d="M1928 2191l2 7 6 7 9 2 7 6 2 5 8-2 7 4 8-1 7 2 7-3 1 1 2 7 4 7 4 7 8 0 5 8 8-1 6 4 2 4 8 2 3 8 6 5 8 1 6 6 3 6 0 8 2 6 9 9 5 2 565 519 1398 1130 718-749-148-705-1409-311-875-146-10 1-9-3-7-2-7-2-7 1-8 0-7-1-7-1-7-3-7-3-8 2-7-2-7 1-8-1-7-2-8 2-8-1-7-4-8-1-8 2-8 0-3 0-8 1-7-2-8 0-7-3-8 1-7-4-7 0-7-2-8-1-7 0-8-3-6-2-7-3-8-2-6-4-8-1-7 3-8-3-8 2-7 1-8 0-8 1-7 1-8 2-3 7-7 4-2 8-6 4-3 7-8 4-3 7-4 6-4 6-3 7-3 7-4 6 0 8-5 6 0 8-1 9 1 8 0 8 0 1-1 7-2 7 3 8-1 7-2 7-1 8 4 7 0 1-6 7z"/>
<path fill="#bfcfe5" d="M1952 2234l2 7 5 6 5 5 7 6 3 8 3 0 7 4 4 6 4 7 2 9 7 3 7 2 7 2 7 1 6 5 8-5 8 0 8 0 8 0 7-3-2-6 0-8-3-6-6-6-8-1-6-5-3-8-8-2-2-4-6-4-8 1-5-8-8 0-4-7-4-7-2-7-1-1-7 3-7-2-8 1-7-4-8 2-1 8-1 8z"/>
<path fill="#edf3f7" d="M-74 4340l3307 533 811-916-1398-1130-565-519-5-2-9-9-7 3-8 0-8 0-8 0-8 5-6-5-7-1-7-2-7-2-7-3-2 7-7 4-2 7-8 3-2 7-7 4-2 8-4 6-5 5-4 5-6 5-3 7-7 4-3 6-7 6-8 4-10 1-7 2-7-1-6 6-9-3-6 4-7 1-7 3-8 0-7 1-7 1-7 3-7 4-7 0-1 0-6 4-7 1-8 0-6 6-8-2-6 7-9-3-6 6-7 1-5 5-8 0-3 8-8 1-6 4-4 6-5 5-9 0-4 6-7 2-5 6-6 3-7 2-4 7-6 3-5 5-7 3-4 6-7 2-7 2-5 6-6 4-7 2-4 6-7 2-5 5-5 5-7 3-5 4-6 4-6 3-5 6-7 2-7 3-5 5-5 5-5 5-8 2-5 6-6 4-5 4-5 6-7 3-6 4-5 6-6 4-5 6-7 2-4 7-7 3-5 5-6 4-6 4-6 4-7 3-5 6-180 163-1320 1526z"/>
<path fill="#e0e9f3" d="M-1216 -614l923 638 1106 706 7 1 7 3 5 4 6 4 8 1 7 1 5 5 7 3 7 0 6 6 7 1 7 0 6 5 6 3 6 3 8 0 6 5 8-1 5 5 6 4 8 1 6 4 7 0 6 3 6 4 7 2 6 5 8-2 6 4 7 2 5 6 7 3 6 4 8-2 7 2 6 4 6 3 6 5 6 3 7 2 6 2 7 4 7 1 6 2 8 0 6 4 6 3 6 6 7-1 6 5 8 0 7 2 5 5 7 2 6 4 7 1 7 0 6 5 7 2 7 2 5 5 7 3 6 3 7 1 7 3 5 5 9-2 6 3 5 5 8 0 6 4 6 4 8 0 5 6 7 1 6 3 7 3 7 0 6 4 7 2 7 3 5 6 7 0 6 4 7 2 6 4 8-1 5 6 8-1 6 5 8-1 5 7 7 0 6 6 8-2 5 7 7 0 6 4 7 1 6 3 6 5 7 2 6 3 7 3 7 2 7-1 7 2 5 7 7 1 7 2 6 4 6 4 7 1 7 1 7 3 7 1 5 7 7 0 8 0 1 0 8 3 8-3 8 0 1 0 8 0 6-4 5-5 7-2 6-5 4-6 7-3 7 2 6-6 8 1 7 0 7-2 7-4 6-2 8 1 7-2 7 1 7-3 7-1 7-4 7 2 7-1 8 0 6-6 8 3 7-3 6-4 8 3 7-2 7-3 6-2 8 0 7 0 6-7 8 2 7-1 6-3 7-1 6-5 4-5 2-8 5-5 1-8 5-5 6-5 4-6 5-5 1-8 6-4 3-7 4-6 6-4 1-8 3-6 5-6 5-5 6-5 2-6 5-6 2-7 7-4 1-8 4-5 6-5 0-8 6-5 3-7 5-5 6-4 3-7 3-7 4-5 6-5 1-8 4-6 3-6 5-5 5-6 4-6 5-4 5-6 3-6 4-6 1-8 5-5 865-2400-3387 218-552 639-206 235z"/>
<path fill="#edf3f7" d="M813 730l7 2 6 4 4 6 4 6 9 0 4 7 7 3 6 3 4 6 7 3 4 6 6 4 6 4 6 4 5 4 7 2 8 2 5 5 4 6 6 4 5 5 7 2 5 6 7 2 4 7 6 3 6 4 8 1 6 4 5 4 4 7 8 1 3 8 6 4 5 5 9-1 3 8 8 1 3 8 9 0 6 4 5 4 5 6 7 1 4 7 7 2 7 3 5 5 3 8 9-1 4 7 7 3 6 3 4 7 6 3 7 3 4 6 7 3 4 6 7 3 5 4 5 5 8 1 5 6 4 5 9 0 5 6 4 6 6 3 7 3 7 3 5 5 7 1 6 5 4 7 6 3 8 0 5 6 7 3 6 3 6 3 5 7 5 3 9 0 6 4 6 3 6 4 4 7 7 2 7 3 5 5 6 4 6 3 8 0 0 1 4 7 7 1 6 5 5 4 8 2 5 4 6 4 6 4 7 2 6 5 7 0 7-4 6-2 8 1 7 0 7-5 7 2 6-6 8-1 7 0 7 1 8-1 7-1 6-2 8-1 6-4 7 0 7-5 8 3 6-6 8 4 6-7 7-1 8 3 7-1 7-4 8 0 8 2 7 4 7 3 8 6 8 2 7 2 5 7 7 4 8 1 7 3 8 1 7 4 6 5 8 1 5 0 6-4 8-2 4-7 6-3 9-1 3-8 8-1 4-7 1 0 7-1 7-2 6-5 4-7 9 0 6-4 4-8 7-3 6-3 9-8 3-6 3-7 4-6 2-7 2-7 2-7 6-5 3-6 1-8 2-7 4-6 1-7 7-5 0-8 3-6-7 1-6 3-7 1-8-2-6 7-7 0-8 0-6 2-7 3-7 2-8-3-6 4-7 3-8-3-6 6-8 0-7 1-7-2-7 4-7 1-7 3-7-1-7 2-8-1-6 2-7 4-7 2-7 0-8-1-6 6-7-2-7 3-4 6-6 5-7 2-5 5-6 4-9 0-8 0-8 3-8-3-9 0-7 0-5-7-7-1-7-3-7-1-7-1-6-4-6-4-7-2-7-1-5-7-7-2-7 1-7-2-7-3-6-3-7-2-6-5-6-3-7-1-6-4-7 0-5-7-8 2 0-1-6-5-7 0-1 0-4-7-8 1-6-5-8 1-5-6-8 1-6-4-7-2-6-4-7 0-5-6-7-3-7-2-6-4-7 0-7-3-6-3-7-1-5-6-8 0-6-4-6-4-8 0-5-5-6-3-9 2-5-5-7-3-7-1-6-3-7-3-5-5-7-2-7-2-6-5-7 0-7-1-6-4-7-2-5-5-7-2-8 0-6-5-7 1-6-6-6-3-6-4-8 0-6-2-7-1-7-4-6-2-7-2-6-3-6-5-6-3-6-4-7-2-8 2-6-4-7-3-5-6-7-2-6-4-8 2-6-5-7-2-6-4-6-3-7 0-6-4-8-1-6-4-5-5-8 1-6-5-8 0-6-3-6-3-6-5-7 0-7-1-6-6-7 0-7-3-5-5-7-1-8-1-6-4-5-4-7-3-7-1z"/>
<path fill="#edf3f7" d="M1424 1135l6 7 8 5 6 4 7 3 6 5 6 4 7 2 6 5 7-2 7 1 8 0 7 0 7-4 7-1 8 2 7-2 7 1 8-2 7 0 7-1 7-2 7 4 8-1 8 1 7 2 7 4 7 3 7 1 7 3 7 2 9-3 10 1 5-5 7-2 8-1 4-7 8 0 5-5 5-5 7-3 5-5 8-1-8-1-6-5-7-4-8-1-7-3-8-1-7-4-5-7-7-2-8-2-8-6-7-3-7-4-8-2-8 0-7 4-7 1-8-3-7 1-6 7-8-4-6 6-8-3-7 5-7 0-6 4-8 1-6 2-7 1-8 1-7-1-7 0-8 1-6 6-7-2-7 5-7 0-8-1-6 2-7 4-7 0z"/></g>
<g clip-path="url(#cl_gb)"><path fill="#e0e9f3" d="M-1719 -510l79 1020 15 262 1996 350 7-1 7 2 7 1 7-1 7-1 7-3 7 3 7-3 7 1 7 0 7 2 7 1 7 1 7-1 7-2 7 0 7 1 7 2 7-3 7 1 7 2 7-3 7 0 7 3 7-2 7 1 7 1 7 0 7-5 7 3 7-1 7 0 7 1 7-1 7 3 7-3 7-2 7 3 7 0 7 1 7-1 7 1 7-3 7 4 7-2 7 1 7-2 7 0 7 1 7-1 7-2 7 1 7 0 7 0 7 3 7-2 7 2 7 0 7-4 7 2 7-1 7 3 7 0 7 0 7-2 7 1 8-1 6 2 7 4 7 1 7-1 7 4 7 0 7 3 6 2 8-1 7 2 7-1 6 4 8-1 6 3 8-1 7 3 7-1 7 3 6 2 8-3 6-6 7-2 7-4 6-6 8-2 6-4 7-3 7-1 8 3 6-6 7 0 7 2 7-4 7 2 7-4 2-7 3-8 3-7 2-8 1-8 7-3 7 3 7-2 7-1 7-2 7 1 7-3 8 3 7-1 6-4 8 3 7-2 7-1 6-5 8 4 7-3 7 1 7-3 7-2 7 3 7-5 7 1 7 1 8 1 6-5 8 3 6-3 8 0 6-2 8 2 7-3 7-5 8-3 10 2 8-5 6-3 1 0 7 1 7-1 7-3 7 0 7 3 7-1 7-2 7-2 7 2 7 0 7-3 7-1 7-4 7 1 8 2 6-2 7-5 8 5 6-5 7-1 8 1 7-1 7 0 7-3 7-1 7 3 7-5 7-1 7 1 7-2 7 0 7-2 7-1 7 3 7-3 7 1 7-3 8 2 7-1 6-4 7-2 8 3 7 0 6-4 0-1 8 3 6-5 8 1 7 0 7 0 7-2 7-3 7 3 7-5 7 3 7-4 7-1 7-1 7 0 7-1 7-1 7-1 7-2 7 2 8 0 6-2 8 0 6-4 8 1 7 1 7-3 6-3 8 4 7-2 7-3 0-1 7 1 7-1 2117-529 56-895-760-856-224-262-3594-182-534 557-668 685z"/>
<path fill="#e0e9f3" d="M1083 1110l5 7 5 6 6 5 8 1 7-3 7-3 7 1 7-1 7-2 7-4 7 1 7-3 7-2 7-3 8 3 7-5 5-5 7-1 7-3 7-1 5-7 7-1 5-6 7-2 8-1 6-3 6-5 7-2 6-3 5-5 8-1 5-5 6-5 4-2-5-1-6 2-8 0-6 3-8-3-6 5-8-1-7-1-7-1-7 5-7-3-7 2-7 3-7-1-7 3-8-4-6 5-7 1-7 2-8-3-6 4-7 1-8-3-7 3-7-1-7 2-7 1-7 2-7-3-7 3-1 8-2 8-3 7-3 8-2 7z"/>
<path fill="#cfdbe8" d="M1098 1149l8 3 5 8 8 3 6 6 7-1 4-6 6-4 3-7 6-3 8-3 4-6 2-8 7-2 6-4 6-5 5-5 3-7-7 5-8-3-7 3-7 2-6 3-1 0-7-1-7 4-7 2-7 1-7-1-7 3-7 3-8-1-1 10 0 11z"/>
<path fill="#a1aed2" d="M972 1148l5 6 5 5 8 1 5 5 5 5 6 4 8 2 7-4 8 4 8-4 7-2 8 5 8-6 7 4 8-1 6-6 6-6 7-4 4-7 0-11 1-10-6-5-5-6-5-7-7 4-7-2-7 4-7-2-7 0-6 6-8-3-7 1-7 3-6 4-8 2-6 6-7 4-7 2-6 6-8 3z"/>
<path fill="#e0e9f3" d="M1075 1172l6 4 2 7 6 4 2 7 5 6 8-2 9-2 5 7 10 1 6 5 6 7 4-8 6-5 6-7 6-1 7-2 6-4 8 1 5-6 1 0 7 0 7-1 6-3 7-3 7 0 6-5 8 1 7-1 5-6 8 0 6-2 6-5 8 2 6-3 7-3 7 0 6-4 8-1 5-4 7-3 8 1 5-5 7-2 7-3 7 0 6-4 7 0 8-1 5-4 1 0 7-1 7 0 5-6 8 0 6-5 8 3 6-5 7 0 6-3 7-4 6-3 7-1 7-1 6-4 7-2 8 1 6-2 7-2 6-3 8 0 7-2 6-4 7-1 5-5 8 0 7 0 6-7 7 2 7-4 6-2 6-5 8 0 7 0 6-4 7-1 7-2 7 0 6-6 8 2 6-3 6-4 6-3 8 1 7-3 5-6 8 1 7 0 7-2 6-3 6-6 8 3 7-2 6-4 6-3 7-3 7 0 8 0 5-7 8 2 5-5 1 0 7 1 7-2 5-6 7-1 8 0 6-2 6-5 8 0 5-5 8 2 7-4 7 0 6-5 7-1-7-1-7 4-7 2-8-4-6 3-7 3-7-1-8-1-6 4-8 0-6 2-8 0-7-2-7 2-7 1-7 1-7 1-7 0-7 1-7 1-7 4-7-3-7 5-7-3-7 3-7 2-7 0-7 0-8-1-6 5-8-3-6 5-7 0-8-3-7 2-6 4-7 1-8-2-7 3-7-1-7 3-7-3-7 1-7 2-7 0-7 2-7-1-7 1-7 5-7-3 0-1 0 1-7 1-7 3-7 0-7 1-8-1-7 1-6 5-8-5-6 5-1 0-6 2-8-2-7-1-7 4-7 1-7 3-7 0-7-2-7 2-7 2-7 1-7-3-7 0-7 3-7 1-7-1-7 3-8 5-10-2-8 3-7 5-8 1-6 3-6 5-5 5-8 1-5 5-6 3-7 2-6 5-6 3-8 1-7 2-5 6-7 1-5 7-7 1-7 3-7 1-5 5-3 7-5 5-6 5-6 4-7 2-2 8-4 6-8 3-6 3-3 7-6 4-4 6-7 1-6-6-8-3-5-8-8-3-4 7-7 4-6 6-6 6z"/>
<path fill="#7b70ae" d="M1006 1174l3 6 6 6 0 9 7 5 2 8 4 6 8 0 7 5 8 0 7 2 7 0 7-3 6-3 7-3 7-2 4-10-5-5 0-1-2-7-6-4-2-7-6-4-7 1-1 0-7-4-8 6-8-5-7 2-8 4-8-4-7 4-8-2z"/>
<path fill="#7b70ae" d="M1092 1210l2 7 3 7 2 7 5 7 5-7 1 0 8-1 8-4 7-5 7-4 0-1-6-7-6-5-10-1-5-7-9 2-8 2-4 10z"/>
<path fill="#7b70ae" d="M1058 1221l5 6 5 6 4 7 7 4 8 0 8-1 7 3 2-8-5-7-2-7-3-7-2-7-7 2-7 3-6 3-7 3-7 0z"/>
<path fill="#8a8cbf" d="M1102 1246l0 1 1 1 7 1 8 2 7 4 7 1 8 1 4-6 0-7 4-6 0-8-5-6-3-7-7 4-7 5-8 4-8 1-6 7-2 8z"/>
<path fill="#cfdbe8" d="M1869 978l7 1 4-6-6 1-5 4z"/>
<path fill="#cfdbe8" d="M1140 1216l0 1 3 7 5 6 7 4 8 1 9-2 7 4 8 1 8 0 8 3 6-3 7 1 7-1 8 1 7-1 6-3 8 3 7-3 7 0 7 1 6-6 8 3 7 0 7-1 6-5 7 0 7 0 8-1 5-6 6-4 8 1 7-2 5-5 6-5 8 1 6-3 5-7 7-1 7-2 5-5 7-3 8 0 7-2 5-5 6-3 7-3 7 0 6-5 5-6 7-2 7-2 5-5 9 2 5-6 7-2 6-4 6-3 7-3 7-1 6-2 6-5 8 0 5-5 6-4 8 0 7-3 5-5 8 0 5-5 5-6 8 0 7-2 5-6 7-2 7-1 5-6 7-3 8 2 5-7 7-1 6-4 7-1 7-3 4-7 1 0 8 1 4-6 9 2 6-4 7-2 5-5 6-4 1 0 7 0 6-5 6-4 7-1 6-3 7-3 6-4 7 0 7-4 5-5 6-4 6-3 7-3 7-1 7 0 5-7 6-4 8 1 7-3 6-2 4-7-6 0-6 4-1 0-8-2-5 5-8 0-6 5-6 2-8 0-7 1-5 6-7 2-7-1-6 5-8-2-5 7-1 0-7 0-7 0-7 3-6 3-6 4-7 2-8-3-6 6-6 3-7 2-7 0-8-1-5 6-7 3-8-1-6 3-6 4-6 3-8-2-6 6-7 0-7 2-7 1-6 4-7 0-8 0-6 5-6 2-6 4-1 0-7-2-6 7-7 0-8 0-5 5-7 1-6 4-7 2-8 0-6 3-7 2-6 2-8-1-7 2-6 4-7 1-7 1-6 3-7 4-6 3-7 0-6 5-8-3-6 5-8 0-5 6-7 0-7 1-6 4-8 1-7 0-6 4-7 0-7 3-7 2-5 5-8-1-7 3-5 4-8 1-6 4-7 0-7 3-6 3-8-2-6 5-6 2-8 0-5 6-7 1-8-1-6 5-7 0-7 3-6 3-7 1-7 0-6 6-8-1-6 4-7 2-6 1-6 7-6 5-4 8z"/>
<path fill="#e0e9f3" d="M1140 1257l4 8 2 8-1 14 8 5 5 7 7-2 8-1 7-1 8-2 8 2 7-1 8-2 6-3 6-4 7-3 7-2 5-6 6-4 7-2 7-3 6-5 5-5 0-1 6-3 8 0 5-6 7-2 7-6 7-6 8-4-7 0-7 0-6 5-7 1-7 0-8-3-6 6-7-1-7 0-7 3-8-3-6 3-7 1-8-1-7 1-7-1-6 3-8-3-8 0-8-1-7-4-9 2-8-1-7-4 0 8-4 6 0 7-4 6z"/>
<path fill="#cfdbe8" d="M1028 1214l0 3 1 8 7 6 2 8 2 7-3 9 5 6 3 7 8-3 9 0 8 2 7 3 12-5 3-7 5-5 5-6 0-1-7-3-8 1-8 0-7-4-4-7-5-6-5-6-7-2-8 0-7-5-8 0z"/>
<path fill="#cfdbe8" d="M1089 1265l3 6 4 7 7 4 2 7 3 7 6 2 7-5 8 1 7-7 9 0 1-14-2-8-4-8-8-1-7-1-7-4-8-2-7-1-1-1-5 6-5 5-3 7z"/>
<path fill="#cfdbe8" d="M1028 1299l3 8-1 8 7 2 8-1 7 4 6 5 10 1 8-4 0-8-2-7 1-8 4-3 7 0 1 0 7 3 7-2 7-1-3-7-2-7-7-4-4-7-3-6-12 5-7-3-8-2-9 0-8 3-3 7-7 4-5 5-1 8-1 7z"/>
<path fill="#7b70ae" d="M1110 1322l8 10 9 2 9 2 8 4 10-5 2-2-2-8 3-9-1-8 2-9-5-7-8-5-9 0-6 7-1 0-8-1-7 5 1 8-4 8-1 8z"/>
<path fill="#8a8cbf" d="M1074 1307l2 7 0 8 3 2 7 0 8-2 7 3 9-3 1-8 4-8-1-8-6-2-7 1-7 2-7-3-1 0-7 0-4 3-1 8z"/>
<path fill="#cfdbe8" d="M1016 1330l3 9 5 6 6 6 7 5 8 3 8-2 7 2 9-2 7 3 8 6 1 1 7 0 6-5 8-1 1-8 4-7 6-6 1-8-8-10-9 3-7-3-8 2-7 0-3-2-8 4-10-1-6-5-7-4-7 1-1 0-7-2-6 8-8 7z"/>
<path fill="#bfcfe5" d="M1132 1374l1 0 7 2 7-1 7 4 8-1 6-5 8-3-2-8-6-7-6-5-5-7-3-8-10 5-3 6 0 8-6 5 1 8-4 7z"/>
<path fill="#cfdbe8" d="M1154 1335l3 8 5 7 6 5 6 7 2 8 1 0 10-2 8-3 8-6 7 3 5 5 3 7 7 4 6 4 4 8 7 3 5 5 7 4 4 6 2765 949-18-1914-2117 529-7 0-5 7-8-1-5 8-6 2-7 3-8-1-6 4-4 7-1 0-7 0-7 1-7 3-6 3-6 4-5 5-7 4-7 0-6 4-7 3-6 3-7 1-6 4-6 5-7 0-7 4-5 5-7 2-6 4-9-2-4 6-9-1-4 7-7 3-7 1-6 4-7 1-5 7-8-2-7 3-5 6-7 1-7 2-5 6-7 2-8 0-5 6-5 5-8 0-5 5-7 3-8 0-6 4-5 5-8 0-6 5-6 2-7 1-7 3-6 3-6 4-7 2-5 6-9-2-5 5-7 2-7 2-5 6-6 5-7 0-7 3-6 3-5 5-7 2-8 0-7 3-5 5-7 2-7 1-5 7-6 3-8-1-6 5-5 5-7 2-8-1-6 4-5 6-8 1-8 4-7 6-7 6-7 2-5 6-8 0-6 4-5 5-6 5-7 3-7 2-6 4-5 6-7 2-7 3-6 4-6 3-8 2-7 1-8-2-8 2-7 1-8 1-7 2-2 9 1 8-3 9 2 8-2 2z"/>
<path fill="#a1aed2" d="M1177 1370l2 8 2 8 4 8 3 7 3 8 7-1 8 3 7 0 7-3 1 0 7-1 7 3 8-3 7-1 8 2-4-6-7-4-5-5-7-3-4-8-6-4-7-4-3-7-5-5-7-3-8 6-8 3-10 2z"/>
<path fill="#bfcfe5" d="M371 1122l7 2 6 5 6 2 7 2 8 0 6 4 8 0 5 6 7 0 1 0 5 6 7 1 6 5 8-1 6 3 6 5 7 2 7 2 8 0 6 3 6 6 7 0 7 2 6 4 8 1 6 4 6 3 7 1 1 0 5 6 8-2 6 4 7 2 7 1 5 8 8-1 7 1 7 3 6 4 7 1 7 2 6 5 5 5 7 3 6 4 7 1 6 3 7 3 5 6 8 0 5 7 7 0 1 0 4 6 6 5 6 3 7 3 6 4 7 2 5 5 8 0 7 2 6 4 5 6 7 1 6 5 5 5 7 2 7 3 7 1 6 4 5 6 7 1 6 4 0 1 5 6 8-1 4 7 8 1 6 4 6 3 7 2 6 4 5 7 7 1 7 3 6 3 7 2 6 3 6 6 10 1 10-1 8 3 9 0 8 3 7 4 8 1 5 4 7-1 8 3 7-2 7-1 7 1 7-2 3-7 1-7 4-6-1-8 4-6-8-3-7-5-6-6-5-6-3-9 8-7 6-8 1-8-3-8 1-7 1-8 5-5 7-4 3-7-3-7-5-6 3-9-2-7-2-8-7-6-1-8 0-3-4-6-1 0-1-8-7-5 0-9-6-6-3-6-6-4-5-5-5-5-8-1-5-5-5-6-6-2-7-3-7 1-7-3-8 1-6-3-7 1-1 0-6-4-7 1-7-2-8 1-6-2-7-3-7 0-7-4-7 1-7-1-7-4-6-2-8 1-7-1-7 2-7 0-7 0-7-3-7 1-7-2-7 4-7 0-7-2-7 2-7-3-7 0-7 0-7-1-7 2-7 1-7-1-7 0-7 2-7-1-7 2-7-4-7 3-7-1-7 1-7-1-7 0-7-3-7 2-7 3-7-3-7 1-7-1-7 0-7 1-7-3-7 5-7 0-7-1-7-1-7 2-7-3-7 0-7 3-7-2-7-1-7 3-7-2-7-1-7 0-7 2-7 1-7-1-7-1-7-2-7 0-7-1-7 3-7-3-7 3-7 1-7 1-7-1-7-2-7 1z"/>
<path fill="#edf3f7" d="M1141 1409l6 6 7 5 8-2 8-2 6-5-4-8-6-6-6-7-8 5-5 8-6 6z"/>
<path fill="#e0e9f3" d="M1127 1397l0 1 5 8 9 3 6-6 5-8 8-5 6 7 6 6 4 8 13-1 2-1-3-8-3-7-4-8-2-8-2-8-1 0-8 3-6 5-8 1-7-4-7 1-7-2-2 8 0 8-4 7z"/>
<path fill="#cfdbe8" d="M1152 1448l3 8-3 7 0 7 4 7-2 7 2 7-3 7 0 7-1 7 1 7 0 7-1 7 0 7 2 7 0 7 0 7 2 8-2 7 1 7 0 1 126 2533 1776-34 982-1035-16-691-2765-949-8-2-7 1-8 3-7-3-8 1-7 3-7 0-8-3-7 1-1 1-1 0-13 1-6 5-8 2-8 2-2 7 1 7 2 7-3 7z"/>
<path fill="#cfdbe8" d="M1089 1413l1 8 8 1 4 7 7 2 7 3 4 6-3 8 4 6 1 7 4 6 3 7 1 6 1 8 0 7 1 7 1 7 6 5 2 7-2 8 6 5 0 8-1 7 7 6-3 8 5 5 1 8 2-7-2-8 0-7 0-7-2-7 0-7 1-7 0-7-1-7 1-7 0-7 3-7-2-7 2-7-4-7 0-7 3-7-3-8 3-7-2-7-1-7 2-7-7-5-6-6-9-3-5-8-9 1-8-4-8 1-9 1 0 1 2 8-6 7z"/>
<path fill="#cfdbe8" d="M1026 1893l-1 7 91 2223 165-6-126-2533 0-1-1-7-1-8-5-5 3-8-7-6 1-7 0-8-6-5 2-8-2-7-6-5-1-7-1-7 0-7-1-8-1-6-3-7-4-6-1-7-4-6 3-8-4-6-7-3-7-2-4-7-8-1-7 8-9 5 0 7-3 7 0 7 1 7-4 7 3 8-3 6 2 8-5 6-1 7 4 8-2 7-1 7 0 7-4 7 1 7-2 7 2 7 0 8-4 6 1 7 1 8-1 7-1 7 0 7 0 7-6 7 1 7 0 7-3 7 2 7-3 7 1 7-3 7 0 7 0 7 2 8-3 7 2 7-2 7-3 7 2 7-2 7 0 7-2 7-1 7-1 7 2 8-3 6-2 7 1 8 1 7-3 7 0 7-3 7-2 7 2 7 2 7-5 7 1 7-2 7 1 7-3 7 3 8-3 6z"/>
<path fill="#cfdbe8" d="M1034 1393l5 6 6 5 1 5 5 6 5 6 5 5 8 2 5 6 9-5 7-8-1-8 6-7-2-8 0-1-8-10-2-10 2-10-1-1-8-6-7-3-9 2-7-2-8 2-4 6 1 8-4 6-1 7-3 7z"/>
<path fill="#cfdbe8" d="M1083 1377l2 10 8 10 9-1 8-1 8 4 9-1 0-1 4-7 0-8 2-8-1 0 4-7-1-8 6-5 0-8 3-6-8-4-9-2-9-2-1 8-6 6-4 7-1 8-8 1-6 5-7 0-2 10z"/>
<path fill="#edf3f7" d="M991 1395l3 7 1 7 0 7 0 7 4 7 3 6 2 7-3 8 5 6-1 8 1 7 2 7 2 7-1 7-3 7 0 7 2 7-4 7 2 8 1 7 0 7 0 7-5 7 3 7 0 7-6 7 0 7 2 7 1 7 0 1-4 6-1 7 2 8-1 7 5 6-1 8-2 7 2 7 3 6 0 7-2 8 3 7 0 7-3 7 4 7 1 0 1 6 1 7 1 7-2 8-1 7 0 7 5 6-3 8 5 6-1 8 0 7 0 7-2 7 4 7-1 7-1 7 4 6-1 8 2 7 2 6 1 7-1 8 1 6 1 7 2 7 0 7 1 6 3-5-3-8 3-7-1-7 2-7-1-7 5-7-2-7-2-7 2-7 3-7 0-7 3-7-1-7-1-8 2-7 3-6-2-8 1-7 1-7 2-7 0-7 2-7-2-7 3-7 2-7-2-7 3-7-2-8 0-7 0-7 3-7-1-7 3-7-2-7 3-7 0-7-1-7 6-7 0-7 0-7 1-7 1-7-1-8-1-7 4-6 0-8-2-7 2-7-1-7 4-7 0-7 1-7 2-7-4-7 0-1 1-7 5-6-2-8 3-6-3-8 4-7-1-7 0-7 3-7 0-7-5-6-8-2-5-5-5-6-5-6-1-5-6-5-5-6-7 2-7-1-7 1-7 2-8-3-7 1z"/>
<path fill="#e0e9f3" d="M926 1380l1 6 4 6 0 1 0 7 5 6 2 6-1 8 2 7 0 7 7 5 0 8 4 6 2 6-1 8 2 7 6 5 2 7-1 8 4 6-2 8 3 6 5 6-2 8 3 6 3 6 0 8 4 6 3 6 1 7 4 6-1 8 3 6 5 6-2 8 4 6 2 4 1-5 4-7-1-7-2-7 0-7 6-7 0-7-3-7 5-7 0-7 0-7-1-7-2-8 4-7-2-7 0-7 3-7 1-7-2-7-2-7-1-7 1-8-5-6 3-8-2-7-3-6-4-7 0-7 0-7-1-7-3-7-5-4-8-1-7-4-8-3-9 0-8-3-10 1-10-1z"/>
<path fill="#e0e9f3" d="M-1692 3104l1200 1135 1608-116-91-2223 2-7-2-7 0-7-2-7-1-7-1-6 1-8-1-7-2-6-2-7 1-8-4-6 1-7 1-7-4-7 2-7 0-7 0-7 0-1 1-7-5-6 3-8-5-6 0-7 1-7 2-8-1-7-1-7-1-6-5-7 3-7 0-7-3-7 2-8 0-7-3-6-2-7 2-7 1-8-5-6 1-7-1-7-3-7-4-6 2-8-5-6-3-6 1-8-4-6-1-7-3-6-4-6 0-8-3-6-3-6 2-8-5-6-1 0-2-6 2-8-4-6 0-1 1-7-2-7-6-5-2-7 1-8-2-6-4-6 0-8-7-5 0-7-2-7 1-8-2-6-5-6 0-8-4-6-1-6-6-6-6-3-7-2-6-3-7-3-7-1-5-7-6-4-7-2-6-3-6-4-8-1-4-7-8 1-5-7-6-4-7-1-5-6-6-4-7-1-7-3-7-2-5-5-6-5-7-1-5-6-6-4-7-2-8 0-5-5-7-2-6-4-7-3-6-3-6-5-5-6-7 0-5-7-8 0-5-6-7-3-6-3-7-1-6-4-7-3-5-5-6-5-7-2-7-1-6-4-7-3-7-1-8 1-5-8-7-1-7-2-6-4-8 2-5-6-8-1-6-3-6-4-8-1-6-4-7-2-7 0-6-6-6-3-8 0-7-2-7-2-6-5-6-3-8 1-6-5-7-1-6-6-7 0-5-6-8 0-6-4-8 0-7-2-6-2-6-5-7-2-1996-350-67 2332z"/></g>
<g clip-path="url(#cl_ireland)"><path fill="#e0e9f3" d="M845 1115l8 0 7 2 8 2 6 4 7 7 9 4 7 12 7 3 6 2 7 2 6 3 8 1 7 2 5 6 6 3 6 4 7 1 7 3 6 4 8-2 5 7 9-2 4 7 8 0 6 3 6 4 7 3 6 3 7 3 7 0 7 2 5 6 8 1 5 5 7 1 8 0 6 4 7 1 5 6 7 1 7 1 8 1 4 7 7 4 7 0 6 4 7 3 7 1 6 5 8-2 5 6 7 2 7 2 6 4 8-1 6 3 6 5 6 3 6 4 9-2 6 4 6 2 6 5 8 0 5 6 6 3 7 2 7 2 8-1 4 8 7 3 7 0 8 0 4 7 7 2 8 0 6 4 7 0 1 0 5 6 6 3 7 2 7 2 6 5 7-1 7 2 7 2 6 3 7 2 6 5 6 5 6 3 8-1 6 3 7 1 1 0 5 5 2356 806 13-432 0-1 79-2172-879-998-1827-129-323 2577-2 7-5 5-3 7-2 7-3 6-5 6-2 6-8 4 0 8-4 6-2 7-5 5-5 6-2 7z"/>
<path fill="#edf3f7" d="M-485 -1696l1265 2742 4 6 7 3 3 7 4 6 5 5 5 5 4 5 6 5 5 5 2 8 6 4 6 4 3 7-5 6-3 6-3 7-3 7-5 6-3 6 0 5 7 2 8-2 6 6 7-1 7-1 6 6 8-3 6 4 6-7 8-4 4-7 6-6-7-12-9-4-7-7-6-4-8-2-7-2-8 0 2-7 5-6 5-5 2-7 4-6 0-8 8-4 2-6 5-6 3-6 2-7 3-7 5-5 2-7 323-2577-1701-147z"/>
<path fill="#edf3f7" d="M-1784 -524l47 1261 2296 433 1 0 7-1 7 1 8 0 7 3 8-1 7 2 7 3 7 2 8-3 7 4 7 2 8 0 7 1 7 0 8 0 8 2 7 4 9 1 8 2 8 2 7 1 8-1 6-3 7-4 8 1 7 3 7-3 7-3 7-2 7-1 7 2 7-5 7 0 8 0 1-7 4-6 3-7 0-5 3-6 5-6 3-7 3-7 3-6 5-6-3-7-6-4-6-4-2-8-5-5-6-5-4-5-5-5-5-5-4-6-3-7-7-3-4-6-1265-2742-20-2-1279 1174z"/>
<path fill="#edf3f7" d="M810 1179l4 6 2 7 1 7 5 6 6 4 0 8 2 8 12 4 6 4 1 8 3 7 7 5 2964 1647 7-717-2356-806-5-5-1 0-7-1-6-3-8 1-6-3-6-5-6-5-7-2-6-3-7-2-7-2-7 1-6-5-7-2-7-2-6-3-6-6-7 0-6-4-8 0-7-2-4-7-8 0-7 0-7-3-4-8-8 1-7-2-7-2-6-3-5-6-8 0-6-5-6-2-6-4-9 2-6-4-6-3-6-5-6-3-8 1-6-4-7-2-7-2-5-6-8 2-6-5-7-1-7-3-6-4-7 0-6-4-1 0-4-7-8-1-7-1-7-1-5-6-7-1-6-4-8 0-7-1-5-5-8-1-5-6-7-2-7 0-7-3-6-3-7-3-6-4-6-3-8 0-4-7-9 2-5-7-8 2-6-4-7-3-7-1-6-4-6-3-5-6-7-2-8-1-6-3-7-2-6-2-7-3-6 6-4 7-8 4-6 7-6-4-8 3-6-6-7 1-7 1-6-6-8 2-7-2-3 7-4 6-1 7z"/>
<path fill="#cfdbe8" d="M-1737 737l3 2376 1250 1090 1689-176 1808-144 809-884 1-99-2964-1647-7-5-3-7-1-8-6-4-12-4-2-8 0-8-6-4 0-1-5-5-1-7-2-7-4-6-8 0-7 0-7 5-7-2-7 1-7 2-7 3-7 2-7-2-8-1-7 4-6 3-8 1-7-1-8-2-8-2-9-1-7-4-8-2-8 0-7 0-7-1-8 0-7-2-7-4-8 3-7-2-7-3-7-2-8 1-7-3-8 0-7-1-7 1-1 0-2296-433z"/></g>
</g>
<g id="reg" clip-path="url(#land)"><polygon class="n" fill="#cfdbe8" points="981.7,2003.3 966.7,2000.0 946.7,1993.3 920.0,1987.3 900.0,1990.7 880.0,1977.3 860.0,1975.0 826.7,1976.0 800.0,1965.0 776.7,1953.3 758.3,1940.7 733.3,1942.7 706.7,1936.0 690.0,1932.7 673.3,1925.0 660.0,1916.7 648.3,1906.0 633.3,1912.7 620.0,1917.3 618.3,1926.7 600.0,1924.0 586.7,1926.0 566.7,1933.3 556.7,1943.3 563.3,1955.0 559.3,1966.7 566.7,1978.3 561.7,1990.0 568.3,2000.0 561.7,2010.0 560.0,2030.0 556.7,2050.0 555.0,2073.3 551.7,2100.0 543.3,2120.0 533.3,2140.0 523.3,2160.0 510.0,2183.3 493.3,2200.0 480.0,2208.3 471.7,2228.3 461.7,2246.7 473.3,2258.3 471.7,2276.7 490.0,2280.0 500.0,2285.0 495.0,2300.0 485.0,2316.7 481.7,2333.3 476.7,2356.7 466.7,2370.0 458.3,2381.7 480.0,2385.0 500.0,2393.3 523.3,2402.7 546.7,2396.7 556.7,2395.0 576.7,2396.7 593.3,2406.7 606.7,2423.3 611.7,2440.0 613.3,2453.3 620.0,2466.7 633.3,2483.3 650.0,2504.0 663.3,2496.7 676.7,2486.7 700.0,2480.0 720.0,2473.3 733.3,2466.7 760.0,2471.7 786.7,2473.3 813.3,2478.3 833.3,2481.7 856.7,2486.7 873.3,2491.7 886.7,2483.3 896.7,2466.7 910.0,2453.3 933.3,2443.3 953.3,2441.7 970.0,2440.0 971.7,2441.7 973.3,2436.7 980.0,2423.3 986.7,2406.7 996.7,2393.3 1010.0,2383.3 1026.7,2373.3 1042.7,2364.0 1033.3,2350.0 1023.3,2336.7 1018.3,2320.0 1016.7,2306.7 1023.3,2293.3 1033.3,2280.0 1046.7,2263.3 1060.0,2250.0 1076.7,2233.3 1086.7,2230.0 1100.0,2221.7 1095.0,2215.0 1106.7,2205.0 1120.0,2198.3 1140.0,2193.3 1160.0,2191.7 1180.0,2188.3 1193.3,2176.7 1213.3,2166.7 1233.3,2156.7 1246.7,2146.7 1248.3,2133.3 1245.0,2126.7 1255.0,2118.3 1248.3,2113.3 1248.3,2106.7 1248.3,2106.7 1236.7,2106.0 1223.3,2106.7 1213.3,2111.7 1196.7,2103.3 1183.3,2106.7 1181.7,2100.0 1170.0,2093.3 1168.3,2091.7 1163.3,2085.0 1151.7,2083.3 1148.3,2081.7 1140.0,2073.3 1126.7,2068.3 1109.3,2062.3 1086.7,2068.3 1066.7,2066.7 1056.7,2055.0 1043.3,2056.7 1028.3,2046.7 1016.7,2036.7 1000.0,2028.3 996.7,2015.0 980.0,2008.3 981.7,2003.3"/>
<polygon class="n" fill="#e0e9f3" points="1281.7,1445.0 1283.3,1463.3 1296.7,1476.7 1310.0,1475.0 1313.3,1480.0 1323.3,1496.7 1333.3,1500.0 1340.0,1513.3 1351.7,1515.0 1353.3,1531.7 1356.7,1540.0 1370.0,1543.3 1380.0,1531.7 1386.7,1526.7 1386.7,1543.3 1396.7,1553.3 1410.0,1566.7 1423.3,1576.7 1433.3,1576.7 1443.3,1583.3 1458.3,1581.7 1470.0,1593.3 1483.3,1606.7 1505.0,1612.3 1520.0,1615.0 1535.0,1620.0 1547.3,1625.0 1542.3,1640.0 1535.0,1660.0 1528.7,1677.3 1522.3,1697.3 1516.7,1713.3 1513.3,1730.0 1501.7,1741.7 1493.3,1730.0 1486.7,1736.7 1476.7,1746.7 1486.7,1753.3 1476.7,1761.7 1460.0,1776.7 1451.7,1786.7 1440.0,1800.0 1433.3,1813.3 1430.0,1823.3 1443.3,1826.7 1466.7,1820.0 1470.0,1836.7 1470.0,1843.3 1468.3,1863.3 1476.7,1870.0 1478.3,1886.7 1471.7,1890.0 1460.0,1916.7 1456.7,1930.0 1476.7,1946.7 1468.3,1973.3 1486.7,1993.3 1511.7,2001.7 1500.0,2021.7 1500,2080 1300,2120 1262,2108 1248.3,2106.7 1236.7,2106.0 1223.3,2106.7 1213.3,2111.7 1196.7,2103.3 1183.3,2106.7 1181.7,2100.0 1170.0,2093.3 1168.3,2091.7 1163.3,2085.0 1151.7,2083.3 1148.3,2081.7 1140.0,2073.3 1126.7,2068.3 1109.3,2062.3 1086.7,2068.3 1066.7,2066.7 1056.7,2055.0 1043.3,2056.7 1028.3,2046.7 1016.7,2036.7 1000.0,2028.3 996.7,2015.0 980.0,2008.3 981.7,2003.3 960,1990 1020,1900 1000,1760 870,1640 880,1570 1000,1560 1040,1515 1100,1520 1180,1490 1225,1452"/>
<polygon class="n" fill="#7b70ae" points="2249.3,1766.7 2549.3,1650.0 2571.0,2100.0 2349.3,2100.0 2249.3,1866.7"/>
<polygon class="n" fill="#8a8cbf" points="1850.0,760.0 1900.0,700.0 1944.0,700.0 1953.3,860.0 1866.7,860.0"/><path fill="#e0e9f3" d="M681.7 1933.3l-1.8-5.5 0.8-5.6-0.7-5.5 0-5.6 2-5.6-2-5.5-5.6 0-5.7 1.3-5.6-3.1-5.7 2.3-5.6-0.5-5.7-0.6-5.6-1.2-5.6 3.3-5.7-0.9-5.6-1.9-5.7 1.2-5.6-2.1-5.7 2.1-5.6-1-5.6 3.1-5.7-1.3-5.6 0.2-5.7-1.4-5.6 2-5.6 0.8-5.7-3.1-5.6-0.9-5.7 0-5.6 3.5-5.7-3.2-5.6 1.4 1.1 5.6-3.4 5.5 0.8 5.6 1.9 5.5-0.3 5.6 0.8 5.5-2 5.6 1.6 5.5 1.4 5.6-2.7 5.5 1.6 5.6 1.5 5.5-1.5 5.6-2.8 5.6 2.9 5.5-0.2 5.6-2.5 5.5 3.4 5.6 0.4 5.5-3.9 5.6-0.3 5.5 2.1 5.6-0.8 5.5 0.9 5.6 6.8-0.1 6.5-1.8 7 1.5 6.4-2.9 6.4-3.1 6.9-1.9 6.4-2.5 7.3 2.5 6.3-3.1 6.7-1.2 3.3 7.6-6.6 8.4 3.3 8.3 6.7-1.5 6.6-1.8 6.1 4 7.3 1 5 5.3 6.6 3 7.8-0.1 7.2-3.2 6.4-3.1 7-0.3 3.6-5.8 4.4-5.2 2.9-6.4 5.7-4.2-5-4.6-2.2-6.2-2.8-5.9 1.6-6.7 1.8-6.6 3.4-5 6.5-1.7 3.4-5-3.1-5.7 0.5-6.7-2.4-5.9 1-5.9-2.2-5.8-1.7-5.7 1.2-6z"/>
<path fill="#edf3f7" d="M681.7 1933.3l1.6 10-1.2 6 1.7 5.7 2.2 5.8-1 5.9 2.4 5.9-0.5 6.7 3.1 5.7 10-1.7 5.5-2 5.8-0.8 5.4-2.2 5.7 0.2 5.4 2 5.5 1.2 6.6 4.4 6.8 3.9 6.6-2 6.7-1.3 5.5 1.1 5.7-0.4 5.5 0.9 6 0 5.4-2.4 5.2-2.6 5.9-1.2 5.8 1.2 5.2-2.6 6.2 0.6 5.4-2 4.9-3.3 1.6-6-1.8-6.3 0.2-6.1 4.1-5.8-1.7-6.3 1.4-6-0.5-6.2-5.3-2.5-5.5-0.5-5.6 0.1-5.6 0.1-5.5-0.4-5.7 0.5-5.5-0.5-5.4-1.4-5.2-2.8-5.6-0.3-5.6 0.2-5.2-2.9-5.6 0.3-5.6-0.1-5.6-0.4-5.3-2.1-5.9 2.2-5.1-3-5.6-0.4-5.4-1.2-5.6 0.2-5.1-3.5-6 2.7-5.6-0.2-5-4.6-6 3.4-5.2-2.9 0.1 6.7 1.3 6.6z"/>
<path fill="#bfcfe5" d="M805.0 1983.3l0 6.7 5.6 3.7 6.1 3 5.1 3.4 6.6-0.6 4.9 3.8 2.8 6.4 0.6 7 4.8 4.4 5.2 3.9 10-1.7-4.4-4.3-2.3-5.7 4.8-3.6 5.2-3 6.9 0.2 6.4-2.7 6.7-0.9 5-6.6 8.3-1.7 6.7-4.3-1-6 0.4-6-1.7-6 2.3-6-5.5-1.7-5.9 1.5-5.3-3.6-5.9 2.5-5.6-0.9-5.6-1.2-5.5-1.5-5.7-0.3-5.6-1.3-5.9 2.4-5.4-2.5-5.9 1.5-5.5-1.6 0.9 8-0.9 8-4.9 3.3-5.4 2-6.2-0.6z"/>
<path fill="#6c4b8d" d="M900.0 1990.7l-6.7 4.3-8.3 1.7-1.7 2.3 10 1 0.7 5.6 3.5 5.1-0.8 6-8.4 6.6 1.7 3.4 6.7-3.4-3.4 10 2.1 7.3 4.6 6.1 10 1.6 5.5 3.6 4.5 4.8 10 3.3 3.3-6.7 3.9-6.8 4.5-6.5 5.5-5.3 6.1-4.7 5.6-3.3 3.5-5.4 4.3-4.6 7.4-3 5.9-5.4 1.7-5-0.9-6.7-0.5-6.6 1.4-6.7-5.6-2.2-6.3 2.4-5.6-2.8-5.7-1.7-6.1 2.1-5.9-0.3-5.7-1.7-5.8-1.4-5.9-0.2-6 0.2-5.6-2.5-6.1 1.5-5.4-3.8-6 0.4-1.6 5.8 0.2 5.8z"/>
<path fill="#cfdbe8" d="M910.0 2038.3l10-2.3 5.2 2.4 4.8 3.3-3.3 5-10 0-5-3.4z"/>
<path fill="#722b60" d="M980.0 2008.3l6.3 0.3 5.4 2.7 5 3.7 3.2 7.2 0.1 7.8 5.9 1.5 5.3 2.8 5.5 2.4 5.7 5.1 5.9 4.9-3.5 6.1-6.2 3.1-5.3 4.1-4.3 6-6.7 3-5.6 4.3-2.4 5.3-4.7 4-0.3 6.5-4.3 4.2 3.3 10-3.4 5.7-4.9 4.3-6.9-1.7-6.4-3.3-4.5-4.1-5.5-2.5 4-5.6 6-3.4-5.8-2.4-1.5-6.7-5.2-2.9-4.2-4-5.4-4.6-4.6-5.4-5.4-2.7-4.6-4 3.3-6.7 3.9-6.8 4.5-6.5 5.5-5.3 6.1-4.7 5.6-3.3 3.5-5.4 4.3-4.6 7.4-3z"/>
<path fill="#7b70ae" d="M896.7 2046.7l6.6 1.3 6.7 0.3 5.5 3.6 4.5 4.8 10 3.3 4.6 4 5.4 2.7 4.6 5.4 5.4 4.6 4.2 4 5.2 2.9 1.5 6.7 5.8 2.4-6 3.4-4 5.6-6.7 6.6-4.4-6.3-5.6-5.3-7.3-2.1-6-4.6-6.7 1.8-6.7 1.5-6.6-6.6-6.7 6.6-3.3-4.5-2.1-5.3-4.6-3.5 3.3-6.3-1.8-7.1 1.8-6.6 2-6.6z"/>
<path fill="#8b1a10" d="M1028.3 2046.7l5.6 2.4 5.1 3.3 4.3 4.3 6.7-0.5 6.7-1.2 4.6 6.2 5.4 5.5 6.7-0.1 6.5 3 6.8-1.3 5.4-2.3 5.5-2.3 5.7-1.4 6 0-0.6 6.3 4.1 5.3 0.5 6.1 0.1 7.1-1.8 6.6-3.3 6.3 0.8 7-1.7 6.5-2.4 6.5-3.5 4.8-5.4 3.1-2.8 5.4-5.8 3.2-3.7 5.1-3.8 5.1 3.3 10-3.8 6.4-2.8 6.9 1.6 10-6.6 4-5 6-0.6 5.6-1.2 5.5 1.8 5.6-3.4 8.3-10 3.3-7-1.6-6.3-3.4-5.6 4.5-6.1 3.9 0.7 7.5 1 7.5-5.8 4.2-4.2 5.8-6.8 3.1-6.5 3.5-5.4 5.5-6.3 4.5-3.3 10-4.4-1.6 1-6.7-5.4-3-6.2-0.3-5.4-4.2-4.1-5.3-3.9-5.5-4.2-3.6-4.7-3-4.4-3.4-3.4-6.4-4.9-5.3 3.4-5.6 4.9-4.4 4.6-3.3 5.4-1.7 0-10-2.7-5.9-3.3-5.6-4-5.2-3.6-4.7-4.8-3.6-3.9-4.3-4.4-4-2.6-10 5.4-4.3 3.9-5.7 3.7-6.2 1.3-7.2 3.2-6 3.6-5.8 4.9-4.8-1.7-10 6 2.5 6 2.6 6.2 1.8 6.8-0.3 4.9-4.3 3.4-5.7-3.3-10 4.3-4.2 0.3-6.5 4.7-4 2.4-5.3 5.6-4.3 6.7-3 4.3-6 5.3-4.1 6.2-3.1z"/>
<path fill="#722b60" d="M1109.3 2062.3l-0.6 6.3 4.1 5.3 0.5 6.1 0.1 7.1-1.8 6.6-3.3 6.3 0.8 7-1.7 6.5-2.4 6.5-3.5 4.8-5.4 3.1-2.8 5.4-5.8 3.2-3.7 5.1-3.8 5.1 3.3 10-3.8 6.4-2.8 6.9 1.6 10-6.6 4-5 6-0.6 5.6-1.2 5.5 1.8 5.6-3.4 8.3 4.3 3.9 1.8 5.7 3.3 4.6 4 4.1 5 0 6.3-2 6.2 3.2 6.2-0.1 6.3-1.1 160-80 0.1-5.9 1.1-5.9-1.9-6 0.6-5.9-1.1-5.9-0.8-5.9 2.7-6 0.2-5.9-0.9-5.9-6.6 0.9-5.9 2.8-5.9 3-5.8-0.3-5.8-0.4-6.6 1.4-6.8-0.7-4.9 2.6-5.1 2.4-5.9-2.1-4.5-4.7-6.2-1.6-7.1 0.3-6.3 3.1-1.6-6.7-5.3-4.3-6.4-2.4-1.7-1.6-8.3 6.6-8.3-1.6 0.3-6.7-0.3-6.7-3.4-1.6-4.9-3.4-3.4-5-6.1-4.1-7.2-0.9-6-1.3-5.1-4z"/>
<path fill="#7b70ae" d="M1151.7 2083.3l6-0.3 5.6 2 5 6.7-8.3 6.6-8.3-1.6 0.3-6.7z"/>
<path fill="#8a8cbf" d="M851.7 2151.7l0.8 7.7 2.5 7.3-3 5.4-3.1 5.4-2.2 5.8 3.1 5.2-1.9 6.1 2.1 5.4 3 5.2 5.9 2.7 2.8 5.4-3.6 4.5-1.4 5.5 6.6 5-1.6 6.7-7.2 0.6-7.3 0.9-7.2-1.5-6.7 0.5-6.6 1.2-6.1 4-7.3 1-1.6-3.4 3.6-4.6 4.3-3.8 4.6-3.3 5.8-1.6-5.3-1.8-4.7-3.2-4.7-3-4.7-3.2-5.9-0.8-4.7-3-5.5-1.5-5.8 1.9-5.4-2.1-8.3 1.7 5.3-2.5 3-4.8 3.4-4.4 6.6-8.3 4.3-6 5.8-4.1 6.6-3.2 4.6-4 4.4-4.2 7.2-0.1 3.8-5.1 4.8-4.1 6.4-1 5.9-2.1z"/>
<path fill="#a1aed2" d="M1063.3 2215.0l-10 3.3-7-1.6-6.3-3.4-5.6 4.5-6.1 3.9 0.7 7.5 1 7.5-5.8 4.2-4.2 5.8-6.8 3.1-6.5 3.5-5.4 5.5-6.3 4.5-3.3 10-4.4-1.6 1-6.7-5.4-3-6.2-0.3-3.4 1.6-3.3 6.7-3.3 6.7-3.5 4.7-6.1 1.1-3.8 4.2-3.5 4.8-3.1 5.2 4 4.9 3.7 5.1 5.6 3.3 3 5.2 1.2 5.5-0.9 6-3.3 10 5.9 4.8 7.4 1.8-1.6 6.7 1.6 6.7-8.3 6.6 0 10-2.4 5.4-2.7 5.2 0.1 6.1 3.1 5.2-1.5 6.1 1.7 5.4 2.5 6.6 1.2 7.1 4.7 5.6 6.2 1.2 5.1-5.1 6-0.5 5.9-0.6 6.1 1 5.7-2 3.5-4.7 5-3.2 4.1-4.1 5.1-3.1 1.6-6.6 6.1-2.1 2.2-6 6.7-1.5 3.2-5 4.8-3.4 4.4-3.8 2.7-5.5 3.9-4.3-2.7-5.3-2.7-5.2-1.3-5.7 1.1-6.4-2.2-5.4-3.6-4.9-1.9-5.5 0.1-6.1-0.6-5.9-2.8-5.2-3.6-5 0.2-6.1 3-5 6.2-1.8 2.6-5.4 4.2-3.8 5.6-2.4 3.5-4.5 1.8-6.2 3.7-4.3 3.8-4.2 4.3-3.7 6.7-1.3 2-6 4.7-3.3 2.8-5.2 5.1-2.9-6.7-0.6-5.2-4.8-6.4-1.3-5 0-4-4.1-3.3-4.6-1.8-5.7z"/>
<path fill="#a1aed2" d="M960.0 2248.3l5.9-0.5 5.8-1.1 3.3 5.8 3.3 5.8-5.8 0.9-5.8 0.8-4.7-5.1z"/>
<path fill="#8a8cbf" d="M880.0 2393.3l5.5-3.4 4.5-5.1 6.7-1.5 5.4-2.6 6-0.9 5.2-3.1 5.5 1.2 5.3 2.8 5.9-0.7 2.5-6.1 4.7-4.7 2.8-5.9 5.2-3.9 4.8-4.4 7.1 2.4 6.2 4.3 0.9 5.8 0.8 5.8-2.4 5.4-2.7 5.2 0.1 6.1 3.1 5.2-1.5 6.1 1.7 5.4 2.5 6.6 1.2 7.1 4.7 5.6 4.2 4.1 6.3-0.2 4.5 3.4-0.7 5.5-1 5.4-1.8 5.2-1.9 5.2-1.3 5.4-6-1.1-5.7 1.7-5.6 2.8-6.2-2.9-5.5 3.7-5.9 0.1-5.9-0.5-5.7 2.5-6.2-3.5-5.6 3.6-6-2.2-5.7 2.5-1.3-7.5 1.3-7.5-4-5-4.2-4.9-3.7-5.2-1.4-6.6-2.3-5.3-0.9-5.6-0.2-5.8-4.9-4-1.3-6.3-3.3-5z"/>
<path fill="#e0e9f3" d="M555.0 2116.7l5.7 0.6 5.7 0.2 5.3 2.5 5.6-3.5 4.4-4.8 5.5-2.8 6.1-0.6 6.2 2.4 3.4 5.9 5.4 3.4 4.9 5.5 6.8 2.8 5.7-5.2 4.3-6.4 10 0 7.4 2.2 7.6 1.1 1.3 6.6 0.4 6.7-1 7.1-3.3 6.3-2.4 6.6-0.1 7.1-3.2 6.3-6.6 1.5-6.8 0.1-2.2 7.3 0.6 7.7 0.9 7.3 4.1 6.1-2.6 5.4-1.6 5.8-2.5 5.4-5 5-7.6 0.3-7.4-1.9-5.7-0.5-5.4-2-5.6-0.9-6.7 0.6-6.6 1.1-5.4 2.1-5.4 2.2-5.9 0.7-3.3 10-6.3 3.1-7 0.2-0.7-6.9-2.7-6.4-4.8-2.9-5.2-2.1-5.4-2.2-5.7 1.3-5.5-0.8-6.7-6.6-5.2 2.2-4.8 2.8-0.4 7.2-1.3 7.2 0 7.2-5.5 1.5-4.6 3.1-4.9 2.8-5-3-3.9-4.2-2.7-5.2-7.2 2.3-7.3-0.7-7.2-1.6 3.5-4.5 2.8-5 4.2-3.8 2.4-5.4 4.4-3.8 3.6-4.3 5.8-2.6 0.7-6.7 6.1-2.4 4-4.1 2.8-4.9 1-6.6 3.5-4.4 5.2-3.1 3.7-4.8 2.2-5.7 2.3-5.7 6.8-2.7-0.1-7.3 3.9-4.6 2.8-5.3 6-3.3 3.5-4.8 2.2-5.8 7.2-1.1 7.3 0.6z"/>
<path fill="#6c4b8d" d="M471.7 2228.3l2.7 5.2 3.9 4.2 5 3 5.8 1.1 5.2-3.4 5.7-0.1 1.7 4.4-6.6 4.1-5.1 5.9-6.4 2.4-5.3 4.2-5.7-1.1-5.8-0.6-6 0.3-4.9-4.7-5.9 0.1 2.2-6.3-2.5-6.2 1.2-6.2-0.9-6.3 7.2 1.6 7.3 0.7z"/>
<path fill="#6c4b8d" d="M471.7 2260.7l7.6-0.3 7.4 1.3 6.8-1.2 7.1 0 6.1-3.8 5.1 5.8 6.5 4.2-5.1 5.2-6.9 1.8-6.3 3-1.7 10-8.3-5-5.9 0-5.8-1.6-5.5-2.9-6.1 1.1-0.1-6.4 4.9-4.9z"/>
<path fill="#8a8cbf" d="M476.7 2356.7l5 2.5 5 2.5 6.3 3 7 0.3 4.6 4.7 6.6 0.7 5.5 2.9 5.8 0.1 5.6-0.4 5.2-3 5.6-2.5 6.1 0.8 5.7-1.6 6 0 0 5.7-2.2 5.6 3.1 5.7 0.7 5.6-1.6 5.7-2.2 6.2 3.2 6.3-1.6 6.3 0.6 6.2-5.5-1.9-5.6-1.5-6 0.2-5.4-2.5-5.3-2.3-5.5-2.2-5.9-0.2-5.4-2-5.9-0.3-5.9-0.4-5.9-0.2-5.3-2.9-5.1-3.1-6-0.1-5.9-0.2-5.4-2.3-5-3.9-5.8-0.6-5.9-0.3-1.9-6.7 0.2-6.6 0-6.6 1.7-6.7 5.8-0.7 5.5-1.8 5-2.8 5.4-1.9z"/>
<path fill="#bfcfe5" d="M556.7 2395.0l1.6-5.7-0.7-5.6-3.1-5.7 2.2-5.6 0-5.7 1.8-6 5.7-3.4 2.5-5.6 5-2.5 4-4 4.3-3.5 5-3.6 6.6 1.8 5.1-3.2 3.3-6.7 10 3.3 4.5 4.1 5.5 2.6 6.8 3.1 6.5 3.6 6.8 3.9 6.6 4.4 6.2-4.8 7.1-3.5 6.8 0.9 6.5 2.4 6-1.2 5.7-2.1 2.2-5.4-1.5-5.8 1-5.5 6-4.6 7.3-2.1 6.2-4.1 7.1-2.5 6.9-1 6.5-2.4 5.6 3.4 2.9 5.9 4.8 4.1 5.2 2.4 3.9 4 4.2 3.6 5.5 2 4 3.8 3.9 4.2 5.3 2.1 5.7 0.7 5.6 0.5 5.5 1.3 5.5 1.6 5.7 0.4 5.5-1 5.6-0.6 5.6 0 5.8 0 5.6 0.5 5.2 2.8 5.5 1.1 5.7-1.1 5.5 1.7 5.4-2.1 5.8 1.8 5.5-1.4 2.8 6.2 3.8 5.5-0.5 6.8 2.2 6.5-8.3 6.7 6.8 2.9 6.5 3.7 3.8 4.7 3.3 5 1.3 6.3 4.9 4 0.2 5.8 0.9 5.6 2.3 5.3 1.4 6.6 3.7 5.2 4.2 4.9 4 5-0.6 6.1 1.2 6-0.1 6.1 1 6 0.1 6-0.8 6.1 3.5 5.9-1 6.1-263.3 26.7-2.9-4.8-1.6-5.8-6.2-2.6-2.1-5.4-1.6-5.7-6.1-2.7 0.1-6.9-6.1-2.7-2.7-4.9-3.4-4.6-3.7-4.3-1.3-5.9-2-5.4-5.4-3.2-4.4-3.9-1.6-5.7-1.6-5.7-6-2.8-0.8-6.2-3.9-4.2-6.3-2.1-5.9-2.8-5-4.8-5.9-3-6.9-0.6-0.6-6.2 1.6-6.3-3.2-6.3z"/>
<path class="l" d="M666.7 2048.3l4.9 3.9 5.6 2.5 6.5 0.9 4.6 4.4 0.9 5.7-0.1 5.6-2.4 5.4 4.6 5.3 5.8 3.4 6.2 2.9-3.5 5-5.7 2.5-4.1 4.2-5.2 3.9-4.8 4.7-6.7 1.4-6.5 2.5-5.2 5.1-6.6 2.4"/>
<path class="l" d="M593.3 2213.3l3.6 6.6 3.1 6.8 1.5 6.6 0.2 6.7 0 6.7 5.5 4.4 3.6 5.7 2.5 6.5-3.3 6.4-1.7 7-6.3 3-5.3 4.7-6.7 2.3-4 4.8-1.3 6-1.4 5.8 3.8 6.1-1.3 7.9 4.2 6 4.9 3.5 5.1 3.2"/>
<path class="l" d="M646.7 2166.7l6.6-1.2 7 0.5 6.4-2.7 5.8 1.6 5.8 1.5 5 3.6 5.4 2.7 4.6 4 10 0 4.6 4.3 2.8 6.1 6 2.9 6.1 3.8 5.5 4.5 1.7 10 5.6 0.6 5.7-0.7 5.4 1.8 5.8-1.6 5.4-2.5 5.4-2.6 5.7 3.5 6 3.2"/>
<path class="l" d="M851.7 2151.7l8.3-5 6.7-0.8 6.6-0.9 5.8-0.1 5.7 0.7 5.2 2.7 6.7 4.1 6.6 4.3 4.2 6.5 5.8 5.1 5.4-2.1 5.6-0.4 5.7 0.9 3.3 6.6"/>
<path class="l" d="M730.0 2208.3l-1.9 6.1-3.1 5.6 3.5 6.3 1.5 7-1.5 6.6-0.2 6.8 3.2 7.3 5.2 6 4.3 4.5 5.7 2.2 10-1.7-1.5 7.5-1.9 7.5-10 3.3-1.6 10-3.2 5.9-5.2 4.1-2.8 5.3-3.8 4.7"/>
<path fill="#bfcfe5" d="M1221.7 1516.7l4.1 5 1.5 6.7 4.4 4.9-3.4 10 0.9 5.5-1.7 5.8 2.5 5.4-2.2 6.1 1 6.5 0.1 6.3-2.2 6.1 10 3.3 5.4 1.6 6-1 5.2 2.8 5.7 2.5 5.3 3.4 5.7 2.4 6.7-0.4 6.7 0.1 6.6 1.9 6.7-1.6 1.9 5.7 1.2 6 3.1 5.2 3.8 4.8 6-3 4-5.4 2.7-6.9 3.9-6.4-0.3-6.6 0.3-6.7 4.5-3.5 5.5-1.5 3.9-4.6 3-5.2 3.1-5.2 5.3-4.7 4.7-5.3-0.2-5.8 3.5-5.1 0.1-5.8-3.4-8.3 0.3-5.6-0.2-5.6-1.7-5.5-5.8-1.3-5.9-0.4-3.4-6.6-3.3-6.7-10-3.3-3.1-5.7-1.8-6.5-5.1-4.5-3.3-5-6.8 0-6.5 1.7-4.3-4.6-3.5-5.5-5.6-3.3-0.8-6.1-0.6-6.1-0.2-6.1-3.8-5.3-1.2-6.4-5.8 1.2-3.9 5.1-4.9 2.9-6.9-0.9-5 2.9-4.6 3.5-4.7 3.5-6.2 0.4-5.1 2.7-3.8 5.2-6.2 0.5-3.5 5.8-6.1 0.6-1.2 5.6 0.8 5.5-0.6 5.6-0.6 5.5 2.5 5.6 0.3 5.5-1.7 5.6 1.7 5.5-1.2 5.6 5.8-0.9z"/>
<path fill="#8a8cbf" d="M1211.7 1595.0l5.3-4.8 6.3-3.5 6.6 1.9 6.8 0.7 5.2 2.7 6.1-1.6 5.3 2.3 4.8 4.2 6.4 0.6 5.5 2.5 6.7-0.4 6.7 0.1 6.6 1.9 6.7-1.6 1.9 5.7 1.2 6 3.1 5.2 3.8 4.8 0 5.7 1.7 5.5 1.6 5.4-4.5 4.3-2.2 5.7 1.7 8.4-6.5 2.3-6.8-1.1-6.7 0.4-2.2 6-2.8 5.7-7.3 2.5-7.7-0.8-6.1-3.8-5.6-4.6-1.6-8.3-6.7-0.5-6.6-1.1-6.7 1.6-1.2-7.9-3.8-7.1-5.1-4.9-4.9-5.1 0.7-5.9-2-5.4-2.1-5.4 1.6-6.3-2.6-5.9z"/>
<path fill="#cfdbe8" d="M995.0 1690.0l6.4 0.7 5.9-2.4 6-1.6 5.3-2.2 4-4 4.1-3.8 7 0.6 6.5-1.6 6.5-2.4 6.3-2.9 7-0.4 4.5-3.8 5.5-2.7 3.3-5.2-1.1-6.3 1.1-6 1.7-6-1.3-6.3 1.9-5.9 1.1-6.1 5 3.5 5.7 1 5.9 0.5 6.8 0.2 6.6-1.9 5.4-1.9 5.8 2.1 5.4-1.9 3.4 10 10 3.4 10-3.4 5.5 5.9 2.8 7.5 6 2.9 5.7 3.7 5 5 1.6 5-4.6 6.4-3.7 7-3.1 7.3-5.2 6-7.1 2.5-6.3 4.2-5.1 2.3-4.9 2.7-0.3 7.8-3 7.2-3.2 6.4-5.1 5.2-5 5-10 0-6.7 1.1-6.7 0.6-6.5 2.2-6.8 0.1-10 2.7 3.3 10 1.7 7 3.3 6.3 0.4 6.8-2 6.6 3.3 10-5.9 0.6-5.8 1-5.8-1.1-5.8-0.5-8.4 1.6-5-3.4-5.9-1.1-5.1-3.2-6.1-0.7-5.1-3.1-5.8-1.4-5.3-2.7-5.5-2.2-5-3.4-6.2-0.4-1.2-5.6-1.5-5.5-3.1-5.2 1.5-6.2-0.6-5.8-2.8-5.2-2.8-5.2 1.3-6.2-3.6-5-2.9-5.2-0.9-5.7 0-5.9 5.6-4.3 6.3-2.9z"/>
<path fill="#cfdbe8" d="M1166.7 1653.3l5-8.3 5.5-4.9 2.8-6.8-3.2-6.3-0.1-7 4.7-4.2 6.3-0.5 5.6-2 5.2-2.8 5.4-2.5 6.1 0.3 3.3 5 2.1 5.4 2 5.4-0.7 5.9 4.9 5.1 5.1 4.9 3.8 7.1 1.2 7.9 6.7-1.6 6.6 1.1 6.7 0.5 1.6 8.3 5.6 4.6 6.1 3.8 7.7 0.8 7.3-2.5 2.5 5 2.5 5-1.7 10-5.5 4.5-4.5 5.5-1.1 5.7 0.9 5.6 1.9 5.4-2.5 6.7-2.5 6.6 0 6.1 1.5 5.6 3.5 5 0.7 5.5-0.2 5.6-0.5 5.5-2.2 6.5 0.5 6.9-6.3 3.2-7 0.1-5 2.5-5 2.5-1.7 8.3-5.6 0.8-5.2 2.5-5.8 0.1-6 1.8-6.2 0-6.2-0.2-6.7-0.6-6.6-1-5.4 1.9-5.6 0.9-5.7 0.5-5.1-2.4-4.9-2.6-2.8-5.7-2.2-6-3.4-5.6-4.9-4.4-2.5-6.4-0.8-6.9-4.3-5.3-2.4-6.4-5.8 1-5.9 0.7-6.6-1.7 0-8.3-8.4-6.7-1.6-5 5.1-5.2 3.2-6.4 3-7.2 0.3-7.8 4.9-2.7 5.1-2.3 6.3-4.2 7.1-2.5 5.2-6 3.1-7.3 3.7-7 4.6-6.4-1.6-5z"/>
<path fill="#bfcfe5" d="M1285.0 1658.3l6.7-0.4 6.8 1.1 6.5-2.3 4.4 4.9 3.6 5.3 2 6.4 5.3 4.6 1.6 7.1 4.8 5 5.5 1.4 5.2 2.5 5.9-0.6 5.8-0.1 5.7-0.4 5.2-2.8 8.3 1.6 6.7 5.1 3.4 5 1.7 5.5-0.1 6.1 4.4 4.3 4.9 3.3 5.7 2.4 5.7-3.6 6-3 4.9-4.4 3.4-5.6 6.2-2.8 5.5-3.9 4.8-2.9 5.2-2.1 4.8 4.3 6.4 1 5.4 3 5.9 0.7 5.3 2.3 5.5 2 6.8 3.9 6.5 4.5 4.6 3.5 0.7 6.4 4.7 3.4-6.6 6.7-5.3 4.7-4.7 5.3 5.3 2.9 4.7 3.7-4.9 4.3-5.1 4.1-3.5 4.5-6.1 1.6-1.8 6.4-5.3 2.5-4.1 5.1-4.2 4.9-3.1 5.1-3.9 4.5-4.7 3.7-3.4 6.6-3.3 6.7-3.3 10-6.7 3.4-6.6 0.9-6.7 0.7-6.6-1.9-5.1-4.7-3.8-6.1-4.5-5.6-10-3.3-4.8 3.7-5.2 2.9-0.5 6.3-3.9 4.9-2.3 5.5-6.6-8.3-5.6-0.2-5.5 2.1-5.6-0.3-5.2 3.1-4.8 3.6-6.8-1-6.5-2.3-1.7-10 6.7-8.4-5.1-3.2-4.9-3.4-0.4-6.8-3.6-5.6-2.7-6-6.2 0.6-5.5 2.8-5.9-1.3-5.7-2.1-8.4-6.6-0.5-6.9 2.2-6.5 0.5-5.5 0.2-5.6-0.7-5.5-3.5-5-1.5-5.6 0-6.1 2.5-6.6 2.5-6.7-1.9-5.4-0.9-5.6 1.1-5.7 4.5-5.5 5.5-4.5 1.7-10-2.5-5-2.5-5 2.8-5.7z"/>
<path fill="#cfdbe8" d="M1231.7 1796.7l5.8-0.1 5.2-2.5 5.6-0.8 1.7-8.3 5-2.5 5-2.5 7-0.1 6.3-3.2 8.4 6.6 5.7 2.1 5.9 1.3 5.5-2.8 6.2-0.6 2.7 6 3.6 5.6 0.4 6.8 4.9 3.4 5.1 3.2-6.7 8.4 1.7 10 6.5 2.3 6.8 1 4.8-3.6 5.2-3.1 5.6 0.3 5.5-2.1 5.6 0.2 6.6 8.3 2.3-5.5 3.9-4.9 0.5-6.3 5.2-2.9 4.8-3.7 10 3.3 4.5 5.6 3.8 6.1 5.1 4.7 6.6 1.9 6.7-0.7 6.6-0.9 6.7-3.4 6.7 1.7 6.6 1.7 6-1.3 5.6-2.4 5.6-2.6 6.2-0.4 2.7 5.2-2.3 6.3 2.9 5.2 0 6.6 1.2 6.8-3.5 6.4 0.6 6.8 8.4 6.7-1.2 5.7 0.3 5.6 2.5 5.4 8.4 6.6-2.8 6.4-0.6 7-5.1 4-5.1 4.1-6.4 1.9-10 1.6-6.3 3.7-7.1 1.3-5.5-3.5-4.5-4.8 1.3 7.4 0.4 7.6-6 4.8-5.7 5.2-6.5 3.7-6.8 3-2.6 6.4-0.7 6.9-7.4 2-6 4.7-5 6.6 5.2 4.1 3.2 5.9 3.3 5-5.7 2-6-0.3-4.3-4.9-4-5.1-10-3.3-2.2-5.8-4.5-4.2-6.6 6.6-10 0-6.7 1.7-7-0.2-6.3-3.1-7.3-0.9-6.1-4.1-1.1-5.7-0.7-5.9-3.2-5.1-2.4-6.7-2.6-6.6-3.5-4.6-6-1.3-3.8-4.1-10 3.3-2.4-5.1-2.6-4.9-7.1 4.3-7.9 2.4-2.6 4.9-2.4 5.1-2.6-5.5-4.1-4.5-5-8.4-5.4 3.7-4.6 4.7-5.4 4.6-4.6 5.4-5.7-1.7-5.9 0-1.8-5.8-1.6-5.9-0.8-6.6-0.8-6.7 4.1-4.4 2.5-5.6 3.5-5.6 4.9-4.4 2.4-5 2.6-5 8.3-6.7-1.3-5.9-2-5.7 2-7.7 3-7.3-1.5-5.5-3.5-4.5 5.5-3.9 6.1-2.8 0.3-6.8-1.9-6.5-5.5-5.9-2.9-7.5z"/>
<path fill="#bfcfe5" d="M1456.7 1918.3l-6.3 3.7-7.1 1.3-5.5-3.5-4.5-4.8 1.3 7.4 0.4 7.6-6 4.8-5.7 5.2-6.5 3.7-6.8 3-2.6 6.4-0.7 6.9-7.4 2-6 4.7-5 6.6 5.2 4.1 3.2 5.9 3.3 5-5.7 2-6-0.3-4.3-4.9-4-5.1-10-3.3-2.2-5.8-4.5-4.2-6.6 6.6-10 0-3.4 8.4 2.8 6.1 3.9 5.5-1.3 7.2-3.7 6.2-6.6 4.2-5.1 5.8-3.9 4.6-2.7 5.4-4.6 3.9-5.4 2.7-2.3 5.6 4.3 5.5 0 5.6-3.2 5.5 1.1 5.6 2.1 5.5-1.1 5.6-0.8 5.6 2 5.5-3.6 5.6 2.2 5.5-0.7 5.6 193.3 0-2.1-5.4 0.5-5.8-0.2-5.6-1-5.6 1.4-5.8-4.4-5.2-0.3-5.6 1.1-5.8-0.4-5.7-3.1-5.3-1.4-5.5-0.8-5.5 2.7-6.1-2-5.4 3.9-4.4 0.3-6.6 5.6-3.4 1.9-5.6-6.8-0.4-5.4-4.8-6.4-1.5-6.4-1.7-3.4-6.1-4.6-5-5.4-4.3-5-4.6 0.7-5.6 4.6-4.4-1.5-6.3 3-4.9 1.6-5.4-4.8-4.4-5.9-3.2-4.3-4.9-5-4.2 2.4-6.5 0.9-6.8z"/>
<path fill="#8a8cbf" d="M1306.7 1621.7l6-3 4-5.4 2.7-6.9 3.9-6.4-0.3-6.6 0.3-6.7 4.5-3.5 5.5-1.5 3.9-4.6 3-5.2 3.1-5.2 5.3-4.7 4.7-5.3-0.2-5.8 3.5-5.1 0.1-5.8 6.7 1.3 6.6 2 5.7-5.2 4.3-6.4 6.7-5 1 5.5-0.7 5.6-0.3 5.5 5.4 4.6 4.6 5.4 3.7 5.2 5.8 3.1 3.8 5.1 4.7 2.9 4.2 3.8 4.4 3.3 10 0 5 3.3 5 3.3 7.5-0.3 7.5-1.3 4.7 7 7 4.6 5.8 3.2 1.8 7 5.7 3.2 5.7 0.5 5.2 2.2 5.9-0.7 4.9 3.6 7.4 2 7.6 0.7 7.8 1.5 7.2 3.5 5.9 3 6.4 2-0.8 8.1-4.2 6.9-4.3 6 0.4 7.7-3.4 6.3-1.8 5.9-2.8 5.5-1.7 5.9-0.1 7.3-2.5 6.6-3.8 6.1-3.2 4.9-2.1 5.2-0.3 5.9 0.5 5.9-2.9 5.2-1 5.6-6 5.7-5.6 6-4.6-5.6-3.8-6.1-4.7-3.4-0.7-6.4-4.6-3.5-6.5-4.5-6.8-3.9-5.5-2-5.3-2.3-5.9-0.7-5.4-3-6.4-1-4.8-4.3-5.2 2.1-4.8 2.9-5.5 3.9-6.2 2.8-3.4 5.6-4.9 4.4-6 3-5.7 3.6-5.7-2.4-4.9-3.3-4.4-4.3 0.1-6.1-1.7-5.5-3.4-5-6.7-5.1-8.3-1.6-5.2 2.8-5.7 0.4-5.8 0.1-5.9 0.6-5.2-2.5-5.5-1.4-4.8-5-1.6-7.1-5.3-4.6-2-6.4-3.6-5.3-4.4-4.9-1.7-8.4 2.2-5.7 4.5-4.3-1.6-5.4-1.7-5.5z"/>
<path class="l" d="M1056.7 1606.7l0.9 5.8-0.9 5.8 5.7-1.2 5.9-0.4 8.4 5"/>
<path class="l" d="M1155.0 1646.7l6 2.9 5.7 3.7 5-8.3 5.5-4.9 2.8-6.8-3.2-6.3-0.1-7 4.7-4.2 6.3-0.5 5.6-2 5.2-2.8 5.4-2.5 6.1 0.3 2.4-6.5-0.7-6.8 5.3-4.8 6.3-3.5 3.4-1.7 2.2-6.1-0.1-6.3-1-6.5 2.2-6.1-2.5-5.4 1.7-5.8-0.9-5.5 3.4-10-4.4-4.9-1.5-6.7-4.1-5"/>
<path class="l" d="M1208.3 1910.0l-7.6-0.3-7.4 2-5.5-1.9-3.1-5.2-4.7-2.9-8.3 1.6-0.4 6.8-1.3 6.6-8.3 6.6-8.4 6.7-8.3 6.7-0.5 6.8 2.2 6.5-10 3.3-1.7 10-8.3 6.7-6.6 0.9-6.8-0.5-6.6 1.3-6.8 1.4-6.6 1.9-5.9 1.5-5.7 1.8-10-3.3-2.2 7.3 0.5 7.7-5 6.7 5.1 6 3.2 7.3 2.6 6.4 0.8 6.9-2.8 5.4-3.9 4.6-2.4 5.1-4 4.1-3.6 4.2"/>
<path fill="#edf3f7" d="M2146.7 760.0l233.3-50 0 172.7-5.6-1.5-5.5 1.1-5.5 1.1-5.6 0.6-5.6-1.5-5.5 0.2-6.6-2.5-6.7 1.4-6.7 0.1-4.4 5.6-5.6 4.4-6.6-3.5-6.8-3.2-4.8-5.2-5.2-4.8-6.5-2.4-6.8-0.9-6.8-2-6.5-3-5.4-1.7-4.6-3.3-10 1.6-4.9 2.7-3.8 4.2-4.7 3.1-4.4 4-3.9 4.4-4.9 6.7-6.8 4.9-5.5 0.3-5.2 3.1-5.9-3.1-5.4 1.6-5.2 2.4-5.6-0.1-5.6-0.3-5.5 0.3-5.3 2-5.3 1.4-5.7-0.8-5.5 0.2-5.5 0.9-4.9 4.8-5.9-2.8-5 4.2-5.9-2.5-5.3 1.6-5.5 0.6-5.4 1.5-5.3 1.7-5.6-0.3 1.7-5.6-3.5-5.5 3-5.6 0.7-5.5-0.7-5.6-3-5.5 1.8-5.6-2.1-5.6 1.2-5.5 0.6-5.6 2.1-5.5-2.5-5.6 1.7-5.5-2.8-5.6-0.3-5.6 4.1-5.5-1.1-5.6-1.6-5.5 0.6-5.6 1.8-5.5-1.7-5.6 5.4-2.1 3.9-4.7 4.2-4 6-1.2 5.9-1.3 4.2-4.2 4.4-3.6 4.1-4.3 5.8-1.5 4.1-4.3z"/>
<path fill="#edf3f7" d="M2225.0 881.7l3.9-4.4 4.4-4 4.7-3.1 3.8-4.2 4.9-2.7 10-1.6 4.6 3.3 5.4 1.7 6.5 3 6.8 2 6.8 0.9 6.5 2.4 5.2 4.8 4.8 5.2 6.8 3.2 6.6 3.5 5.6-4.4 4.4-5.6 6.7-0.1 6.7-1.4 6.6 2.5 6.6 0 5.6-0.1 5.7-0.1 5.1 2.9 5.5 0.7 5.6-0.1 5 3.8 6-2 5.5 0.7 5.5 0.7 5.1 2.8 5.4 1.3 0.1 5.8 2.3 5.3-0.3 5.8 2.7 5.3 2.2 5.3-1.5 6.1 3 5.2-0.1 5.8 3 5.2-1.8 6.1 4.7 4.8-1.2 6.1 0.7 5.6 3.7 5-0.8 6-3.2 4.9-4.5 3.4-6.5 1.2-1.5 6.9-5.2 2.6-5.9 1.8-1.9 6.4-4.6 3.3-5 2.8-7.7 0.7-7.3 2.6-6.2 4.3-7.2 2.4-4.4 4.9-5.6 3.4-5.7 0-5.2-3-5.7-0.3-5.8-3.2-4.2-5.1-6.9-2.9-6.5-3.8-5.1-3.2-4.9-3.5-6.6 1.4-6.7 0.3-7-0.1-6.3-3.2-3-4.7-3.8-4.2-3.2-4.5-4.4 4.9-5.6 3.5-5.2 3.5-5.8 2.3-5.7 2.5-5.5-0.8-5.8 1.1-5.4-2-6.7 0.1-6.6 1.6-5.5 2-5.8 0.8-5.4 2.2-6.6-5-6.8 1.1-6.6 2.2-6.5 2.4-6.8-0.9-6.8-2.2-6.5 2.4-6 4.8-7.4 1.9-5.5 3.4-4.8 4-3 5.9-2.6 6.3-2.4 6.4-5.7 1.6-5.6-3.7-5.7 2.6-5.6-0.9-5.7 0.4-1.4-5.5 0.9-5.5-1.5-5.6 0.6-5.5 0.5-5.5-0.1-5.5 0.6-5.6 1.5-5.5-1.4-5.5-1.1-5.5 3.5-5.6-2.5-5.5 2.5-5.5-2.7-5.5 2.3-5.6-1.4-5.5-1.6-5.5 3.2-5.5-0.4-5.6-1.8-5.5 0.3-5.5 4.8-3.7 5.7-1.9 5.9-1.6 4.1-5 5.2-3.1 5.4-2.5 6.5-0.4 5.2-2.8 4.3-4.9 6.2-0.8 5.5 1.2 5.9-0.5 5.3 2.6 3.6 4.6 3.9 4.4 2.9 5-0.4 6.9 5.8 3.4 1.1 6 2.6 5.2 3.8 4.5 5.7 1.2 3.4 5.2 5.2 2.2 4.2 3.7 5.7 1.3 3.3 5.2 5.8 1.2 1.1-5.8 0.4-6 2.6-5.6 2.2-5.6-1.3-6.3 2.3-5.6-0.1-6 3.3-5.5 0.2-6-0.7-6.2 3.9-5.3-0.5-6.1 0.2-6z"/>
<path fill="#e0e9f3" d="M2115.0 1042.7l2.4-6.4 2.6-6.3 3-5.9 4.8-4 5.5-3.4 7.4-1.9 6-4.8 6.5-2.4 6.8 2.2 6.8 0.9 6.5-2.4 6.6-2.2 6.8-1.1 6.6 5 5.4-2.2 5.8-0.8 5.5-2 6.6-1.6 6.7-0.1 5.4 2 5.8-1.1 5.5 0.8 5.7-2.5 5.8-2.3 5.2-3.5 5.6-3.5 4.4-4.9 3.2 4.5 3.8 4.2 3 4.7 6.3 3.2 7 0.1 6.7-0.3 6.6-1.4 4.9 3.5 5.1 3.2 6.5 3.8 6.9 2.9 4.2 5.1 5.8 3.2 5.7 0.3 5.2 3 5.7 0 5.6-3.4 4.4-4.9 7.2-2.4 6.2-4.3 7.3-2.6 7.7-0.7-4.5 4.7-7.1-0.9-5.5 2.7-4.7 4.3-4.7 4.2-7.1-0.8-4.8 4.1 0.7 7.5 1 7.5-1.7 10 7 0.4 6.4 3-3.4 10-7 2.6-6.3 4-2.1 7.3-4.6 6.1-5.4 4.6-4.6 5.4 0.2 5.8-1.8 5.4-1.7 5.4 1.2 6.8 2.1 6.6-3 6.3-0.3 7-5.4 4.6-4.6 5.4-5.8 2.2-4.2 4.5-6.7 6.6-1.8 5.4-3.2 4.6-6.9 0.2-4.8 5.6-6.6 0.9-6.1 1-5 3.6-5.6 2.1-5.5-0.5-5.6 2-5.5-1.5-3.4-3.4-3.3-10-5-3.2-5-3.4-4.8-3.7-5.2-3-6 1.2-5.7 2.1-2.6-5-2.4-5-1.2-6.6-0.4-6.7 1.5-6.7 1.8-6.6-5-6.7-3.6-5.4-4.7-4.6-5.9 0.4-5.8 1.3-5.4 2.2-5.5 1.3-5.8-0.2-5.9-0.3-4.9-3.9-5.8-0.8-6.4-3.9-7-2.8-2.8-5.4-3.8-4.6-6-4.7-7.4-1.9-3.5-4.3-2.8-4.9-3.5-4.3-4.8-3.3-0.7-6.5-4.7-3.4 5.4-2.1 4.3-3.5 3-5.2 3.9-4z"/>
<path fill="#7b70ae" d="M2352.7 1030.0l5.7-4.6 4.9-5.4 7.2-2.4 6.2-4.3 7.3-2.6 7.7-0.7 4.3-10 4.2-4.7 3.5-5.3 5.6-3.3 4.7-4.7 6.9-1.2 5.1-4.1 5.6 1.7 5.6-0.6 5.5-2.9 5.6 2.2 5.6-0.8 5.5-1.9 5.7 2 5.6 0.8 5.4-3.6 5.6 0.9 5.7 2.3 5.5-2.8 5.6 0.1 5.5-0.9 5.7 2.3 5.6 1.2 5.6-0.2 5.5-2.4 5.5-0.8 5.7 3 5.5-2.2 5.6 0.1 5.6-0.2 5.6 1.4 5.6-0.1 5.5-2 0 415-5.8 0.9-5.8 0.7-5.2 3.3-6.3-1.6-5.2 3.4-6.1 3.7-7 0.6-6.9 0.7-8.4-3.3-2.3-6.8-2.7-6.6-4.5 4.1-5.5 2.6-4.5 4.1-5.5 2.6-7.1-2.4-6.2-4.3-6.6-2-6.7-1.3-10-3.4-4.9 3.5-5.1 3.2-7 3.6-4.7 6.4-5-3.3-3-4.8-2-5.2-6.1-1.6-6.1 3.3-6.1-1.7-4.6-3.2-5.3-2.1-3.5-4.7-6.5-2.2-6.6-1.3-6.9 0.1-6.7-1.1-6.8 0.1-6.5-2.3-6.2 0.3-5.6-2.1-5.9-0.7-5.6-2.5-5.9 1.1-5.6-3.4-6 0.8-5.8-0.2-7.2-2.3-7.3 0-7.2 2.3 1.4-5.4 1.3-5.5-1-5.7-0.7-5.7-2.2-5.3-0.5-5.7-4.5-4.1-5.5-2.6-7.1-2.5-6.2-4.1 3.1-5.2 2.8-5.4 0.8-6.1 3.3-5 3.3-5 5.2-3.7 4.5-4.4 3.7-5.2-1.5-5.5-1.8-5.4-0.1-5.8-2.4-6.5-0.9-6.8-3.4-4.6-1-5.7-4.8-3.9-0.8-5.8-4.3-4.1-1.4-5.6-1.3-5.6-3-4.7-2.4-6.3-4.7-5.3-1.2-6.8 5.9-1.1 5.7-2.2 7-0.4 6.4-2.9 6.6 1.6 6.7-0.6 4-5.7 6-3.7 8.3-6.6 2.4-6.6 7-3.4 2.3-6.7 5-2.5 5-2.5 1.2-6.4 3.8-5.3 1.5-6.7 1.8-6.6-1.3-5.5 0.2-5.8-2.2-5.4 3.3-7.2 5-6.1 4.4-5.2 2.3-6.5 6.7-6.6 6.5-2.2 5.1-4.5 3.4-6.7-6.6-2.2-6.8-1.1 1.2-5.8 0.5-5.9-1.4-6.7z"/>
<path fill="#bfcfe5" d="M2571.0 1388.3l-5.8 0.9-5.8 0.7-5.2 3.3-6.3-1.6-5.2 3.4-6.1 3.7-7 0.6-6.9 0.7-8.4-3.3-2.3-6.8-2.7-6.6-4.5 4.1-5.5 2.6-4.5 4.1-5.5 2.6-7.1-2.4-6.2-4.3-6.6-2-6.7-1.3-10-3.4-4.9 3.5-5.1 3.2-7 3.6-4.7 6.4-5-3.3-3-4.8-2-5.2-6.1-1.6-6.1 3.3-6.1-1.7-4.6-3.2-5.3-2.1-3.5-4.7-6.5-2.2-6.6-1.3-6.9 0.1-6.7-1.1-6.8 0.1-6.5-2.3-6.2 0.3-5.6-2.1-5.9-0.7-5.6-2.5-5.9 1.1-5.6-3.4-6 0.8-5.8-0.2-7.2-2.3-7.3 0-7.2 2.3 2.8 7.5 5.5 5.9 1.8 6.5 5.6 4.1 2.6 6 2.3 5.3 5.9 2.5 1.8 5.6 5.1 4.9 4.9 5.1-5 8.3 2.1 6.6 4.6 5.1 1.6 6.7-1.6 6.6-5.8 3.1-6.2 2-6.3 1.6-3.4 10-3 4.6-4.1 3.9-2.9 4.8-1.6 5.4-4.1 4.2-1.8 5.4-2.5 5-3.2 4.7-2.5 5 0.1 6.2-4.4 4.1 1.4 6.7 2.8 6.4 0.8 6.9-0.1 6.8 1.8 6.5 4.4 4.8 3.9 5.2-1.6 3.4-6.7-0.4-6.7 0.4-1.8 6.6-2.1 6.4 0.6 7-4.6 6.4-3.7 6.9-1.8 6-0.4 6.1 0.5 6.2 5.3 3.9 4.7 4.5 5.7 4.3 4.3 5.7 5.7-0.7 5.5 0.8 5.5 1.5 6.6 5 4.9-2.8 3.4-4.7 5.1-2.5 5.9 0.6 4.7 4.2 6 0.2 6.8 1.6 6.5-3.1 6.7-0.1 6.6-1.7 6.8 0.5 6.8-0.1 6.5-2.1 6.8 0.5 6.5-2.1 5.5 3.5 4.5 4.8 6.5 2.5 6.9 0.8 4.4-4.5 3-5.8 5.9-3 5-3.6 5.4-2.7 6.3-0.4 7-1.2 6.2-3.5 6.8-1.9 2.8-6.5 0.4-7.2 3.4-6.3 3.7-4.4 5.4-2 4.3-3.6 6.7-1 6.6 1 4.3 3.5 4.5 3.3 4.5 3.2 4.7 4.2 4.4 4.5 4.3 4.6 4.5 3.6 2.2 5.2 3.3 4.5 4.5 3.2 3.7 4.3 5.1 2.5 4.6 3.4 6.4 0.1 3.2 6 5.9 1 4.9 2.9z"/>
<path fill="#a1aed2" d="M2299.3 1643.3l4.9-2.8 3.4-4.7 5.1-2.5 5.9 0.6 4.7 4.2 6 0.2 6.8 1.6 6.5-3.1 6.7-0.1 6.6-1.7 6.8 0.5 6.8-0.1 6.5-2.1 6.8 0.5 6.5-2.1 5.5 3.5 4.5 4.8 6.5 2.5 6.9 0.8 0.4 5.7 1.5 5.5 1.4 5.5 1.8 6.8 1.1 7.1 3.8 6.1-3.3 6.2-0.1 7.1-4.3 4.5-5.7 2.2-3 4.7-5.2 3-1.8 5.6-5.3 3.8-5.4 3.5-5.9 2.7-1.8 5.7-1.2 5.9-0.9 5.9-1.1 5.9-6.7 0.6-5.7 3.5-6 2.5-6.7-1.6-6.6-1.7-6.3 4.1-7 2.6-6.3-3.1-7.1-0.3-10 3.4-5.3 4.7-4.7 5.3-3.2-4.9-5-2.6-5.1-2.5-6.8 0.6-6.5-2.3-6.6 1.7-6.8 0-6.7-0.6-6.6 0.6-5-3.4 5-6.6 0.6-5.9 2.2-5.4 2.2-5.4 2.2-5.1 2.8-4.9 2.4-6.7 2.6-6.6-1-5.7 3.2-5.3-0.5-5.7 4.2-6.2 2.4-7.1 4.5-5.5 5.5-4.5 6.1-4.5 7.3-2.2 4-4.9 0.2-6.3z"/>
<path fill="#8a8cbf" d="M2241.0 1753.3l5 3.4 6.6-0.6 6.7 0.6 6.8 0 6.6-1.7 6.5 2.3 6.8-0.6 5.1 2.5 5 2.6 3.2 4.9 5.5 1.6 5.6 0.9 5.6 0.8 7.3 2.1 6 4.6 3.7 6.5 3 6.8 7.1 2.5 6.2 4.2 1 5.7 4.1 4.3 2.9 4.7 2 5.3 3 5.9 7.1 1.8 3.3 5.6-4.8 5.2-5.2 4.8-5.5 1.3-5.3 2.3-5.9-0.3-4.9 3.8-6 1.3-5.8 1.6-2.5 7-4.1 6.3-3 6.4-0.4 7-2.3 5.8-5 3.5-4.3 4-1.6 7.4-0.1 7.6-3.3 0-6.7 0.8-6.7 0.9-6.5-2.1-6.8 0.4-6.9-3.8-6.4-4.5 6.6-6.7-10-3.3 2.5-5 2.5-5-1.6-10-6.9-0.9-6.5-2.5-7.1-2.3-6.2-4.3-5.2-3-4.3-4.5-5.5-2.5-2.9-5.2-1.5-5.6-0.6-5.9-3.4-4.8-4.9-2.7-5-2.5-5-3.3-5-3.4-6.7-6.6 5.1-3.2 5.8-0.9 5.8-0.9 7.3-3.2 6-5.2 6.5-3.6 6.8-3 4.2-5 4.2-5-1.7-10 3.8-6.2z"/>
<path fill="#7b70ae" d="M2309.3 1756.7l10-3.4 7.1 0.3 6.3 3.1 7-2.6 6.3-4.1 6.6 1.7 6.7 1.6 6-2.5 5.7-3.5 6.7-0.6 1.1-5.9 0.9-5.9 1.2-5.9 1.8-5.7 5.9-2.7 5.4-3.5 5.3-3.8 1.8-5.6 5.2-3 3-4.7 5.7-2.2 4.3-4.5 5.8-5.1 5.9-4.9 5.9-0.1 5.8-1.5 7.5 0.7 5.2 6.3 7.3 1.3 0.9 5.6 2 5.4 0.4 5.7 6.5 3.5 6.8 3.1 2.1 7.3 4.6 6.1 4.2 4.7 6.2 2.7 2.9 5.9 5.5 3.4 2.5 6.4 5.4 3.5 0.5 5.6-0.8 5.7 1.9 5.4-1.1 5.5-0.3 5.6-0.2 5.6-3.9 4.6-2.8 5.4-10 3.3-6.7 6.7-6.7-0.6-6.6 1.7-6.7-1.1-6.6 8.3-6.8-4-6.6-4.3-6.6-1.2-6.7-0.5-5.7 0.4-5.7 0.2-5.3 2.7-10 3.4-7.5 0.7-6.6 3-5.9 4.6-5.6 3.2-5.7 3-5.3 3.8-3.3-5.6-7.1-1.8-3-5.9-2-5.3-2.9-4.7-4.1-4.3-1-5.7-6.2-4.2-7.1-2.5-3-6.8-3.7-6.5-6-4.6-7.3-2.1-5.6-0.8-5.6-0.9-5.5-1.6 4.7-5.3z"/>
<path fill="#8a8cbf" d="M2412.7 1643.3l4.4-4.5 3-5.8 5.9-3 5-3.6 5.4-2.7 6.3-0.4 7-1.2 6.2-3.5 6.8-1.9 2.8-6.5 0.4-7.2 3.4-6.3 3.7-4.4 5.4-2 4.3-3.6 6.7-1 6.6 1 4.3 3.5 4.5 3.3 4.5 3.2 4.7 4.2 4.4 4.5 4.3 4.6 4.5 3.6 2.2 5.2 3.3 4.5 4.5 3.2 3.7 4.3 5.1 2.5 4.6 3.4 6.4 0.1 3.2 6 5.9 1 4.9 2.9-1.3 5.8-0.6 5.7 0.9 5.8 1.6 5.8 0.7 5.8-0.2 5.7-1 5.8 0.3 5.8-2.5 5.8 0.4 5.7 2.1 5.8-2.2 5.8 3.4 5.8-2.5 5.7 0.9 5.8-7.2 1.2-7.2 1.7-7.3 0.5-6.7 1.4-4 5.8-5.9 2.8-7.3 0.2-5.4 6-7.3 0.4-5.4-3.5-2.5-6.4-5.5-3.4-2.9-5.9-6.2-2.7-4.2-4.7-4.6-6.1-2.1-7.3-6.8-3.1-6.5-3.5-0.4-5.7-2-5.4-0.9-5.6-7.3-1.3-5.2-6.3-7.5-0.7-5.8 1.5-5.9 0.1-5.9 4.9-5.8 5.1 0.1-7.1 3.3-6.2-3.8-6.1-1.1-7.1-1.8-6.8-1.4-5.5-1.5-5.5z"/>
<path fill="#735c9f" d="M2512.7 1753.3l7.3-0.4 5.4-6 7.3-0.2 5.9-2.8 4-5.8 6.7-1.4 7.3-0.5 7.2-1.7 7.2-1.2-1.2 5.5 1.7 5.5-0.1 5.5 1.1 5.5-1.4 5.5 1.7 5.5-0.4 5.5-0.1 5.5-1.5 5.5 2.4 5.5-1.7 5.5-0.6 5.5-1.2 5.5 2.4 5.5-2.8 5.5 0.4 5.5 1.9 5.5-0.8 5.5 0.6 5.5-0.4 5.5-6.5 1.3-5.8-4.4-6.5 0.7-6.2-0.9-3.1-5.8-7.2-1.6-3-5.9-6.7-6.7-4-4-4.1-3.6-5.2-2.4-5.2-4-4.8-4.3 3.3-5 2.8-5.4 3.9-4.6 0.2-5.6 0.3-5.6 1.1-5.5-1.9-5.4 0.8-5.7z"/>
<path fill="#6e367a" d="M2419.3 1808.3l5.3-2.7 5.7-0.2 5.7-0.4 6.7 0.5 6.6 1.2 6.6 4.3 6.8 4 6.6-8.3 6.7 1.1 6.6-1.7 6.7 0.6 6.7-6.7 6.7 1.7 4.8 4.3 5.2 4 5.2 2.4 4.1 3.6 4 4 6.7 6.7 3 5.9 7.2 1.6 3.1 5.8 6.2 0.9 6.5-0.7 5.8 4.4 6.5-1.3 0.9 5.6-2.7 5.5 0.5 5.6 1.4 5.5 1.7 5.6-2.5 5.5 1.9 5.6-2 5.5 0.8 5.6-5.5 3.1-6.5 0.8-4.4 5.4-6.7 0.4-5.2 3.7-4.8 2.9-4.4 3.5-4.2 3.6-3.6 5.2-4.8 4.1-4.9 4-4.3 4.5-4.4 4.6-4.6 4.2-6.7 0.8-6.5 2.5-6.8 0.1-5.6-0.2-5.7 0.9-5.4-2.4-10 3.3-2-8.1-4.7-6.9 4.7-3.1 3.8-4.2 4.9-2.7 2.9-6.8 3.7-6.5-4.3-3.5-5.5-2-3.5-4.5-3.6-5 1.1-6.9-4.2-4.8-3.7-5.3-1.7-6.5-4.6-4.8-10-3.4-1-6.7-2.8-6.4 0.5-6.9-0.4-5.7-3.5-5 0.6-5.9-0.5-6.2-3.1-5.8z"/>
<path fill="#735c9f" d="M2511.0 1856.7l7.8-1.5 7.2-3.5 4.4 4.8 3.9 5.2 2.6 5.7 2.4 5.9-1.2 6.3-4.5 4.7-2.6 5.7-7.7 0.7-7.3-2.4-2.3-6.4-4.4-5.2-1.5-6.8 1.2-6.7z"/>
<path fill="#7b70ae" d="M2372.7 1830.0l5.3-3.8 5.7-3 5.6-3.2 5.9-4.6 6.6-3 7.5-0.7 10-3.4-0.2 6.4 3.1 5.8 0.5 6.2-0.6 5.9 3.5 5 0.4 5.7-0.5 6.9 2.8 6.4 1 6.7 10 3.4 4.6 4.8 1.7 6.5 3.7 5.3 4.2 4.8-1.1 6.9 3.6 5 3.5 4.5 5.5 2 4.3 3.5-3.7 6.5-2.9 6.8-4.9 2.7-3.8 4.2-4.7 3.1 4.7 6.9 2 8.1-6.6 1.2-6.7 0.5-6.1 4.1-7.3 0.9-6.7-0.8-6.6-1.7-6.7-0.8-6.7-2.2-6.6 3-6.7-0.8-5.1 3-5.8 0.9-5.7 1.1-6.8 0.1-6.6 1.5-5-8.3 2.3-5.7 4.4-4.3-8.3-5-6.2-3.9-7.2-1.1-6.6 0-0.1-5.8-2.2-5.3-1.1-5.6 4-5.3 6-3-6.5-3-6.8-2-10-1.7-4.7 3.8-5.3 2.9 0.1-7.6 1.6-7.4 4.3-4 5-3.5 2.3-5.8 0.4-7 3-6.4 4.1-6.3 2.5-7 5.8-1.6 6-1.3 4.9-3.8 5.9 0.3 5.3-2.3 5.5-1.3 5.2-4.8z"/>
<path fill="#7b70ae" d="M2339.3 1930.0l7.2 1.1 6.2 3.9 8.3 5-4.4 4.3-2.3 5.7 5 8.3 6.6-1.5 6.8-0.1 5.7-1.1 5.8-0.9 5.1-3 6.7 0.8 6.6-3 6.7 2.2 6.7 0.8 6.6 1.7 6.7 0.8 7.3-0.9 6.1-4.1 6.7-0.5 6.6-1.2 10-3.3 5.4 2.4 5.7-0.9 5.6 0.2 6.8-0.1 6.5-2.5 6.7-0.8 4.6-4.2 4.4-4.6 4.3-4.5 4.9-4 4.8-4.1 3.6-5.2 4.2-3.6 4.4-3.5 4.8-2.9 5.2-3.7 6.7-0.4 4.4-5.4 6.5-0.8 5.5-3.1 0 219.4-5.4 2.3-6.2-1-5 4.2-6.3-1.1-5.4 2.2-7 1.6-6.4 3.4-6.7-0.4-6.6-1.2-6.7-2.3-6.6-2.7-6.8 0-6.6 1.6-3.3-5-5-3.3-5.7 2.9-6 2.1-6.5 2.3-6.8 1-5.4 3.6-4.9 4.5-6.4 1.9-6.7 0.5-6.6-0.5-5.1 3.4-5.6 2.2-6 1.1-7.2 2.9-7.8 0.4-2.1-6.5 0.9-6.8-0.4-6.7-4.5-6.1-2.2-7.2-4.8-5.2-5.2-4.8-5.6-1.2-3.8-5-5.8-0.8-4.8-3-4.2-4.6-5.3-2.9-5.5-2.5 8.3-3.3 6.7-6.7-6.7-6.7-1.5-6.7-1.8-6.6 3.3-10 5.1-3.2 4.9-3.5 3.5-5.6 4.9-4.4 2-6.6 1.3-6.7-8.3-6.7-4.3-3.5-5.3-2.3-3.8-4.2-4.7-2.9-5.3-2.3-3.3-4.8-2.1-7.3-4.6-6 1.8-5.6-2.9-5.5 1.1-5.6 1.6-6.3 0.7-6.6 1.1-6.4z"/>
<path fill="#e0e9f3" d="M2241.0 2287.7l8.3 6.6 6.7-6.6 6.7-8.4-2.4-5-2.6-5 5-6.6 3.3-4.8 4.8-2.8 5.2-2.4-0.7-5.9 2.3-5.4 1.7-5.4 2.9-5.3 3.8-4.7 3.6-4.8 3.1-5.2-3-4.8-2-5.2-1.7-10 6.4-2.5 6.9-0.8 6.3-3.1 6.9 0.1 6.8-0.4 7.2-2.3 6.2-4.3 3.2-5.7 6.2-2.7 3.9-5 5-3.5 6.2 0.3 5.5-1.8 4.9-3.6 6.3 0.8 5.4-2.2 3.4-10 6.5-4.2 5.1-5.8 7.8-0.4 7.2-2.9 6-1.1 5.6-2.2 5.1-3.4 6.6 0.5 6.7-0.5 6.4-1.9 4.9-4.5 5.4-3.6 6.8-1 6.5-2.3 6-2.1 5.7-2.9 5 3.3 3.3 5 6.6-1.6 6.8 0 6.6 2.7 6.7 2.3 6.6 1.2 6.7 0.4 6.4-3.4 7-1.6 5.4-2.2 6.3 1.1 5-4.2 6.2 1 5.4-2.3 0 447.3-355 0 0-244 2.9-5.8 5.1-3.9 6-3.1 2.7-6.1 2.7-6z"/>
<path fill="#8a8cbf" d="M1833.3 1890.0l6 4.7 7.4 2 6.6-3.5 6.7-3.2 4.8 4.1 7.1-1.5 4.8 4.1 5.3-2.2 3.4-4.7 4.6-3.1 7.1 1.2 6.2 3.8 6.1-3.9 7-0.5 6.9-0.6 2.1-7.3 4.6-6.1-3.3-10 2.9-6 5.5-3.3 4.9-4 1.8-6.5 0.2-6.9 1.3-6.6 5-5 5-5 6.7-1.5 5.3-3.8 4.7-4.7 2.3-5.7 4.4-4.3 2.6 0 6 1.1 4.7 4.3 6 1.3 7.3 1.9 6 4.7 5 2.6 3.6 4.5 4.8 2.9 2.3 5.2 5.9 2.6 1.8 5.6 5 3.5 6.6-0.4 5 3.5 6.2 3.4 7.4-1 6.4 2.6 6.7-0.4 6.6-1.4 6.7 0.2 3.7-4.4 6.2-1 3.5-4.6 6.1-3.9 7.2-1.1 0.8 7.7 2.5 7.3 4.4 6.5 4 6.8-1.7 10 4.5 5.5 5.5 4.5 6.7 0.8 6.6 0.9 1.7 3.3-7.7 0.6-7.3 2.7-1.5 5.9-1.8 5.8 1.6 8.3-11.6 181 5.8 4.2 4.2 5.8-2.5 5.4-3.5 4.6-4.2 3.9-5.1 3.1-4.2 3.9-3.2 4.8-5.3-2.2-5.7-1.5-4.7-3.2-3.4-5.5-6.3-0.4-5-2.8-4.7-3.2-5.4-2-3.5-5.3-5.2-2.4-5-2.8-5.5-1.7-4.9-3-4.8-3-5-2.7-5.8-1.3-4.1-4.2-6.2-0.6-3.9-4.7-4.7-3.3-6-0.9-4.8-3-4.5-3.7-5.6-1.6-3.4-4.9-5.2-2.7-5.1-2.6-3.2-5.2-4.6-3.3-6.2-1.4-5.1-2.7-3.3-5.1-3.6-4.6-4.2-3.9-5.1-2.7-4.4-3.7-4.8-3-4.6-3.4-5.1-2.8-5.1-2.7-3.4-5-4.2-3.9-3.8-4.3-5.6-2.1-5.4-2.3-3.1-5.6-6.3-1-4.3-3.8-3.8-4.6-5.2-2.6-3.7-4.6-5.7-1.9-3.6-4.8-6.5-0.8-3.4-5.1-5.2-2.6-5.4-2.3-2.6-6.3-5.8-1.7-0.8-5.6 1.3-5.8-1.7-5.5-2.1-5.5-1.2-5.5 3.2-6-1.4-5.5-1.3-5.6z"/>
<path fill="#722b60" d="M1954.3 1916.7l-0.2-6.8 1.9-6.6 10-1.6 5.8 5.1 4.2 6.5 10 3.4-0.4-5.9 1.5-5.5 2.2-5.3 6.8-0.4 6.6-1.3 6.5-2.9 6.8-2.1 6.8 1.1 6.5 2.3 6.8-0.1 6.6 1.7 6.5 2.3 6.8 1.1 6.3-3.2 7-0.2 6.7-0.7 6.7-0.9 6.9 0.5 6.4 2.8 6.8 0.6 6.5-2.3 4.6 4 5.4 2.7 7.5 1.8 7.5 1.5 5.5 1.5 5.9-0.6 5.3 2.5-0.2 6.5-1.2 6.2-3.6 5.6-0.1 5.8-1.1 5.5-2.1 5.4 3.4 4.9 3.2 5.1 5 4.3 6.8 1.3 4.9 4.4 6.7 5-7.1 3.7-7.9 1.3 4.2 6.2 2.4 7.1 5.1 4.3 3.3 5.7-1.7 10-5.9 2.3-5.8 2.7-10-1.7-6.6 3.4 3.3 10-6.1 0.9-4.9 3.9-5.7 1.8-0.1 6.7 0.1 6.7-4.7 4.6-2.7 5.5-0.9 6.5 3.7 6.2 1.3 7.2-2.5 6.4-0.8 6.9-5.3-2.8-5.5-2.4-5.9-1.5-4.8-4.5-5.8-3.1-6.1-2.4-5.8-3.1-2.1-6.8-5.4-3.4-5-3.8-3-5.9-5.3-3.6-5.8-4.5-3.1-6.7-4.5-5.5-6.1-2.9-5.1-4.1-3.8-5.5-5-4.2-6.7-2.9-4.3-6.1-5.6-4.3-4.6-5.6-5.9-4.1-6.2-3.6-4.2-4.7-4.4-4.5-4.7-4.2-1.2-5.7-1.2-5.6-2.6-5.3-1.9-6-2.4-5.8-4.1-4.9-4.1-5.9-5.9-4.1-1.7-6.9z"/>
<path fill="#6c4b8d" d="M2116.0 1831.7l6.8-3.1 6.5-3.6 5.4-3.6 5.1-4.1 6.2-2.3 6.1-4.4 7.2-2.3 5.7 0.5 5.3-3.3 5.7 1.2 10 0 6.7 6.6 5 3.4 5 3.3 5 2.5 4.9 2.7 3.4 4.8 0.6 5.9 1.5 5.6 2.9 5.2 5.5 2.5 4.3 4.5 5.2 3 6.2 4.3 7.1 2.3 6.5 2.5 6.9 0.9 1.6 10-2.5 5-2.5 5 10 3.3-6.6 6.7 6.4 4.5 6.9 3.8 6.8-0.4 6.5 2.1 6.7-0.9 6.7-0.8 3.3 8.3 4.8-4.1 1.7-6 3.5-4.9 10 1.7 6.8 2 6.5 3-6 3-4 5.3 1.1 5.6 2.2 5.3 0.1 5.8-1.1 6.4-0.7 6.6-1.6 6.3-1.1 5.6 2.9 5.5-1.8 5.6 4.6 6 2.1 7.3 3.3 4.8 5.3 2.3 4.7 2.9 3.8 4.2 5.3 2.3 4.3 3.5 8.3 6.7-1.3 6.7-2 6.6-4.9 4.4-3.5 5.6-4.9 3.5-5.1 3.2-3.3 10 1.8 6.6 1.5 6.7 6.7 6.7-6.7 6.7-8.3 3.3-5.5 2.8-6.2 0.5-7 0.5-6.3 2.9-7.1 2.4-6.2 4.2-7.1 1.5-6.3 3.5-3.3 8.4-4.9-2.8-5.1-2.2-5.6 3.8-5.6 3.8-5.5 4-4.1 6.3-2.5 7.1-3.1-6.3-0.3-7.1-2.9-6.1-3.7-5.5-6.4-3.2-7-1.8-3-5.2-3.6-4.8-10-3.4-1.7-10 8.3-6.6 4-5.5 2.7-6.2-5.9-0.4-3.7-5.2-5.6-1-4.8-2.7-5.7-2-5.8-1.6-5.2-3.1-6.6-2.4-3.2-7.1-6.8-2.2-6.1-5.1-7.3-3.2 5.8-2.7 5.9-2.3 1.7-10-3.3-5.7-5.1-4.3-2.4-7.1-4.2-6.2 7.9-1.3 7.1-3.7-6.7-5-4.9-4.4-6.8-1.3-5-4.3-3.2-5.1-3.4-4.9 2.1-5.4 1.1-5.5 0.1-5.8 3.6-5.6 1.2-6.2 0.2-6.5-5.3-2.5-5.9 0.6-5.5-1.5-1.6-8.3 1.8-5.8 1.5-5.9 7.3-2.7 7.7-0.6-1.7-3.3-6.6-0.9-6.7-0.8-5.5-4.5-4.5-5.5 1.7-10-4-6.8-4.4-6.5-2.5-7.3z"/>
<path class="l" d="M2226.0 2051.0l5.7-3.3 4.3-5 1.8-5.4-2.6-5.9 2.5-5.4 6.6-2 5-4.7 7.2 3.4 6.2 5 7.2 3.3 6.1 5 2.4 5.2 4.3 3.7 3.3 4.4 6.3 3 7 0.4 10 3.3-2.2 6.5-1.1 6.8-1.9 7.4-4.8 6 3.4 6.6"/>
<path fill="#722b60" d="M2122.7 2089.3l2.6-6.4 0.7-6.9-1.4-7.1-3.6-6.2 1.1-6.4 4.3-4.8 2.9-5.5-1.1-6.6 1.1-6.7 6.3-0.4 4.1-5.8 6.3-0.5-3.3-10 6.6-5 10 1.7 5.6 1.8 2.6 5.9 5.2 2.3 6.5 2.5 4.9 4.8 5.2 4.3 5.7 1.9 5.7 2 5.3 2.8 4.3 3.9 5.1 2.2 4.9 2.7 5.7 1.2-2.7 6.2-4 5.5-8.3 6.6 1.7 10-4.5 3.4-5.5 1.6-3.3-5-3.4-5-6.7 8.4-4.6 6-2 7.3-1.8 7.5-4.9 5.8 2.2 6.1-1.3 6.7 2.3 6.1 1.8 6.1-4.5 3.8-3.8 4.6-3.7-4.7-6.8-0.5-2.5-6.4-4.9-3.1-5.6-2.2-5.4-2.4-4.9-3-4.4-3.8-3.1-5.6-6.2-1.2-4-4.5-5.2-2.6 2.3-7.2z"/>
<path fill="#7b70ae" d="M2181.0 2134.3l-1.8-6.1-2.3-6.1 1.3-6.7-2.2-6.1 4.9-5.8 1.8-7.5 2-7.3 4.6-6 6.7-8.4 3.4 5 3.3 5 5.5-1.6 4.5-3.4 10 3.4 3.6 4.8 3 5.2 7 1.8 6.4 3.2 3.7 5.5 2.9 6.1 0.3 7.1 3.1 6.3-3.4 6.6 0.2 6.8 1.5 6.6 0.1 6.8-1.8 6.5 2.1 5.6 2.3 5.6 2.3 5.5 4.4 5.6 5.6 4.4 4.6 5.1 2.1 6.5 6.7 0.2 6.6 1.5 1.7 10 2 5.2 3 4.8-3.1 5.2-3.6 4.8-3.8 4.7-2.9 5.3-1.7 5.4-2.3 5.4 0.7 5.9-5.2 2.4-4.8 2.8-3.3 4.8-5 6.6 2.6 5 2.4 5-6.7 8.4-6.7 6.6-8.3-6.6-5.9-3.1-6.4-0.3-6-2.6-6.7 1-5-3.4-2.2-5.8-2.8-5.2-5.1-3.3-1.3-6.4-6.2-2.5-1.5-6.3-3.4-4.8-6.4-2.2-4.2-4.2-1.9-5.9 0.7-5.6 1-5.5-2-5.6-1.9-5.5 0.6-5.6 1.8-5.6-2.4-5.5 2.3-5.6 0.7-5.5-0.2-5.6-2.7-5.6 0.3-5.5 2.3-5.6-1.7-5.5 1.2-5.6 3.4-7.2z"/>
<path fill="#6d4283" d="M2259.3 2109.3l5.5-4 5.6-3.8 5.6-3.8 5.1 2.2 4.9 2.8 3.3-8.4 6.3-3.5 7.1-1.5 6.2-4.2 7.1-2.4 6.3-2.9 7-0.5 6.2-0.5 5.5-2.8 5.5 2.5 5.3 2.9 4.2 4.6 4.8 3 5.8 0.8 3.8 5 5.6 1.2 5.2 4.8 4.8 5.2 2.2 7.2 4.5 6.1 0.4 6.7-0.9 6.8 2.1 6.5-5.1 5.8-6.5 4.2-3.4 10-5.4 2.2-6.3-0.8-4.9 3.6-5.5 1.8-6.2-0.3-5 3.5-3.9 5-6.2 2.7-3.2 5.7-6.2 4.3-7.2 2.3-6.8 0.4-6.9-0.1-6.3 3.1-6.9 0.8-6.4 2.5-6.6-1.5-6.7-0.2-2.1-6.5-4.6-5.1-5.6-4.4-4.4-5.6-2.3-5.5-2.3-5.6-2.1-5.6 1.8-6.5-0.1-6.8-1.5-6.6-0.2-6.8 3.4-6.6 2.5-7.1z"/>
<path fill="#cfdbe8" d="M1785.0 1350.0l6.7-8.3 8.3-3.4 3.6 4.7 4.7 3.7 6.7 6.6-1.7 8.4-6.5-2-6.8 0.3-6.6-1.6-6.7-0.1z"/>
<path fill="#a1aed2" d="M1808.3 1535.0l6.8-2.8 5-5.8 6.6-3.1 5.7-1 3.9-4.8 4.7-3.1 5.7-1.1 4.6-4.9 5.8-2.9 6.2-2.2 5.4-3.7 5.2-3.9 6.1-2.4 5.1 3.2 4.9 3.5 0.8 6.9 2.5 6.4 10 3.4 1.1 5.5-1.3 5.7 1.9 5.4 3.6 6.6 3.1 6.8-4.4 5.1-5.8 3.5-4.8 4.7 1.6 6.7-6.3 0-5.8 2.9-6.2 0.4-6.7 6.7-6.7 0.5-6.6 1.1-6.7-1.6-6.3-0.8-6.2 2-6.2 0.5-6.3-0.1-1.6-7.4 0-7.6 1.8-5.4 0.8-5.6 0.7-5.6-6.9-1.7-6.4-3.3z"/>
<path fill="#7b70ae" d="M1848.3 1533.3l8.4-5 5.7 1.7 5.9 0 3.4 6.7-8.4 5-8.3 3.3-5-5z"/>
<path fill="#a1aed2" d="M1885.0 1570.0l6.6-1.7 6.7-1.6-1.6-6.7 6.2-1.6 2.9-6.5 5.9-1.9 5.7 3.3 6.1 2.3 6.5 1.1 5.3 2.8 5.9 1.4 5.5 2.4 6.2 0.4 5.4 3-2.2 5.4 0.4 6.1-3.2 5.1-1.2 5.5-0.3 5.6-0.1 5.6-5.7 3.6-6 3.1-4.2 3.7-5.8 1.4-3.3 4.9-6.7-3.4-3.1-6.8-3.6-6.5-6.2-4.3-7.1-2.4-5.8-2.1-4.2-4.5-2.4-5.3-1.3-5.7z"/>
<path fill="#7b70ae" d="M1993.3 1520.0l6.7-6.7 7.5-2.8 5.8-5.5 5 1.7-3.4 4.5-1.6 5.5 4.1 3.9 5.2 2.2 4.1 3.9 6.5-1.7 6.8 0 6.8 2.1 6.5 2.9 5.3 2.2 3.7 4.3 4.4 3.5 4.5 5.6 5.1 5 3.7 6.1-5.3 2.9-3.7 5.3-4.8 3.6-6.2 1.5-6.7-6.7-6.7-3.2-6.6-3.4-6-4.6-7.3-2.1-4.9-4-5.8-1.5-6-1.2-6.4-2.7-6.9-0.6-1.7-10z"/>
<path fill="#7b70ae" d="M1781.7 1688.3l5-5.6 7.2-2.2 6.1-3.8 3.9-5 5.9-2 5.2-3 1.6-5.7 0.1-6 5.2-3 5.9 1 5.5-1.3 1.1-7.2 3.9-6.2 4.2 3.6 2.8 5 4.7 3.1 6.5-1.7 6.8 0 10-3.3 7.6 2.3 7.4 2.7 1.9 7.4 4.8 5.9-1.7 8.4-5.4 2.5-6.2 0.5-5 3.6-3.4 8.4 5 5.4 6.7 2.9 0.7 7.5-0.7 7.5-4.6 4.5-6.5 1.9-3.9 5.3-10 3.3-4.9-5.1-5.1-4.9-6.5 2.4-6.8 0.9-0.9 7.7-2.5 7.3-6.6 3.4-3.3-4.6-1.7-5.4 1.9-5.7-0.3-6-8.3-3.3-3.9-5.5-2.8-6.2-7.8-0.4-7.2-2.9-6-3.9z"/>
<path fill="#8a8cbf" d="M1956.7 1670.0l5-3.3 5-3.4 8.3 5 1.7 8.4-6.9-0.8-6.5 2.4z"/>
<path fill="#7b70ae" d="M1568.3 1808.3l5.3-6.4 6.4-5.2 6.2-0.8 4.3-5.3 6.2-0.6 5-3.4 6.4 1.1 5.2-2.7 0.6-6.2 2.8-5.5 6.7 0.1 6.6 1.6 3.7 7 6.3 4.7 6.7 0.2 6.6 1.4 3.1-5.1 3.6-4.9 5 5-1.3 5.7 0.6 5.7-0.1 5.6-1 5.7 1.8 5.7-5.8-1-5.9-0.7-2.4 5.6-4.2 4.4-0.4 7.6 2 7.4-5 1.7-4.4-4.2-2.2-5.8-7 1.7-6.4 3.3-5.1-2.4-4.9-2.6-3.3-8.4-10 1.7-1.6 5.5-0.2 5.6 0.1 5.6-5 5-3.3-8.4 1.1-5.5 0.2-5.5 0.4-5.6-8.4-6.7-7.5-0.8z"/>
<path fill="#6c4b8d" d="M1423.3 1836.7l5-6.7 6.7-1.7 3.3-5 5 5-1.6 5-8.4 4-6.6 1z"/>
<path fill="#c0fbe3" d="M1468.3 1863.3l6 0.4 5.7-2 6.7-1.6 6.6-1.8 5.9 0.5 5.4-1.8 5.4-2 7.7-0.7 7.3 2.4 1.4 5.5 1.9 5.4 0 5.7-1.6 8.4-7.1 1.3-6.3 3.7-5.5 0.8-5.6-1.5-5.5 0.7-5.3 1.9-4.7 3.1-8.4-5-3.3-5-3.3-5-0.4-7z"/>
<path fill="#c0fbe3" d="M1476.7 1753.3l1.9-6.9 3.1-6.4 8.3-3.3 5 2.5 5 2.5 4.8 2.9 5.2 2.1 1.7 5-5.7 1.6-6 0-10 3.4-6.7 5z"/>
<path fill="#722b60" d="M1446.2 1530.0l5 0 2.4 6.7 0.2 7.1 2.9 6.3 3.3 6.1 7.5 2.6-1.3 5.6-1.2 5.6-2.3 6.7-3.9 5.8-6.3-2.5-6.3 4.5-7.4-3.3-6.3-6.2 2.5-10-3.2-4.6-1.8-5.4 0.8-5.7 1.7-5.5 7.5-7.6z"/>
<path fill="#6c4b8d" d="M1360.0 1455.0l5-6.2 7.5-3.8 0.8-6.2-1.8-6.5 2.3-6.1 8.7-1.2 7.5 1.2 6.2 1.3 7.6-1.3 0.1 5.9 2.3 5.4 5 2.5 1.3 7.5-7.5 5-5 5-10 2.5-6.2 1.2-6.3 0-10-3.7z"/>
<path fill="#edf3f7" d="M1599.3 1750.0l7.4-5 8.3 1.7 3.3 8.3-5 6.7-10 0-5-5z"/>
<path fill="#c0fbe3" d="M1605.0 1750.7l5.7-2.4 3.3 5-2.3 5.4-5.7-0.7z"/>
<path fill="#c0fbe3" d="M1550.0 1780.0l8.3-1.7 2.4 8.4-3.4 6-5.6-2.7z"/>
<path fill="#8a8cbf" d="M1935.0 76.7l1.3 5.9 4.3 4.7 1.1 6-3.1 5 2 6.2-1.4 5.4-2.5 5.1-5.8 3-5.2 4.2-7.3 0.1-5.1 4.4-5.2-2.9-6.1 1.6-5.1-3.1-6.1 1.4-5.6-0.7-5.2-3 1.8 6-2 6.3-0.1 6.1 3.1 6-2.8 6.3 1.7 6-7.8 0.5-7.2 2.8-6.7 2.1-6.3 3.3-7 1.3-1.5 6.7-2.6 6.4-0.9 6.9-3 4.8-2 5.2-6.7 3.3 3.7 5 1.7 5.7 1.3 6 0.6 5.5 0.5 5.6-1.1 5.5-1.3 5.6-5.7 3.4-0.6 5.9-2.4 5.1-3.3 5.1-0.9 5.8-0.8 5.8-2.7 7.6-5.7 5.7 1.7 6.7 5.4 4.5 6 3.6 6.9 1.9 5.7 2.9 5.3 3.7 7.3-0.9 5.1 4.3 6.1 1.8 5.6 3 5.5 3.3 6.1 1.9 6.3 0.7 4 5.4 6.6 0 5.4 2.6 4.4 4.6 6.2 1.6 4.2 4.6 3.6 5.4 6 1.8 3.5 5.1 7.2 0.5 4.2 4.3 2.6 6.2 5.8 2.2 2.4-5.3 3-4.7 4.5-3.8 3.4-4.5 6.1 1 5.8 2.1 5.9 1.9 6 1.3 6.2 0.3 6.7 1 6.8 0.7 6.6 1.6 6.6 1.7 7.2 3.4 6.1 5 1.1-5.8 5.5-3.2 2.8-4.8 3.5-4.4 2.3-5.1 0.6-6.1 4.2-4 4-5.5 3.5-5.7 4.2-5.3 1.7-6.8 5.3-3.7 7.1 1.7 5.5-2.9 5.9-2.1 5.5-3 0-8.3-3.9-5.5-1.9-6.3-0.9-6.6-4.3-5.6-3.7-6.2-5.3-4.8-3.3-10 1.6-6.7 1.7-6.7 0.5-6.7-0.5-6.6-3.5-5.5-4.5-4.8-2-6.4-4.5-4.7-3.8-5.3-0.5-5.9 1.8-5.3 2-5.4-10-3.4 1.6-6.1-2.2-5.9-1.9-5.9 0.6-6.1 0.2-6-3.4-7.1-4.9-6.2-2.5-5.1-3.3-4.4-4.2-3.8-4.3-4.3-5.6-2.6-5.1-3.1-6.5-2.1-7.2 1.8-6.3-3.1-5.1-4.6-7.1-1.1-4.5-5.6-6.6-2-5.2-3.9-6.7-1.5-4.8-4.6-6.7-6.7-6.9 2.9z"/>
<path fill="#7b70ae" d="M1786.7 306.7l5.3-1.9 5.4-1.6 5-3 5.9-0.2 6.7-8.3 0-1.7 5.4 4.5 6 3.6 6.9 1.9 5.7 2.9 5.3 3.7 7.3-0.9 5.1 4.3 6.1 1.8 5.6 3 5.5 3.3 6.1 1.9 6.3 0.7 4 5.4 6.6 0 5.4 2.6 4.4 4.6 6.2 1.6 4.2 4.6 3.6 5.4 6 1.8 3.5 5.1 7.2 0.5 4.2 4.3 2.6 6.2 5.8 2.2 2.4-5.3 3-4.7 4.5-3.8 3.4-4.5 6.1 1 5.8 2.1 5.9 1.9 6 1.3 6.2 0.3 6.7 1 6.8 0.7 6.6 1.6 6.6 1.7 7.2 3.4 6.1 5-0.5 5.7 0.3 5.6 4.6 5.1-2.5 6 2.2 5.3-1.9 5.9 4.6 5.1-1.1 5.8 1 5.5-2.5 4.9-0.6 5.8-4.1 4.2-1.6 5.3-4.4 4.1-1.6 5.3-2.6 4.9-2.1 5.1 0.4 6.3-4.2 4.1-2.9 5.4-6 2.3-2.3 6.1-4 4.3-7.1 1.3-4.2 4.1-2.4 6-4.5 3.8-6.5-1.7-4.3-5.4-5.8-2.9-4-4.9-5.8-3.1-3.6-5.3-5.1-3.1-3.8-4.7-4.4-3.9-6.8-3.9-6.5-4.4-5.2 3.1-6.4 0.1-5.1 3.4-5.6 0.9-5.2 3.2-5.9-0.7-5.6-2.1-6.4 2.7-5.6-2.5-5.7-1.5-4.4-3.4-4.1-3.8-4.8-2.8-4.9-2.8-4.6-3.1-3.9-4.1-3.5-6.3-4-5.8-5.8-4.5-5.3-3.6-4-4.9-4-4.9-5.7-4.3-4.4-5.9-6.6-3.1-5.5-3.4-3.5-5.1-4.7-4.2-3-5.6 1.1-5.5 2.4-5.1-1.1-6 2.6-5.1 0.6-6.7-2.4-6.7 1.6-6.6 0.2-6.7-0.2-6.7-2.7-6.5 0.4-6.7z"/>
<path fill="#a1aed2" d="M1783.3 381.7l3 5.6 4.7 4.2 3.5 5.1 5.5 3.4 6.6 3.1 4.4 5.9 5.7 4.3 4 4.9 4 4.9 5.3 3.6 5.8 4.5 4 5.8 3.5 6.3 3.9 4.1 4.6 3.1 4.9 2.8 4.8 2.8 4.1 3.8 4.4 3.4-0.3 5.7-0.5 5.7-2.5 5.3-6.7 6.7 3.4 5.4 4.8 4.1 5.1 3.8 2.6 5.1 1.6 5.5 3.4 4.8 0.8 5.8 1.6 5.5-5.3 4.7-6.6 3.2-4.7 5.4-4.8 4.5-4.7 4.5-3 6-4.2 5-4.8 4.7-5.3 3.7-6.6 1.6-6.5 2.1-6.6 1.6-6.9-0.4 0.6 6.7-0.6 6.7 4.8 4.7 5.3 3.7 6.6 1.6 4.8 5.9 1.9 7.4-4.4 3.6-3.6 4.3-2 5.4-7.5 1.8-5.9 4.9-6.6 3.3-1.1 7.5-0.6 7.5-7.6 0-7.4-1.6-5-3.7-5.6-2-6.1-1-4.5-3.7-1.6-5.8-2.5-5.2-4.7-3.6-6.5-2.6-4.5-5.4-5.7-3.7-6.1-3.8-7.6 0.4-6.3-3.3-3.3-6.6-4-4.6-2.7-5.4-1.1-6.8 3.9-6.4-1.1-6.8 0.7-6.8-1.6-6.6-0.8-6.6 0.6-7-0.9-6.6-3-6.4 4.6-6.1 2.1-7.3 0.7-6.8-2.4-6.5 3.7-4.2 1.9-5.5 4.4-3.6 3.9-5 3.2-5.3 1.2-6.4 7.4-1.9 6-4.8 6.7-0.2 6.6 1.6 6.6 0.6 6.7-2 2.7-7 4-6.3-2.2-5.9 0.1-6.2 0.4-6.2-5-5.3-6.6-3.1 0.6-6.6 4.6-5 4-5.2 0.8-6.5 3.6-5.6-0.5-7.1z"/>
<path fill="#735c9f" d="M1870.0 463.3l5.7 1.5 5.6 2.5 6.4-2.7 5.6 2.1 5.9 0.7 5.2-3.2 5.6-0.9 5.1-3.4 6.4-0.1 5.2-3.1 6.5 4.4 6.8 3.9 4.4 3.9 3.8 4.7 5.1 3.1 3.6 5.3 5.8 3.1 4 4.9 5.1 2.3 5.1 2.2 5.5 1.6 4.3 3.9-2 5.1-2.1 5.1-1.1 5.6-2.8 4.8-2.6 4.9-1.5 5.4-0.3 5.8-2.3 5-4.1 4.3-3.1 4.8-2.1 5.1-2.7 4.9 0 5.9-2.3 6-4.7 4-4.6 4.1-2.6 5.8-5 3.8-4.3 4.3-3.2 5.3-6.6-2.5-6.7-2.2-6.7-2-7.1 0.8-6.2 3.8-6.7 2.1-6.5-2.2-6.9 1.6-6.3-3.6-6.9 0.9-6.9 0.2-6.2-4-6.8-0.8-6.8-0.4-6.7 8.3-3.3-3.3-6.6-1.6-5.3-3.7-4.8-4.7 0.6-6.7-0.6-6.7 6.9 0.4 6.6-1.6 6.5-2.1 6.6-1.6 5.3-3.7 4.8-4.7 4.2-5 3-6 4.7-4.5 4.8-4.5 4.7-5.4 6.6-3.2 5.3-4.7-1.6-5.5-0.8-5.8-3.4-4.8-1.6-5.5-2.6-5.1-5.1-3.8-4.8-4.1-3.4-5.4 6.7-6.7 2.5-5.3 0.5-5.7z"/>
<path fill="#735c9f" d="M1805.0 648.3l0.6-7.5 1.1-7.5 6-3 4-5.3 6.5-3.2 5.1-5.1 2.6-5.3 2.2-5.4 0.2-6 6.7-8.3 6.8 0.4 6.8 0.8 6.2 4 6.9-0.2 6.9-0.9 6.3 3.6 6.9-1.6 6.5 2.2 6.7-2.1 6.2-3.8 7.1-0.8 6.7-0.3 6.6-1.6 6.7 1.9 1.6 5.6-3.6 5.5 4.3 5.6-4 5.5 3.6 5.6-2.2 5.5 2.5 5.6-1.2 5.6-3 5.5 2.1 5.6 0.2 5.5-2.3 5.6-0.1 5.5 1.8 5.6-0.2 5.6 1.9 5.5-1.1 5.6-1.6 5.5 0.6 5.6 1.1 5.5-0.4 5.6-5.5 1.5-5.6-2.4-5.5 0.9 0.2 5.8 1.2 5.8 0 5.9-1.4 5.8-6 3-5.3 3.8-4.9 4.3-3.8 5.6-3.4-4.9-3.3-5.1-3.2-5.6-3.9-5.3-2.9-5.8-2.9-5.3-0.3-6.3-3.5-5-1.8-6-4.6-4.2-3.1-5.1-3.8-4.7-3.6-4.7-4.4-4-5.9-2.5-2.8-5.5-3.8-6-4.7-5.4-4.8-5.3-5.9-0.3-5.6 0.9-5.2 2.8-4.4-4z"/>
<path fill="#8a8cbf" d="M1720.0 603.3l2.3 6.5 1 6.9-2.5 6.5-2.4 6.4-0.1 7.1 4.9 4.8 2.1 6.8 4.7 5 5.3 2.8 2.3 5.4 4 4 3.4 4.5 0.5 6.7 1.2 6.6 3.6 5.1 2.2 5.7 2.4 5.6 1.1 6.2 1.3 6.1 4.4 4.7 2.9 5.7 3.8 4.9 5.9 3.4 2.4 6 3.9 5.2 4.5 4.7 4.4 4.8 3.8 5.3 6.7-1.7 3.3 4.7 1.8 5.6 3.2 4.7 7.5-0.1 7.5 0.1 8.4-6.7 6.8 2.1 6.1 3.3 5.4 4.6 4-3.9 2.7-4.9 3.3-4.5 6.7-6.7 6.4 3.8 6.9 2.9 5.5-3.5 4.5-5.1 6.7-1.4-3.4-4.9-3.3-5.1-3.2-5.6-3.9-5.3-2.9-5.8-2.9-5.3-0.3-6.3-3.5-5-1.8-6-4.6-4.2-3.1-5.1-3.8-4.7-3.6-4.7-4.4-4-5.9-2.5-2.8-5.5-3.8-6-4.7-5.4-4.8-5.3-5.9-0.3-5.6 0.9-5.2 2.8-4.4-4-3.9-4.4-7.6 0-7.4-1.6-5-3.7-5.6-2-6.1-1-4.5-3.7-1.6-5.8-2.5-5.2-4.7-3.6-6.5-2.6-4.5-5.4-5.7-3.7-6.1-3.8-7.6 0.4-6.3-3.3z"/>
<path fill="#e0e9f3" d="M1725.0 696.7l7.5-1.5 7.5-1.9 4.1-4.5 2.6-5.5 3.6 5.1 2.2 5.7 2.4 5.6 1.1 6.2 1.3 6.1 4.4 4.7 2.9 5.7 3.8 4.9 5.9 3.4 2.4 6 3.9 5.2 4.5 4.7 4.4 4.8 3.8 5.3 6.7-1.7 3.3 4.7 1.8 5.6 3.2 4.7 2.2 5.3-1.6 6.2 2.8 5.2 2.4 6.5-3.2 7 2.4 6.5-0.7 6.7 0.3 6.9-2.9 6.4 1.6 6-2.2 6.4 2.3 5.9-6-0.4-5.7 2.1-5.5 1.5-5.7-1.4-5.5 1.5-4.6 3.8-3.7 4.6-1.9 6.6-1.4 6.7-6-1.1-5.7-2.2-4.7-3.5-2.7-4.9-2.6-5-1.5-6.7-1.8-6.6-5.7-0.6-5.4-1.8-5.6-0.9-6.7-5-6.2 0.3-5.4 3 0-8.3-2.9-5.8 0.9-6.5-1.4-6.1 6.7-8.3-2.3-7.3 0.6-7.7 7.2-1.2 6.2-3.8 1.9-6 5.5-4.2 0.9-6.5 0.5-6.8 1.2-6.6 1.6-6.6-1.3-5.5-0.9-5.5 0.6-5.6-3.1-5.2-1.8-5.8-1.8-5.7-1.2-7.2z"/>
<path fill="#cfdbe8" d="M1808.3 770.0l7.5-0.1 7.5 0.1 8.4-6.7 6.8 2.1 6.1 3.3 5.4 4.6 3 6.4 0.3 7 1.8 5.6 6.1 2.3 2.1 5.4-1.7 6.5 0.1 6.8 1.6 7 3.4 6.4-1.5 5.5 0.1 5.7-2 5.4-5.4 3.5-3.7 5.2-4.2 4.7-5.2 4.8-4.8 5.2-4.7 3.8-5.3 2.8-4.3-3.7-2.2-5.3-3.5-4.3-3.2-7.2-5.1-6.1-2.7-6.5 1.2-6.8-0.2-6.7 2.9-6.4-0.3-6.9 0.7-6.7-2.4-6.5 3.2-7-2.4-6.5-2.8-5.2 1.6-6.2z"/>
<path fill="#8a8cbf" d="M1850.0 773.3l4-3.9 2.7-4.9 3.3-4.5 6.7-6.7 6.4 3.8 6.9 2.9 5.5-3.5 4.5-5.1 6.7-1.4 2.3 5.6-1.1 6.6 4 5.2 1.4 5.9 1.9 5.2 0.1 5.6 3 5 1.7 5.2 0 5.7-5.9 1.5-5.7 1.9-5.1 3.3-10 3.3-3.3 6.7-4.3 3.5-5.1 2.4-3.9 4.1-3.4-6.4-1.6-7-0.1-6.8 1.7-6.5-2.1-5.4-6.1-2.3-1.8-5.6-0.3-7z"/>
<path fill="#bfcfe5" d="M1915.0 746.7l0.2-5.8-0.5-5.8 2.1-5.6 1.7-5.6 0-5.8 0.3-5.7 1.2-5.7 4.2 5.8 5.8 4.2 6 0.4 5.7-2.1 6.4 3.3 5.2 5 6.7 4 5 6 7.4-3.5 7.6-3.1-1.9 6.7 2.7 6.6-0.8 6.7-6.6-1.6-6.7 1.6-2.3 6.5-1.1 6.8-5 5.1-5.3 4.8-6.3 3.4-4.7 3.8-1.9 6.2-5.1 3.4-0.6 6.9-4.1 6.1-0.3 7-5-3.7-5.5-2.3-6.2-0.7-2.4-5.9-2.4-5.8-4.6-4.9-0.6-6.7-2.6-6.4 0-6.9-1-6.8-1.4-6.6 6.1-1.6 3.5-5.7 5.4-2.7z"/>
<path fill="#8a8cbf" d="M1966.7 746.7l6.7-1.6 6.6 1.6 5.7 1.9 5.4 2.4 5.4 2.8 5.6 2.1 5.4 2.5 5.8 1.6-0.5 5.6 0.7 5.6-3.7 5.3 1.5 5.8 1.5 5.7-2.8 5.4 1.4 5.7-2.1 5.4 0.7 5.7-0.1 5.6-4.1 5.2 0.9 5.7-4.6 4-4.9 3.5-5.4 2.7-4.6 3.8-5.3 2.9-4.3 4.4-6.1 1.7-4.3 4.5-5 3.2-5.5 2.6-1.8-6.5-5.1-4.5-3.1-5.7-5.4-2.7-4.6-3.9-3.5-6.6-3.2-6.8-5-6.6 2.4-5.1 2.6-4.9 0.3-7 4.1-6.1 0.6-6.9 5.1-3.4 1.9-6.2 4.7-3.8 6.3-3.4 5.3-4.8 5-5.1 1.1-6.8z"/>
<path fill="#8a8cbf" d="M1870.0 823.3l5.4-2.8 4.6-3.8 5.6-1.8 5.2-2.7 4.3-4 4.9-3.2 6.5-2.9 6.8-2.1 6.2 0.7 5.5 2.3 5 3.7-2.6 4.9-2.4 5.1 5 6.6 3.2 6.8 3.5 6.6 4.6 3.9 5.4 2.7 3.1 5.7 5.1 4.5 1.8 6.5-4.9 2.7-5.8 1-4.7 3-3.9 4.4-5.3 2-3.8 4.4-5 2.5-5.8-4.2-4.2-5.8-6.6-1.8-6.7-1.5-6.2-2.7-4.7-4.6-5-4.1-4.1-5.3-6-4.6-7.3-2.1-0.6-7 1.1-6.6z"/>
<path fill="#bfcfe5" d="M1830.0 873.3l5.3-2.8 4.7-3.8 4.8-5.2 5.2-4.8 4.2-4.7 3.7-5.2 5.4-3.5 10 3.4 7.6 2.7 5.8 5.6 5.8 2.9 4.4 5.2 6.4 1.9 3.6 5.7 5.2 4.4 4.6 4.9 5.5 0.1 5.6-1.8 5.5 1.7 1.8 5.6 0 5.5-1.3 5.5-1.8 5.6-0.5 5.6 1.8 5.5-6.7-2.1-6.6 2.4-6.7-0.3-5.9 0.7-5-4-5.7 0-5 2.4-5 2.6 0.2 7.6-1.9 7.4-6.2 1.7-5.5 3.3-5.2 4-4.8 4.3-7.2-2.1-6.1-4.5-0.2-7.4-5.9-5.4-0.6-7.2-6.2-0.3-5.4-3.1-5.9-1.5-5.8-1.8 2.6-6.4-1.1-7.4 3.5-6.2 1.9-5.5 2.2-5.4z"/>
<path fill="#735c9f" d="M1686.7 853.3l0-6.6 8.3-1.7 1.5 6.7 1.8 6.6 6.7 1.7 2.9-5.2 1.3-5.7 0.8-5.8 1.7-8.3 5.4-3 6.2-0.3 6.7 5 5.6 0.9 5.4 1.8 5.7 0.6 1.8 6.6 1.5 6.7 2.6 5 2.7 4.9 4.7 3.5 5.7 2.2 6 1.1 1.4-6.7 1.9-6.6 3.7-4.6 4.6-3.8 5.5-1.5 5.7 1.4 5.5-1.5 5.7-2.1 6 0.4 1.4 5.8 4.4 4.1 2.5 5.1 3.5 4.3 2.2 5.3 4.3 3.7-0.9 5.8-2.2 5.4-1.9 5.5-3.5 6.2 1.1 7.4-2.6 6.4-6.4 3.1-6.9 1.9-3.4 8.3-6.1 0.7-5.5 2.7 0.7 5.5-0.4 5.6 1.3 5.5 0 5.8-2.8 5.2-0.5 5.7-4.3 5-4.2 5-1.5 6.7-5 4.5-3.5 5.5-1.5 6.6-5.4-4.6-4.6-5.4-10 0-5.3-2.9-4.7-3.7-2.4-7.2-4.3-6.2-5.7-0.2-5.1-3.5-5.8 0.4-5.6 2.5-6.1-0.7-6.1-1.1-5.6 2.6 0-5.8-1.1-5.5-4.2-4.7 0.2-5.8-0.9-5.6-3.3-4.9-3.4-4.8-0.3-5.8-0.4-5.7-1.9-5.3-2.8-5-2.2-5.2 0.3-5.9-1.5-5.7 1.1-5.7-1.7-5.7 4-5.8-0.3-5.7-0.8-5.7-0.8-5.7 6.7 0.7z"/>
<path fill="#7b70ae" d="M1820.0 910.0l5.8 1.8 5.9 1.5 5.4 3.1 6.2 0.3 0.6 7.2 5.9 5.4 0.2 7.4 6.1 4.5 7.2 2.1 4.1 3.9 3.3 4.5 2.6 5-1.3 5.9-2 5.7-2.1 7.4-1.2 7.6-6.7 0.4-6.7-0.4-6.9 1.5-6.7 2.2-6.4 3-5.9 4.1-4.1 5.9-3.3 10-2.9-4.8-2.1-5.2-6.9 3-7.6-1-7.2 1.3-4.5-5.5-5.5-4.5-6.7-1.1-6.6 1.1 1.5-6.6 3.5-5.5 5-4.5 1.5-6.7 4.2-5 4.3-5 0.5-5.7 2.8-5.2 0-5.8-1.3-5.5 0.4-5.6-0.7-5.5 5.5-2.7 6.1-0.7 3.4-8.3 6.9-1.9z"/>
<path fill="#bfcfe5" d="M1863.3 943.3l4.8-4.3 5.2-4 5.5-3.3 6.2-1.7 1.9-7.4-0.2-7.6 5-2.6 5-2.4 5.7 0 5 4 5.9-0.7 6.7 1 6.7-1 0.9 5.8-2.8 5.6 0.3 5.7-1.5 5.7-1.2 5.6 2 5.9-2.1 5.6 0.7 5.8-2.9 5.5 2.5 6-1.3 5.6-0.3 5.8-1.3 5.6 0.3 5.8-1 5.5-2.3 5.2 1.3 6-0.9 5.6-1.3 5.4-2.8 5.1-3.4 5-0.5 5.6-1.2 5.4-2.2 5.3 1 5.9-10 0-6.7-3.3-4.8-5-7-1.8-4.9-4.9-6.6 1.7 1.8-5.6-0.4-5.5-1.4-5.6 2.6-6.5-2.2-6.9 1.2-6.6 7.5-3.4 7.5-3.2-2.4-5.2-4.3-3.7-3.3-4.5-6.6 0 1.2-7.6 2.1-7.4 2-5.7 1.3-5.9-2.6-5-3.3-4.5z"/>
<path fill="#8a8cbf" d="M1823.3 1000.0l4.1-5.9 5.9-4.1 6.4-3 6.7-2.2 6.9-1.5 6.7 0.4 6.7-0.4 6.6 0 3.3 4.5 4.3 3.7 2.4 5.2-7.5 3.2-7.5 3.4-1.2 6.6 2.2 6.9-2.6 6.5 1.4 5.6 0.4 5.5-1.8 5.6-6.7-1.2-6.6 1-6.7 0.2-6.7-0.1-6.7 0.9-6.6 0.9-5.8-1.4-5.5 0.6-5.4 2.4-6.1 0.9-5.6 2.3-5.4 3-6.2 0.5-0.8-5.8-1.3-5.7-2.9-5.2-0.1-7.9-3.3-7.1 5.1-2.6 5.8-1.3 4.1-4.4 0-6.7 7.2-1.3 7.6 1 6.9-3 2.1 5.2 2.9 4.8z"/>
<path fill="#a1aed2" d="M1716.7 960.0l5.8-0.4 5.1 3.5 5.7 0.2 4.3 6.2 2.4 7.2 4.7 3.7 5.3 2.9 10 0 4.6 5.4 5.4 4.6 6.6-1.1 6.7 1.1 5.5 4.5 4.5 5.5 0 6.7-4.1 4.4-5.8 1.3-5.1 2.6 3.3 7.1 0.1 7.9 2.9 5.2 1.3 5.7 0.8 5.8-5.7 2.3-4.3 4.4-10-3.4-1.3-5.9-2.1-5.7-5.3-2.5-5.7 0.4-5.6 0.4-4.3-4.1-0.6-6.5-5.6-3.3-0.3-6.7-5.9-3.1-1-6.3-2.7-5.1-5.7-3.3-3.6-4.5 0.4-7.1-5.4-3.5-4.3-4.1-0.3-6.7-4.2-4.2-3.2-4.8 5-3.6 6-1.2z"/>
<path fill="#a1aed2" d="M1763.3 1041.7l2.1 5.7 1.3 5.9 10 3.4 4.3-4.4 5.7-2.3 6.2-0.5 5.4-3 5.6-2.3 6.1-0.9 5.4-2.4 5.5-0.6 5.8 1.4 0.1 5.9 1.5 5.7 3.7 6.3 2.8 6.7 1.9 7-3.4 3.4-1.3 5.5-0.1 5.6 1.4 5.5-1 6 3.2 5.1 0.7 5.7 1.1 5.6 2.3 5.3 0.4 5.7-6.3 0.1-5.6 2.4-5.9 1.3-5.6 2.1-5.7 1.9-5.2 3.6-5.7 1.9-5.9-0.1-5.8-0.5-5.6-1.2-5.5-2.4-5.6-1.8-6 1-5.6-1.7-2.5-5.1-1-5.5 0.1-5.9-4.9-4.3 1.5-6.3-4.7-4.4-1.7-5.3 0.4-6-1.5-5.4-2.4-5.1-0.6-6.1 1-6.1-1.7-6.2 0.4-6.1-0.4-6.1 1.3-6.1 6.8 1.2 6.5-2.4z"/>
<path fill="#edf3f7" d="M1826.7 1041.7l6.6-0.9 6.7-0.9 6.7 0.1 6.7-0.2 6.6-1 6.7 1.2 6.6-1.7 4.9 4.9 7 1.8 4.8 5 6.7 3.3 1.4 6.7-2 6.6 0.6 6.7-5.8-1.2-5.6 0.3-5.6 1.6-5.8-1-5.7 0.2-5.5 2.2-5.7-0.2-5.5 2.7-5.9-2.7-5.6 1.5-3.3-3.4-1.9-7-2.8-6.7-3.7-6.3-1.5-5.7z"/>
<path fill="#c0fbe3" d="M1880.0 120.0l1.8 6-2 6.3-0.1 6.1 3.1 6-2.8 6.3 1.7 6-7.8 0.5-7.2 2.8-6.7 2.1-6.3 3.3-7 1.3-1.5 6.7-2.6 6.4-0.9 6.9-3 4.8-2 5.2-6.7 3.3 3.7 5 1.7 5.7 1.3 6 0.6 5.5 0.5 5.6-1.1 5.5-1.3 5.6-5.7 3.4-0.6 5.9-2.4 5.1-3.3 5.1-0.9 5.8-0.8 5.8-2.7 7.6-5.7 5.7 1.7 8.4-6.7 8.3-5.9 0.2-5 3-5.4 1.6-5.3 1.9-0.9 6.7-0.4 6.7 2.7 6.5 0.2 6.7-0.2 6.7-1.6 6.6 2.4 6.7-0.6 6.7-2.6 5.1 1.1 6-2.4 5.1-1.1 5.5-5.6 0.1-5.6-0.7-5.4 2.2-6 1-6.2-1.8-5.8 2.8-6 0.3-6 1.1-3.4 10-6.7-1.1-6.6 0.7-6.7 0.4-6.6-6.7-5.7-2.1-5.4-3.4-6.4 0.2-5.9-1.4-0.2-5.8 3.2-5.2 2.2-5.3 1-5.6 0-5.7 0.6-5.7 2.2-5.3-1.3-6.1 3.8-5 0.6-5.6 0.7-5.7 1.5-5.5 1-5.5 0.9-5.6 0.5-5.7 4.6-3.9 1.7-5.7 4.2-4.1 1.2-5.9 3.7-4.5 3.1-4.8 4-4.2-0.2-6.9 3.2-4.7 4.7-3.8 1.9-5.5 4.9-3.8 1.5-5.7 3.9-4.4 3.2-4.7 2-5.5 2.4-5.2 3.7-4.2 4.1-3.9 1.4-5.8 3.5-4.3 2.3-5.3 3.6-4.2 4.7-3.5 1.9-5.5 4-3.9 5.6-2.8 0.2-6.8 5.9-2.5 1.8-5.6 2.2-5.2 5.1-3.2 4-4.6 3.2-5.2 5.1-3.8 4.3-4.3 1.1-7 4.1-4.5 4.9-3.9 6.6 6.6 5.6-0.6 5.5 1.1 5.6-0.5 5.9-1.4 4.5-4.8 6.3-0.4 6.7 1.6z"/>
<path fill="#c0fbe3" d="M1600.0 526.7l5.1 3.5 6.2 0.5 5.4 2.6 3 6.5 2 6.9-0.5 5.7-0.8 5.6-2.1 5.3-4.8 3.6-5.2 3.1 0.5 6.2 2.9 5.5-6.4 5.2-5.3 6.4-6.9-0.9-6.5 2.3-6.5 2.4-6.8-0.4-6.9 2.7-5.5 4.5-4.2 6.1-4.1 4.3-3.5 5-5.8 2.4-5.9-0.9-5.7-1.8-5.5-2.8-6.2 0.5-6.3 3.2-7.4-1.4-6.3 3.2-5.9 1.1-5.8-1.6-5.7-2.2-5.9 1-6.8-1.3-6.6-2-6.7 0.3-6.6-1.3-6.7 1 4.2-4.1 4.2-4.1 2.4-5.5 4.3-4.1 4.7-3.6 0.5-7.1 6.4-2.3 3.6-4.6 2-5.8 5.4-3.2 2.3-5.6 5.1-2.5 3.6-4.4 4.6-3.2 4.9-2.7 4.5-3.3 3-5.2 4.4-3.3 4.3-3.6 6.9 0 2.9-5.5 4.5-3.3 3.8-4.2 4.8-2.8 6.1-1.1 3.3-4.9 5.9-2.4 6.3-1.1 5.8-2.7 5.9-2.6 6.8 0.9 6-2.1 2.3 5.7 6 3.2 2.2 5.8z"/>
<path fill="#e0e9f3" d="M1543.3 621.7l5.8-2.4 3.5-5 4.1-4.3 4.2-6.1 5.5-4.5 6.9-2.7 6.8 0.4 6.5-2.4 6.5-2.3 6.9 0.9 6.6 1 5.7 3.9 6 2.7 6.7 0.8 8.3-5 4.3-4.1 0-6.2 5.2-3.7 0.5-6 6.7-6.7 5.8 0.2 5.8 1.4 6-1.8 5.7 1.9 3.7 4.6 4.3 4.1 3.9 4.4 3.4 4.9 4.7 3.6 5.7-0.8 5.4 1.9 5.6 0.6 10 1.7 1.4 6.6-0.2 6.9 2.1 6.5-2.5 6.5-2.4 6.4-0.1 7.1 4.9 4.8 2.1 6.8 4.7 5 5.3 2.8 2.3 5.4 4 4 3.4 4.5 0.5 6.7 1.2 6.6-2.6 5.5-4.1 4.5-7.5 1.9-7.5 1.5 3.8 6.1 1.2 7.2 1.8 5.7 1.8 5.8 3.1 5.2-0.6 5.6 0.9 5.5 1.3 5.5-1.6 6.6-1.2 6.6-0.5 6.8-0.9 6.5-5.5 4.2-1.9 6-6.2 3.8-7.2 1.2-1.4-6.3-3.6-5.4-2.5-7-4.1-6.3-4.7-6.3-3.7-7-3.6-4.5-2.7-5.1-2-5.4-5 5-6.7 0.4-6.6 1.2 1.6 6.7 6.7 5-2.9 7.4-5.4 5.9-5 0-4.6-4.7-3.8-5.3-2.2-7.2-4.4-6.1-3.7-5.6-3-6.1-3.8 5.6-2.9 6.1-7.2-2.2-6.1-4.5-3.3-10-4.8-4.4-5.2-3.9-6.1-5.1-7.3-3.2-4.7-5.3-5.3-4.7-4.5-4.1-5.5-2.6-3.9-4.6-2.7-5.4 6.6-6.7 2.4-6.5-0.7-6.8-8.3-3.3-0.4-7-3-6.4-7.5-1.7-7.5-1.6 0.3-6.6-3.2-5.7z"/>
<path fill="#e0e9f3" d="M1661.7 766.7l6.9 0.5 6.4 2.8 0.6 6.7 1.8 6.5-0.7 6.8-10-3.3 0.2-7.1-3-6.4z"/>
<path class="l" d="M1935.0 76.7l1.3 5.9 4.3 4.7 1.1 6-3.1 5 2 6.2-1.4 5.4-2.5 5.1-5.8 3-5.2 4.2-7.3 0.1-5.1 4.4-5.2-2.9-6.1 1.6-5.1-3.1-6.1 1.4-5.6-0.7-5.2-3"/>
<path class="l" d="M1715.0 560.0l-0.8 6.3 3.1 5.8 0.8 6.2 0.6 6.1-1.4 6.4 2.7 5.9 1.4 6.6-0.2 6.9 2.1 6.5"/>
<path class="l" d="M1713.3 785.0l-0.6 7.7 2.3 7.3-6.7 8.3 1.4 6.1-0.9 6.5 2.9 5.8-1 5.5 0.2 5.6-0.9 5.5-0.8 5.8-1.3 5.7-2.9 5.2-6.7-1.7-1.8-6.6-1.5-6.7-8.3 1.7 0 6.6"/>
<path class="l" d="M1934.3 76.7l7.1-3.7 7.9-1.3 4.5-4.3 4.8-4 4.5-4.4 2.9-5.7 3.9 4.9 7.3 0 3.8 5.1 3.8 4 3 4.7 3.4 4.4 3.3 4.4 6 2.1 2.2 5.4 5.8 0.8 5.7 1.9 6-1.1 5.8 0.1 4.4-3.5 2.9-5.1 5.4-2.4 4-4 6.9-0.2 6.3 3 6.8 0.5 5.6 2.1 5.5 2.2 5.5 2.4 1.6-6 2.6-5.8-0.8-6.5 4.6-5.4 3.5-6.3 5.2-5-2.4-5.7 0.3-5.9 2.5-6-2.1-5.7-2-6.5-0.4-6.8 1.7-6.9-2.6-6.5"/>
<path class="l" d="M1880.0 120.0l-6.6-1.7-6.7-1.6-6.3 0.4-4.5 4.8-5.9 1.4-5.6 0.5-5.5-1.1-5.6 0.6"/>
<path class="l" d="M1783.3 381.7l-5.6 0.1-5.6-0.7-5.4 2.2-6 1-6.2-1.8-5.8 2.8-6 0.3-6 1.1-3.4 10-6.7-1.1-6.6 0.7-6.7 0.4-6.6-6.7"/>
<path class="l" d="M1661.7 763.3l-1.2 6.7 1.2 6.7"/>
<path class="l" d="M1543.3 621.7l-4.5 5.4-1.5 6.7-3 6.1-1 6.8-6.2 1.5-2.6 6.9-5.1 3.2-6.1 1.7-5.3 2.1-4.6 3.7-6.3-0.6-4.3 5-6.1-0.2-6.2-1.6-5.6 4.8-6.3-2.1-5.9 1.9-6 0.3"/>
<path class="l" d="M1593.3 706.7l-4.9 4.3-2 6.2-1.1 6.7-6.7 3.2-1.9 6.2-4.1 4.3-2.7 5.5-5.1 3.4-2.9 5.3-3.8 4.6-4.8 3.6-1.4 5.6-2.6 4.9-2.9 4.8-5.1 3.4-2.7 4.9-3.5 4.3-1.8 5.4-0.9 5.9-3 4.7-2.8 4.8-5.9 3-3.4 4.4 0.1 6.6-4.1 4-4 4.9 1.5 7-5.1 4.4-1.2 5.9-4.2 4.8-0.3 6.3-4 5 0.4 6.5-1.2 5.9-1.8 5.8-4.1 5 0.9 6.6-3.5 5.2"/>
<path class="l" d="M1653.3 753.3l-5.7 3.2-2.1 6.4-2.6 5.8-3.9 4.8-5.7 3.2-4.2 5.1-4.8 4.4-4.8 4.4-6.2 2.7-1.3 5.9-4.3 4.8-0.1 6.4-3.1 5.2-1.1 6-3.4 5.1 0.3 6.1-3.5 5.1-0.4 5.9-2.1 5.4-1.4 5.6-2.9 5.2-4.8 3.7-2.9 5.1-3.5 4.6-2.4 5.4-3.6 4.6-4.4 4-1.7 5.9-2.9 5.2-3.8 4.8-1.3 6-1.5 6-3.9 4.7"/>
<path class="l" d="M1533.3 793.3l-7.1 0.1-6.3 2.9-6.2 3.5-7 0.2-6.2 0.9-5 3.4-4.3 4.8-5.3 2.6-5.9 1.6-6.4-0.4-5.2 4-6.5-0.6-5.2 3.7"/>
<path fill="#e0e9f3" d="M2145.0 738.3l-0.3-7.6-1.4-7.4 3.3-4.9 5.8-1.6 4.3-3.5 4.3-6.1 2.3-7.2 0.9-7.2-2.3-7.3 1.4-7.2 5.5-1 5.6-0.6 5.6 0 5-3.4 5-3.3 4.6-4.9 7-1 5.1-4.1 3.3-5 5.1 2.3 4.9 2.7 7-0.2 6.3-3.1 6.9-4.3 8.1-0.7 4 4.5 6 1 5 2.8 0.5 6-2.1 5.7 3.9 4.7 0.2 6.1 4 4.7 0.2 6.1-4.4 3.4-5.8 1-5 2.3-2.9 6-4.9 2.5-5.2 2.1-4.7 2.8-4.6 3-4.9 2.5-5.8 1.1-3.8 4.4-3.8 4.3-4.7 2.9-6.1 0.5-4.6 3.1-5 2.4-4.3 3.5-4.6 3-4.9 2.6-6.1-0.1-5.8-1.5-5.4-3.2-5.9-1.4-5.6-2.3z"/>
<path class="l" d="M2082.7 446.7l6.7-1.5 6.6 0.3 6.7 1.2 4.4 3.6 5.6 1.4-6.7 6.6 4 6.7 6 5 4 6 6 4 7.3 3.1 6 5.2 7.5-1.7 7.5-1.6-1.9-6.1 0.4-6.1 1.5-6.1 2.1-6.8 3.6-6 4.3-5.6 6.2-0.2 6.2-0.4 6 2.3 5.4 1.7 6-1 5.2 2.6 1.9 6.8 4.7 5.8 0.1 7.4 3.2 5.1 3.5 4.9-6.7 6.7 4.9 4.5 7.3 0.4 4.5 5.1 3.8 6.2 0.7 7.6 3.8 6.2 3 5.3 3.7 4.7-1.7 10-4.2 5.8-5.8 4.2 1.8 5.7 1.4 5.9 3.5 5.1 5.2 4.4 2.4 6.1 2.4 6.1-6.7 6.7 0.8 6.9 2.5 6.4 4.6 3.9 5.4 2.8 6.7-1.8 6.7-1.5 6.6 6.6 6.7-1.5 6.7-1.8 3.1-5.1 3.5-4.9 6.4-1.3 5.4-3.6 6.1-1.7 5.5-3.4 5.3-3.1 4.1-4.1 3.3-5.1 3.9-4.4 6.5-1.7 3.6-6.7 6.6-1.6 2.8-5.8 5.1-4.5 2.1-6.3 5.1-2.7 2-5.8 4.6-3.2"/>
<path class="l" d="M2242.7 583.3l-6.6 0.7-5.7-4-6-2.5-6.7 0.8-4.3 6.4-5.7 5.3-2.4 6.5 0.7 6.8-5.8 1.8-5.5 2.4-5.4 2.5 0 6.7-1.6 6.6-7.2 1.4-4.8 5.7-6.4 2.9-4.5 5.8-5.5 4.9"/>
<path class="l" d="M2065.0 663.3l7.6 1.4 7.4 2 6.8 1.2 6.5 2.1 4.3-3.8 6.6 0.6 4.4-3.8 4.7-3 5-8.3 7.2 1.1 7.4 0.1 7.1 2.1 5.7 0.8 5.3-3.4 5.7 0.9 2.6-9.3"/>
<path class="l" d="M2163.3 678.3l-3.4-5.8-2.1-6.1 2-7.2-3.1-5.9"/>
<path class="l" d="M2093.3 670.0l1 6 2.4 5.6 0.9 6.1 2.4 5.6 5.7 4.5 2.8 6.9 4.8 5.3 3.5 6.3 6.1 4.3 3.8 6.1"/>
<path class="l" d="M2096.0 291.7l-3.9-5.5-1.9-6.3-0.9-6.6-4.3-5.6-3.7-6.2-5.3-4.8-3.3-10 1.6-6.7 1.7-6.7 0.5-6.7-0.5-6.6-3.5-5.5-4.5-4.8-2-6.4-4.5-4.7-3.8-5.3-0.5-5.9 1.8-5.3 2-5.4-10-3.4 1.6-6.1-2.2-5.9-1.9-5.9 0.6-6.1 0.2-6-3.4-7.1-4.9-6.2-2.5-5.1-3.3-4.4-4.2-3.8-4.3-4.3-5.6-2.6-5.1-3.1-6.5-2.1-7.2 1.8-6.3-3.1-5.1-4.6-7.1-1.1-4.5-5.6-6.6-2-5.2-3.9-6.7-1.5-4.8-4.6-6.7-6.7-7.7 0.8-7.3 2.6"/>
<path fill="#a1aed2" d="M1721.7 1076.7l5.9-1.2 5.7-2.2 6.5 2.1 6.9-0.4 1.3 6.4 3.7 5.3-1.1 5.7 3.1 5.3-0.4 5.6 1.9 5.7-0.2 6-10-1.7-8.3-1.6-0.9-6.1-2.5-5.6-3.3-10-8.3-3.3z"/></g>
<g id="top"><polygon class="n" fill="#25043c" points="474.0,2259.0 481.7,2256.0 491.7,2250.0 494.0,2254.0 485.0,2260.7 478.3,2262.0"/>
<polygon class="n" fill="#25043c" points="1616.7,493.3 1633.3,490.0 1653.3,480.0 1670.0,473.3 1683.3,468.3 1688.3,473.3 1680.0,483.3 1686.7,486.7 1676.7,496.7 1666.7,503.3 1663.3,513.3 1650.0,515.0 1640.0,521.7 1635.0,513.3 1643.3,506.7 1656.7,500.0 1646.7,496.7 1633.3,500.0 1623.3,503.3"/>
<polygon class="n" fill="#25043c" points="1451.7,688.3 1473.3,685.0 1500.0,683.3 1513.3,680.0 1516.7,670.0 1520.0,680.0 1533.3,683.3 1546.7,666.7 1543.3,680.0 1551.7,683.3 1533.3,688.3 1530.0,700.0 1523.3,690.0 1503.3,688.3 1480.0,690.0 1456.7,691.7"/>
<polygon class="n" fill="#25043c" points="1460.0,773.3 1473.3,763.3 1486.7,753.3 1500.0,743.3 1513.3,736.7 1526.7,733.3 1520.0,740.0 1508.3,746.7 1496.7,756.7 1486.7,766.7 1480.0,776.7 1473.3,786.7 1466.7,793.3 1463.3,783.3"/>
<polygon class="n" fill="#25043c" points="1460.0,826.7 1473.3,816.7 1486.7,823.3 1493.3,826.7 1480.0,833.3 1485.0,850.0 1476.7,846.7 1470.0,836.7"/>
<polygon class="n" fill="#25043c" points="1565.0,1033.3 1571.7,1026.7 1581.7,1020.0 1590.0,1010.0 1603.3,1006.7 1608.3,1011.7 1600.0,1016.7 1605.0,1026.7 1610.0,1033.3 1600.0,1035.0 1595.0,1026.7 1588.3,1026.7 1583.3,1036.7 1580.0,1045.0 1575.0,1036.7"/>
<polygon class="n" fill="#25043c" points="1713.3,1093.3 1718.3,1090.0 1721.7,1100.0 1730.0,1108.3 1725.0,1110.0 1716.7,1105.0"/>
<polygon class="n" fill="#25043c" points="1815.0,1243.3 1825.0,1248.3 1836.7,1245.0 1846.7,1243.3 1848.3,1258.3 1840.0,1255.0 1830.0,1256.7 1820.0,1251.7"/>
<polygon class="n" fill="#25043c" points="2294.0,2336.9 2300.0,2333.3 2309.5,2334.5 2316.7,2332.1 2319.0,2341.7 2311.9,2345.2 2302.4,2342.9 2295.2,2342.9"/>
<polygon fill="#ffffff" stroke="#3f3f50" stroke-width="0.8" points="1916.2,49.5 1915.0,30.0 1918.8,17.5 1923.8,11.2 1927.5,10.0 1930.0,15.0 1927.5,25.0 1923.8,37.5 1920.5,49.5"/>
<polygon fill="#ffffff" stroke="#3f3f50" stroke-width="0.8" points="1927.0,49.5 1930.0,45.0 1931.2,37.5 1933.8,25.0 1936.2,27.5 1935.0,37.5 1943.8,40.0 1936.2,42.5 1933.0,49.5"/>
<polygon fill="#ffffff" stroke="#3f3f50" stroke-width="0.8" points="1885.0,0.0 1887.5,10.0 1897.5,15.0 1905.0,7.5 1910.0,0.0"/>
<polygon fill="#ffffff" stroke="#3f3f50" stroke-width="0.8" points="1890.0,30.0 1897.5,25.0 1910.0,20.0 1920.0,7.5 1917.5,5.0 1907.5,15.0 1895.0,21.2 1888.8,26.2"/>
<polygon fill="#ffffff" stroke="#3f3f50" stroke-width="0.8" points="1940.0,0.0 1942.5,10.0 1955.0,15.0 1970.0,10.0 1980.0,17.5 1981.2,15.0 1972.5,5.0 1960.0,7.5 1952.5,2.5 1955.0,0.0"/>
<polygon fill="#ffffff" stroke="#3f3f50" stroke-width="0.8" points="1870.0,42.5 1880.0,37.5 1890.0,40.0 1897.5,48.8 1890.0,46.2 1880.0,43.8"/>
<polygon class="n" fill="#25043c" points="1893.8,50.5 1905.0,56.2 1911.2,58.8 1910.0,66.2 1907.5,65.0 1905.0,60.0 1897.5,56.2"/>
<polygon class="n" fill="#25043c" points="1881.2,51.2 1886.2,56.2 1891.2,60.0 1887.5,63.8 1885.0,62.5 1883.8,58.8 1880.0,53.8"/>
<polygon class="n" fill="#25043c" points="1916.2,50.0 1920.5,50.0 1919.0,53.8 1917.0,53.0"/>
<polygon class="n" fill="#25043c" points="1927.0,50.0 1933.0,50.0 1930.0,56.2 1926.2,60.0"/>
<polygon class="n" fill="#25043c" points="1868.8,53.8 1873.8,62.5 1875.0,72.5 1867.5,82.5 1860.0,85.0 1855.0,95.0 1850.0,92.5 1857.5,82.5 1865.0,75.0 1870.0,67.5 1867.5,58.8"/>
<polygon class="n" fill="#25043c" points="1840.0,86.2 1852.5,82.5 1862.5,77.5 1866.2,80.0 1855.0,86.2 1862.5,95.0 1867.5,96.2 1860.0,100.0 1852.5,95.0 1842.5,92.5"/>
<polygon class="n" fill="#ffffff" points="1873.5,14.7 1884.1,18.9 1894.2,21.8 1886.1,14.9 1876.3,9.0"/>
<polygon class="n" fill="#ffffff" points="1872.5,22.1 1883.1,25.2 1893.4,25.7 1884.5,21.4 1874.6,16.7"/>
<polygon class="n" fill="#edf3f7" points="1873.1,14.2 1871.2,15.2 1868.8,14.6 1868.4,13.0 1870.4,12.0 1872.7,12.6"/>
<polygon class="n" fill="#ffffff" points="1867.8,24.9 1872.7,33.8 1880.5,40.1 1876.7,32.1 1873.6,22.4"/>
<polygon class="n" fill="#ffffff" points="1863.2,36.8 1874.9,36.3 1885.5,34.4 1875.0,32.6 1863.3,31.5"/>
<polygon class="n" fill="#edf3f7" points="1862.0,30.9 1860.3,32.7 1857.0,32.6 1855.4,30.8 1857.1,29.0 1860.4,29.1"/>
<polygon class="n" fill="#ffffff" points="1856.8,44.7 1862.0,49.7 1868.5,52.4 1864.7,47.4 1860.6,41.5"/>
<polygon class="n" fill="#ffffff" points="1849.9,49.2 1853.9,56.9 1859.4,63.1 1857.5,55.4 1854.9,47.1"/>
<polygon class="n" fill="#25043c" points="1843.4,56.7 1849.3,62.6 1855.4,67.4 1852.1,60.3 1847.4,53.4"/>
<polygon class="n" fill="#edf3f7" points="1845.7,56.1 1841.7,56.5 1839.2,54.6 1840.6,52.3 1844.5,51.9 1847.0,53.8"/>
<polygon class="n" fill="#25043c" points="1839.6,64.3 1858.8,73.6 1877.9,78.0 1859.8,71.5 1841.2,61.3"/>
<polygon class="n" fill="#25043c" points="1836.9,73.5 1853.5,89.6 1863.4,107.5 1855.8,87.3 1840.3,70.2"/>
<polygon class="n" fill="#edf3f7" points="1836.5,73.9 1832.6,74.5 1829.8,72.7 1830.9,70.2 1834.8,69.6 1837.6,71.4"/>
<polygon class="n" fill="#25043c" points="1833.6,83.0 1840.8,83.5 1847.5,80.9 1841.3,80.6 1834.2,78.9"/>
<polygon class="n" fill="#edf3f7" points="1834.2,76.0 1831.6,78.1 1827.4,77.7 1825.9,75.2 1828.6,73.1 1832.7,73.6"/>
<polygon class="n" fill="#25043c" points="1829.0,92.2 1842.0,94.0 1852.9,97.8 1842.7,90.3 1830.0,86.9"/>
<polygon class="n" fill="#25043c" points="1826.3,101.8 1834.9,103.7 1842.4,105.9 1836.2,99.9 1828.1,96.3"/>
<polygon class="n" fill="#edf3f7" points="1823.3,101.3 1821.1,102.5 1818.3,101.9 1817.7,100.1 1819.9,98.9 1822.7,99.5"/>
<polygon class="n" fill="#25043c" points="1828.7,110.7 1839.7,107.2 1849.7,105.6 1838.8,103.3 1827.4,105.0"/>
<polygon class="n" fill="#edf3f7" points="1825.2,108.0 1824.6,109.3 1822.5,109.5 1821.1,108.6 1821.7,107.4 1823.8,107.1"/>
<polygon class="n" fill="#25043c" points="1829.7,120.7 1853.8,119.9 1874.8,112.6 1853.8,117.4 1829.7,117.1"/>
<polygon class="n" fill="#25043c" points="1826.8,130.5 1832.5,130.8 1837.2,131.6 1833.3,126.9 1828.0,124.9"/>
<polygon class="n" fill="#c0fbe3" points="1827.5,123.5 1824.3,125.7 1819.7,125.1 1818.2,122.2 1821.4,120.0 1826.0,120.7"/>
<polygon class="n" fill="#25043c" points="1823.1,136.4 1846.7,139.2 1868.4,139.7 1847.0,136.6 1823.6,132.7"/>
<polygon class="n" fill="#25043c" points="1818.4,144.2 1830.6,145.7 1841.9,142.4 1831.2,142.3 1819.3,139.3"/>
<polygon class="n" fill="#c0fbe3" points="1818.0,136.7 1816.6,137.7 1814.6,137.4 1813.9,136.2 1815.3,135.2 1817.3,135.5"/>
<polygon class="n" fill="#25043c" points="1811.7,152.6 1816.8,154.4 1821.7,155.5 1817.8,152.3 1813.0,149.7"/>
<polygon class="n" fill="#25043c" points="1807.7,160.9 1817.8,161.5 1825.4,164.8 1818.4,157.2 1808.7,154.7"/>
<polygon class="n" fill="#c0fbe3" points="1811.5,152.7 1808.6,154.9 1804.1,154.5 1802.4,151.8 1805.3,149.6 1809.8,150.0"/>
<polygon class="n" fill="#25043c" points="1801.4,165.2 1813.7,181.5 1831.8,189.2 1817.1,179.2 1806.3,161.8"/>
<polygon class="n" fill="#c0fbe3" points="1802.5,164.8 1798.0,165.0 1795.4,162.7 1797.4,160.1 1801.9,159.9 1804.5,162.2"/>
<polygon class="n" fill="#25043c" points="1796.0,173.7 1802.4,177.9 1809.9,179.1 1804.4,175.4 1798.8,170.2"/>
<polygon class="n" fill="#25043c" points="1793.2,181.4 1798.7,182.1 1804.0,181.3 1799.3,179.5 1794.1,177.7"/>
<polygon class="n" fill="#c0fbe3" points="1794.9,175.8 1792.0,177.7 1787.8,177.1 1786.6,174.5 1789.6,172.5 1793.8,173.2"/>
<polygon class="n" fill="#25043c" points="1788.5,190.4 1796.9,192.4 1804.7,193.4 1797.7,189.7 1789.7,186.5"/>
<polygon class="n" fill="#25043c" points="1785.2,195.8 1794.9,202.4 1802.3,209.7 1796.3,200.5 1787.2,193.1"/>
<polygon class="n" fill="#25043c" points="1782.5,207.6 1793.7,206.7 1803.4,201.3 1793.7,203.0 1782.4,202.3"/>
<polygon class="n" fill="#25043c" points="1777.9,216.0 1782.0,217.4 1785.7,218.5 1784.4,213.6 1781.2,210.6"/>
<polygon class="n" fill="#25043c" points="1770.9,226.7 1777.3,227.7 1783.6,225.2 1778.3,224.3 1772.3,221.8"/>
<polygon class="n" fill="#25043c" points="1763.5,235.1 1773.2,240.4 1781.9,245.2 1775.4,237.0 1766.6,230.2"/>
<polygon class="n" fill="#c0fbe3" points="1762.8,232.2 1758.9,233.4 1755.3,231.9 1755.6,229.2 1759.4,228.0 1763.0,229.5"/>
<polygon class="n" fill="#25043c" points="1758.2,242.8 1768.0,246.3 1775.6,251.3 1769.1,243.7 1759.7,239.1"/>
<polygon class="n" fill="#c0fbe3" points="1754.7,236.1 1753.0,237.0 1751.0,236.5 1750.7,235.1 1752.4,234.2 1754.5,234.8"/>
<polygon class="n" fill="#25043c" points="1751.7,251.4 1760.7,254.6 1767.3,259.4 1762.0,251.7 1753.6,247.2"/>
<polygon class="n" fill="#c0fbe3" points="1750.1,246.6 1748.5,247.4 1746.6,246.9 1746.4,245.6 1748.1,244.9 1749.9,245.4"/>
<polygon class="n" fill="#25043c" points="1745.2,258.9 1761.0,271.7 1768.7,287.8 1762.9,269.5 1748.0,255.6"/>
<polygon class="n" fill="#c0fbe3" points="1746.8,254.4 1744.0,255.0 1741.8,253.8 1742.3,251.9 1745.1,251.3 1747.4,252.6"/>
<polygon class="n" fill="#25043c" points="1738.3,267.5 1746.2,278.1 1755.8,285.8 1749.2,276.1 1742.7,264.6"/>
<polygon class="n" fill="#c0fbe3" points="1738.1,264.1 1735.0,264.2 1733.3,262.6 1734.7,260.9 1737.8,260.8 1739.5,262.4"/>
<polygon class="n" fill="#25043c" points="1733.7,278.3 1748.9,282.0 1763.6,279.2 1750.0,278.2 1735.4,272.8"/>
<polygon class="n" fill="#25043c" points="1730.4,286.0 1748.0,285.1 1764.1,283.4 1748.0,281.2 1730.3,280.5"/>
<polygon class="n" fill="#c0fbe3" points="1730.8,280.1 1729.6,281.4 1727.2,281.4 1726.0,280.2 1727.2,278.9 1729.6,278.8"/>
<polygon class="n" fill="#25043c" points="1725.1,294.4 1739.9,293.6 1752.3,286.9 1739.8,290.2 1725.1,289.6"/>
<polygon class="n" fill="#c0fbe3" points="1722.5,286.0 1720.9,287.8 1717.6,287.8 1716.0,286.1 1717.6,284.3 1720.9,284.3"/>
<polygon class="n" fill="#25043c" points="1720.8,296.6 1724.8,303.5 1726.7,309.9 1728.0,302.0 1725.3,294.5"/>
<polygon class="n" fill="#25043c" points="1717.8,306.8 1740.6,311.8 1760.0,319.4 1741.6,307.7 1719.3,301.0"/>
<polygon class="n" fill="#c0fbe3" points="1718.1,302.1 1715.8,303.6 1712.5,303.1 1711.6,301.0 1714.0,299.5 1717.2,300.1"/>
<polygon class="n" fill="#25043c" points="1714.4,317.2 1722.2,316.8 1729.1,313.2 1722.4,312.9 1714.7,311.5"/>
<polygon class="n" fill="#25043c" points="1712.2,329.6 1729.1,326.3 1744.4,322.3 1728.5,322.1 1711.3,323.6"/>
<polygon class="n" fill="#c0fbe3" points="1708.7,324.7 1707.1,327.2 1702.8,327.6 1700.2,325.5 1701.8,323.0 1706.0,322.6"/>
<polygon class="n" fill="#25043c" points="1709.2,335.4 1716.4,337.4 1723.6,338.0 1718.2,333.4 1711.7,329.6"/>
<polygon class="n" fill="#25043c" points="1709.5,343.2 1732.2,336.2 1753.0,330.1 1731.5,333.7 1708.5,339.6"/>
<polygon class="n" fill="#c0fbe3" points="1705.1,339.0 1704.3,341.1 1701.0,341.6 1698.6,340.2 1699.4,338.1 1702.7,337.5"/>
<polygon class="n" fill="#25043c" points="1706.1,352.2 1717.5,357.4 1726.2,364.3 1718.8,355.0 1707.9,348.7"/>
<polygon class="n" fill="#25043c" points="1703.3,364.8 1722.7,373.8 1742.7,376.3 1724.8,369.8 1706.1,359.2"/>
<polygon class="n" fill="#c0fbe3" points="1704.2,362.5 1701.6,363.6 1698.9,362.7 1698.7,360.8 1701.3,359.7 1704.0,360.6"/>
<polygon class="n" fill="#25043c" points="1701.9,372.6 1705.9,372.9 1709.8,371.4 1706.7,369.7 1703.0,368.1"/>
<polygon class="n" fill="#c0fbe3" points="1698.0,369.8 1695.4,371.5 1691.8,370.9 1690.7,368.7 1693.3,367.0 1697.0,367.6"/>
<polygon class="n" fill="#25043c" points="1699.7,381.9 1713.7,381.6 1726.1,383.2 1713.8,378.6 1699.8,377.6"/>
<polygon class="n" fill="#25043c" points="1694.6,388.5 1699.8,396.0 1706.1,401.9 1703.2,394.1 1699.4,385.8"/>
<polygon class="n" fill="#25043c" points="1689.8,393.4 1691.0,399.7 1690.8,405.1 1694.2,399.4 1694.4,393.0"/>
<polygon class="n" fill="#25043c" points="1681.9,401.0 1693.8,408.6 1701.5,418.4 1695.2,406.6 1684.0,398.1"/>
<polygon class="n" fill="#25043c" points="1674.2,409.2 1684.8,415.3 1691.1,423.4 1687.2,411.7 1677.7,404.0"/>
<polygon class="n" fill="#edf3f7" points="1676.8,403.6 1673.6,404.5 1670.7,403.3 1671.0,401.1 1674.2,400.1 1677.1,401.4"/>
<polygon class="n" fill="#25043c" points="1668.7,416.2 1681.8,419.5 1691.4,425.9 1683.1,415.4 1670.6,410.4"/>
<polygon class="n" fill="#25043c" points="1663.8,425.5 1679.6,420.1 1693.6,413.7 1678.8,417.3 1662.5,421.5"/>
<polygon class="n" fill="#25043c" points="1658.8,436.9 1671.9,439.7 1684.5,436.8 1673.0,435.8 1660.4,431.3"/>
<polygon class="n" fill="#edf3f7" points="1659.1,432.6 1656.5,434.2 1653.1,433.5 1652.3,431.4 1654.8,429.9 1658.3,430.5"/>
<polygon class="n" fill="#25043c" points="1654.3,444.4 1674.3,455.9 1695.3,460.2 1675.6,453.8 1656.2,441.4"/>
<polygon class="n" fill="#edf3f7" points="1651.5,441.9 1649.2,442.7 1647.0,441.8 1647.0,440.2 1649.3,439.4 1651.6,440.2"/>
<polygon class="n" fill="#25043c" points="1650.2,453.2 1671.3,457.0 1689.5,463.1 1672.0,453.9 1651.1,448.8"/>
<polygon class="n" fill="#25043c" points="1644.9,460.6 1658.1,465.7 1668.3,472.6 1659.7,462.0 1647.2,455.4"/>
<polygon class="n" fill="#edf3f7" points="1643.6,455.7 1641.9,456.5 1639.9,455.9 1639.7,454.6 1641.4,453.8 1643.4,454.3"/>
<polygon class="n" fill="#25043c" points="1638.9,469.3 1651.1,470.7 1661.7,472.9 1651.7,467.0 1639.9,464.0"/>
<polygon class="n" fill="#edf3f7" points="1639.8,464.1 1638.4,465.2 1636.2,464.9 1635.5,463.6 1636.9,462.6 1639.1,462.8"/>
<polygon class="n" fill="#25043c" points="1633.3,471.6 1637.6,487.0 1635.7,500.8 1640.4,486.3 1637.2,470.6"/>
<polygon class="n" fill="#25043c" points="1626.5,479.3 1634.2,485.6 1641.9,490.7 1636.9,482.9 1630.4,475.3"/>
<polygon class="n" fill="#25043c" points="1619.5,482.7 1626.6,496.4 1632.3,509.0 1629.6,495.0 1623.8,480.7"/>
<polygon class="n" fill="#edf3f7" points="1618.1,479.2 1614.8,479.0 1613.4,477.1 1615.3,475.4 1618.6,475.6 1620.0,477.5"/>
<polygon class="n" fill="#25043c" points="1612.6,488.4 1625.3,496.9 1637.4,503.6 1627.1,494.4 1615.3,484.9"/>
<polygon class="n" fill="#25043c" points="1600.5,491.9 1608.8,503.0 1616.6,512.9 1612.4,500.7 1605.7,488.6"/>
<polygon class="n" fill="#25043c" points="1595.0,495.7 1602.3,502.8 1612.1,504.9 1604.5,500.8 1598.1,492.8"/>
<polygon class="n" fill="#25043c" points="1584.4,502.8 1591.3,511.2 1598.9,517.9 1594.8,508.8 1589.5,499.3"/>
<polygon class="n" fill="#25043c" points="1574.9,509.9 1579.6,514.0 1584.9,516.7 1581.3,512.4 1577.3,507.6"/>
<polygon class="n" fill="#25043c" points="1567.6,511.8 1568.9,522.4 1575.3,531.1 1573.1,522.3 1573.7,511.6"/>
<polygon class="n" fill="#edf3f7" points="1565.7,505.9 1563.8,505.2 1563.7,503.9 1565.5,503.2 1567.4,503.8 1567.5,505.2"/>
<polygon class="n" fill="#25043c" points="1563.0,523.4 1567.7,521.5 1571.5,518.5 1566.9,518.7 1561.9,519.4"/>
<polygon class="n" fill="#25043c" points="1556.2,531.0 1560.1,531.8 1563.9,531.6 1560.8,529.6 1557.3,527.9"/>
<polygon class="n" fill="#25043c" points="1549.0,536.6 1557.1,543.7 1567.0,546.8 1559.3,541.5 1552.2,533.4"/>
<polygon class="n" fill="#25043c" points="1542.3,542.0 1552.1,549.0 1557.6,557.8 1553.9,546.8 1544.9,538.8"/>
<polygon class="n" fill="#c0fbe3" points="1545.4,535.9 1541.7,536.8 1538.5,535.2 1539.1,532.7 1542.9,531.8 1546.0,533.4"/>
<polygon class="n" fill="#25043c" points="1535.9,548.2 1548.2,552.0 1559.8,554.0 1549.2,549.2 1537.3,544.3"/>
<polygon class="n" fill="#25043c" points="1527.5,553.9 1532.5,565.8 1537.7,576.3 1535.5,564.7 1531.9,552.4"/>
<polygon class="n" fill="#c0fbe3" points="1527.2,551.6 1522.6,551.0 1521.0,548.3 1524.1,546.1 1528.7,546.6 1530.2,549.4"/>
<polygon class="n" fill="#25043c" points="1520.2,562.7 1528.3,565.1 1536.6,564.1 1529.8,561.3 1522.4,557.4"/>
<polygon class="n" fill="#25043c" points="1514.7,563.6 1516.3,567.3 1519.3,570.3 1519.6,566.5 1519.4,562.4"/>
<polygon class="n" fill="#c0fbe3" points="1512.0,559.4 1509.9,559.0 1509.4,557.7 1511.0,556.8 1513.0,557.2 1513.6,558.5"/>
<polygon class="n" fill="#25043c" points="1505.6,567.9 1507.9,581.5 1516.5,591.9 1511.9,581.1 1511.4,567.3"/>
<polygon class="n" fill="#25043c" points="1497.0,573.1 1498.3,577.6 1501.6,581.3 1502.0,577.2 1502.3,572.5"/>
<polygon class="n" fill="#25043c" points="1487.5,582.2 1492.2,585.2 1496.4,587.7 1494.6,582.4 1491.0,578.2"/>
<polygon class="n" fill="#25043c" points="1482.1,585.8 1487.1,590.2 1493.8,591.3 1489.3,588.0 1485.4,582.8"/>
<polygon class="n" fill="#25043c" points="1472.7,595.1 1494.7,600.2 1515.5,600.9 1495.4,597.5 1473.7,591.2"/>
<polygon class="n" fill="#25043c" points="1467.4,599.1 1478.9,604.9 1485.7,613.6 1480.0,602.9 1469.0,596.3"/>
<polygon class="n" fill="#25043c" points="1460.6,607.2 1466.7,612.6 1474.2,615.4 1469.3,610.2 1464.3,603.7"/>
<polygon class="n" fill="#25043c" points="1457.8,617.2 1462.3,616.7 1466.4,613.9 1462.5,613.2 1458.1,612.2"/>
<polygon class="n" fill="#25043c" points="1452.3,623.9 1457.2,629.3 1463.1,633.1 1459.8,627.4 1455.9,621.1"/>
<polygon class="n" fill="#c0fbe3" points="1450.2,621.6 1447.5,621.9 1445.8,620.5 1446.9,618.8 1449.6,618.6 1451.3,620.0"/>
<polygon class="n" fill="#25043c" points="1448.7,637.9 1459.1,638.3 1467.5,641.4 1459.4,635.2 1449.1,633.5"/>
<polygon class="n" fill="#25043c" points="1448.0,647.5 1456.7,643.2 1464.7,639.7 1455.8,641.1 1446.7,644.6"/>
<polygon class="n" fill="#edf3f7" points="1443.8,644.8 1443.3,647.6 1439.2,648.8 1435.5,647.1 1436.0,644.2 1440.1,643.1"/>
<polygon class="n" fill="#25043c" points="1447.6,653.6 1454.6,655.9 1459.9,659.5 1455.5,653.7 1448.8,650.5"/>
<polygon class="n" fill="#edf3f7" points="1446.1,655.1 1442.7,656.7 1438.8,655.7 1438.2,653.1 1441.6,651.4 1445.5,652.5"/>
<polygon class="n" fill="#25043c" points="1447.8,666.6 1452.0,665.4 1455.8,663.9 1451.6,662.5 1447.2,662.5"/>
<polygon class="n" fill="#edf3f7" points="1441.8,661.4 1440.7,663.0 1438.0,663.3 1436.3,661.9 1437.3,660.3 1440.1,660.0"/>
<polygon class="n" fill="#25043c" points="1445.1,675.5 1458.5,672.9 1470.7,672.7 1458.1,670.2 1444.5,671.6"/>
<polygon class="n" fill="#edf3f7" points="1441.9,670.1 1441.0,671.6 1438.5,671.8 1436.9,670.6 1437.9,669.1 1440.4,668.9"/>
<polygon class="n" fill="#25043c" points="1441.6,686.2 1447.0,686.9 1451.0,688.8 1447.8,683.9 1442.7,681.8"/>
<polygon class="n" fill="#edf3f7" points="1437.9,684.0 1435.6,685.4 1432.5,684.9 1431.6,683.0 1433.9,681.5 1437.1,682.0"/>
<polygon class="n" fill="#25043c" points="1440.0,695.9 1452.2,696.5 1462.5,699.1 1452.6,692.7 1440.6,690.5"/>
<polygon class="n" fill="#25043c" points="1439.8,704.3 1446.1,706.2 1451.3,708.7 1447.1,703.8 1441.2,700.8"/>
<polygon class="n" fill="#25043c" points="1441.1,715.4 1448.9,713.8 1455.9,712.5 1448.6,710.3 1440.6,710.4"/>
<polygon class="n" fill="#edf3f7" points="1442.9,714.1 1441.1,716.5 1436.8,716.8 1434.4,714.6 1436.1,712.2 1440.4,711.9"/>
<polygon class="n" fill="#25043c" points="1443.6,723.7 1453.9,718.8 1462.7,713.0 1452.3,714.9 1441.4,718.1"/>
<polygon class="n" fill="#25043c" points="1446.6,735.5 1456.0,728.9 1463.8,721.5 1453.9,725.3 1443.5,730.3"/>
<polygon class="n" fill="#25043c" points="1446.8,742.6 1454.9,740.4 1462.2,738.6 1454.4,737.8 1446.1,738.8"/>
<polygon class="n" fill="#25043c" points="1447.0,749.8 1459.7,751.4 1469.8,756.0 1460.4,748.0 1448.0,744.8"/>
<polygon class="n" fill="#edf3f7" points="1442.7,748.8 1441.3,749.8 1439.2,749.5 1438.5,748.3 1439.9,747.2 1442.0,747.5"/>
<polygon class="n" fill="#25043c" points="1449.4,762.4 1459.2,758.9 1468.0,756.9 1458.1,754.7 1447.9,756.4"/>
<polygon class="n" fill="#25043c" points="1450.1,773.6 1454.5,772.3 1458.4,770.9 1454.1,769.5 1449.5,769.6"/>
<polygon class="n" fill="#25043c" points="1450.6,784.6 1461.4,787.2 1471.7,784.3 1462.1,784.7 1451.6,781.2"/>
<polygon class="n" fill="#25043c" points="1452.6,794.5 1456.5,792.5 1459.7,790.7 1455.3,788.2 1451.0,788.4"/>
<polygon class="n" fill="#25043c" points="1451.0,804.0 1467.0,804.0 1481.2,799.1 1467.2,800.3 1451.3,798.7"/>
<polygon class="n" fill="#edf3f7" points="1447.6,800.8 1445.2,803.2 1440.7,803.0 1438.6,800.5 1441.1,798.2 1445.6,798.3"/>
<polygon class="n" fill="#25043c" points="1450.4,816.3 1454.1,814.9 1457.3,813.9 1453.6,811.5 1449.6,811.3"/>
<polygon class="n" fill="#edf3f7" points="1447.7,811.9 1446.6,813.7 1443.6,814.0 1441.6,812.5 1442.8,810.7 1445.8,810.4"/>
<polygon class="n" fill="#25043c" points="1448.5,824.0 1458.0,828.4 1466.9,832.0 1459.1,826.3 1450.1,821.0"/>
<polygon class="n" fill="#25043c" points="1454.2,839.8 1455.3,834.4 1456.9,829.9 1452.7,833.5 1450.4,838.6"/>
<polygon class="n" fill="#25043c" points="1461.6,844.9 1464.2,835.6 1462.7,826.2 1460.5,834.2 1456.4,843.0"/>
<polygon class="n" fill="#edf3f7" points="1455.7,849.3 1457.4,850.6 1456.5,852.2 1453.8,852.5 1452.1,851.2 1453.1,849.6"/>
<polygon class="n" fill="#25043c" points="1461.6,852.9 1471.8,851.1 1480.4,846.0 1471.4,846.7 1461.1,846.6"/>
<polygon class="n" fill="#25043c" points="1460.3,859.7 1479.5,864.3 1497.7,864.3 1480.2,861.7 1461.3,856.0"/>
<polygon class="n" fill="#25043c" points="1458.9,868.1 1471.2,866.8 1481.5,869.9 1471.1,864.4 1458.7,864.5"/>
<polygon class="n" fill="#25043c" points="1462.8,879.6 1468.2,878.9 1473.0,878.2 1468.1,876.0 1462.7,875.6"/>
<polygon class="n" fill="#edf3f7" points="1461.6,879.8 1459.9,881.7 1456.5,881.8 1454.6,879.9 1456.3,878.0 1459.8,877.9"/>
<polygon class="n" fill="#25043c" points="1468.3,888.0 1484.5,882.1 1499.4,877.2 1483.6,879.2 1467.0,883.9"/>
<polygon class="n" fill="#25043c" points="1473.5,894.7 1493.5,884.6 1513.2,880.8 1492.2,881.7 1471.5,890.5"/>
<polygon class="n" fill="#25043c" points="1482.1,900.1 1485.0,890.9 1488.1,882.9 1481.2,889.3 1476.8,897.9"/>
<polygon class="n" fill="#edf3f7" points="1477.1,902.7 1479.1,904.3 1477.9,906.2 1474.7,906.4 1472.7,904.8 1473.9,903.0"/>
<polygon class="n" fill="#25043c" points="1485.3,904.5 1491.5,901.1 1496.1,895.9 1490.2,898.0 1483.4,900.1"/>
<polygon class="n" fill="#edf3f7" points="1484.1,908.8 1483.8,910.7 1480.9,911.5 1478.4,910.3 1478.8,908.4 1481.7,907.6"/>
<polygon class="n" fill="#25043c" points="1494.7,909.0 1497.7,901.1 1501.4,894.7 1495.2,899.9 1491.1,907.3"/>
<polygon class="n" fill="#edf3f7" points="1493.5,912.0 1495.9,914.0 1494.1,916.3 1490.1,916.6 1487.8,914.5 1489.5,912.2"/>
<polygon class="n" fill="#e0e9f3" points="931.2,316.2 934.9,313.4 942.4,315.3 948.0,318.1 949.9,327.5 953.7,335.0 955.5,344.3 961.2,351.8 959.3,359.3 955.5,364.9 949.9,364.9 949.9,374.3 951.8,379.9 949.9,389.3 948.0,396.8 953.7,387.4 957.4,379.9 964.9,376.2 972.4,381.8 978.0,378.1 981.8,368.7 983.6,359.3 989.3,357.5 993.0,363.1 993.9,374.3 996.8,381.8 1000.5,381.8 1002.4,372.4 1009.9,368.7 1017.4,365.9 1023.0,368.7 1024.9,376.2 1026.7,389.3 1028.6,399.6 1031.4,387.4 1032.4,374.3 1038.0,374.3 1041.7,379.9 1045.5,387.4 1053.0,385.6 1058.6,381.8 1064.2,385.6 1071.7,386.5 1077.3,381.8 1078.3,372.4 1084.8,371.5 1091.4,374.3 1092.3,381.8 1096.1,387.4 1099.8,396.8 1109.2,393.1 1119.5,392.1 1111.1,396.8 1103.6,402.4 1107.3,409.9 1112.0,411.8 1109.2,417.4 1103.6,424.0 1112.9,424.9 1114.8,432.4 1122.3,439.9 1126.0,445.5 1123.2,453.0 1118.6,456.8 1122.3,460.5 1119.5,469.9 1114.8,473.6 1109.2,468.0 1111.1,477.4 1103.6,483.0 1097.9,479.2 1096.1,486.7 1088.6,488.6 1084.8,496.1 1077.3,498.0 1070.8,501.7 1062.3,498.0 1051.1,499.9 1039.9,503.6 1030.5,507.4 1021.1,511.1 1009.9,508.3 998.6,506.4 991.1,509.2 983.6,513.9 976.1,514.8 964.9,513.0 953.7,508.3 946.2,501.7 938.7,495.2 931.2,490.5 925.6,479.2 919.9,469.9 912.4,462.4 903.1,460.5 893.7,454.9 884.3,452.1 877.8,450.2 882.5,441.8 885.3,437.1 886.2,443.6 893.7,444.6 901.2,442.7 906.8,439.9 912.4,434.3 921.8,435.2 916.2,432.4 906.8,432.4 910.6,424.9 917.1,421.2 906.8,421.2 905.9,413.7 908.7,406.2 904.9,400.5 895.6,396.8 886.2,392.1 878.7,392.1 874.0,387.4 875.0,381.8 884.3,381.8 893.7,383.7 904.9,385.6 916.2,391.2 927.4,396.8 933.1,391.2 923.7,389.3 918.1,383.7 927.4,378.1 936.8,376.2 929.3,370.6 919.9,363.1 912.4,357.5 901.2,355.6 891.8,355.6 888.1,350.0 881.5,345.3 888.1,341.5 891.8,346.2 895.6,335.0 901.2,342.5 904.9,346.2 904.0,335.0 908.7,325.6 912.4,336.8 916.2,344.3 919.9,340.6 916.2,327.5 919.9,321.9 925.6,327.5 929.3,336.8 933.1,346.2 936.8,344.3 934.9,335.0 932.1,327.5 936.8,325.6 942.4,321.9 936.8,319.0"/>
<polygon class="n" fill="#e0e9f3" points="90.8,2368.9 97.0,2366.8 104.0,2369.8 110.2,2372.4 111.9,2375.9 105.8,2376.4 100.5,2377.7 95.2,2375.9 91.7,2373.3"/>
<polygon class="n" fill="#e0e9f3" points="111.0,2376.8 113.7,2376.4 112.8,2378.2"/>
<polygon class="n" fill="#e0e9f3" points="112.8,2382.1 117.2,2380.3 116.3,2384.7 121.6,2385.6 126.9,2386.5 132.2,2390.0 137.4,2394.4 143.6,2396.2 146.2,2400.6 144.5,2405.0 141.8,2408.5 135.7,2407.6 128.6,2406.7 121.6,2403.2 116.3,2399.7 112.8,2395.3 113.7,2389.1 111.9,2385.6"/>
<polygon class="n" fill="#edf3f7" points="217.2,2374.2 220.2,2375.0 225.4,2376.8 229.8,2374.2 234.2,2367.1 239.5,2363.6 246.6,2361.8 253.6,2363.6 258.9,2361.0 260.6,2353.9 258.9,2343.4 264.2,2344.2 273.0,2344.2 285.3,2343.4 297.6,2341.6 309.9,2337.2 318.7,2332.8 327.5,2329.3 336.3,2322.2 343.4,2317.0 348.6,2315.2 355.7,2309.9 362.7,2306.4 370.6,2303.2 368.0,2307.3 362.7,2311.7 357.4,2317.8 350.4,2324.0 343.4,2330.2 339.8,2336.3 334.6,2339.0 331.0,2343.4 330.2,2350.4 334.6,2355.7 341.6,2361.8 345.1,2366.2 338.1,2366.2 331.0,2369.8 322.2,2369.8 317.0,2373.3 313.4,2382.1 306.4,2387.4 297.6,2392.6 287.0,2396.2 280.0,2398.8 274.7,2403.2 273.8,2409.4 269.4,2410.2 265.9,2404.1 258.9,2403.2 251.8,2406.7 241.3,2403.2 230.7,2400.6 225.4,2392.6 221.0,2385.6 219.3,2379.4"/></g>
</g>
<g id="insets" fill="none" stroke="#f0eef6" stroke-width="3">
<rect x="841.4" y="301.4" width="336" height="228.7" rx="3" stroke-width="3.3"/>
<rect x="74.5" y="2349.6" width="101.3" height="74.7" rx="4" stroke-width="3.5"/>
<rect x="208.8" y="2291.8" width="180" height="132.5" rx="4" stroke-width="3.5"/>
</g>
<g id="titles">
<text class="t" x="96" y="166" font-size="121" textLength="1477" lengthAdjust="spacingAndGlyphs">COVID-19 Map of Europe</text>
<text x="121" y="220" font-size="31.5" fill="#fff" textLength="1520" lengthAdjust="spacingAndGlyphs"><tspan font-weight="700">Rise of confirmed COVID19-cases per 100.000 pop</tspan> by subnational administrative level</text>
<text x="121" y="260" font-size="31.5" fill="#fff" textLength="927" lengthAdjust="spacingAndGlyphs">in European countries between <tspan font-weight="700">17th and 24th of July</tspan></text>
</g>
<g id="legend">
<rect x="121" y="288.7" width="53.5" height="30.5" rx="3.5" fill="#c0fbe3" stroke="#f4eef8" stroke-width="1.6"/>
<text x="197" y="317.2" class="lg" textLength="401" lengthAdjust="spacingAndGlyphs">Zero new diagnosed cases</text>
<rect x="121" y="337.7" width="53.5" height="30.5" rx="3.5" fill="#edf3f7" stroke="#f4eef8" stroke-width="1.6"/>
<text x="197" y="366.2" class="lg" textLength="107" lengthAdjust="spacingAndGlyphs">0,0 - 1,4</text>
<rect x="121" y="386.7" width="53.5" height="30.5" rx="3.5" fill="#e0e9f3" stroke="#f4eef8" stroke-width="1.6"/>
<text x="197" y="415.2" class="lg" textLength="108" lengthAdjust="spacingAndGlyphs">1,4 - 3,6</text>
<rect x="121" y="435.7" width="53.5" height="30.5" rx="3.5" fill="#cfdbe8" stroke="#f4eef8" stroke-width="1.6"/>
<text x="197" y="464.2" class="lg" textLength="111" lengthAdjust="spacingAndGlyphs">3,6 - 6,3</text>
<rect x="121" y="484.7" width="53.5" height="30.5" rx="3.5" fill="#bfcfe5" stroke="#f4eef8" stroke-width="1.6"/>
<text x="197" y="513.2" class="lg" textLength="111" lengthAdjust="spacingAndGlyphs">6,3 - 9,0</text>
<rect x="121" y="533.7" width="53.5" height="30.5" rx="3.5" fill="#a1aed2" stroke="#f4eef8" stroke-width="1.6"/>
<text x="197" y="562.2" class="lg" textLength="126" lengthAdjust="spacingAndGlyphs">9,0 - 12,7</text>
<rect x="121" y="582.7" width="53.5" height="30.5" rx="3.5" fill="#8a8cbf" stroke="#f4eef8" stroke-width="1.6"/>
<text x="197" y="611.2" class="lg" textLength="136" lengthAdjust="spacingAndGlyphs">12,7 - 17,8</text>
<rect x="121" y="631.7" width="53.5" height="30.5" rx="3.5" fill="#7b70ae" stroke="#f4eef8" stroke-width="1.6"/>
<text x="197" y="660.2" class="lg" textLength="132" lengthAdjust="spacingAndGlyphs">17,8 - 27,1</text>
<rect x="121" y="680.7" width="53.5" height="30.5" rx="3.5" fill="#735c9f" stroke="#f4eef8" stroke-width="1.6"/>
<text x="197" y="709.2" class="lg" textLength="139" lengthAdjust="spacingAndGlyphs">27,1 - 35,2</text>
<rect x="121" y="729.7" width="53.5" height="30.5" rx="3.5" fill="#6c4b8d" stroke="#f4eef8" stroke-width="1.6"/>
<text x="197" y="758.2" class="lg" textLength="149" lengthAdjust="spacingAndGlyphs">35,2 - 49,2</text>
<rect x="121" y="778.7" width="53.5" height="30.5" rx="3.5" fill="#6d4283" stroke="#f4eef8" stroke-width="1.6"/>
<text x="197" y="807.2" class="lg" textLength="146" lengthAdjust="spacingAndGlyphs">49,2 - 58,1</text>
<rect x="121" y="827.7" width="53.5" height="30.5" rx="3.5" fill="#6e367a" stroke="#f4eef8" stroke-width="1.6"/>
<text x="197" y="856.2" class="lg" textLength="140" lengthAdjust="spacingAndGlyphs">58,1 - 71,7</text>
<rect x="121" y="876.7" width="53.5" height="30.5" rx="3.5" fill="#722b60" stroke="#f4eef8" stroke-width="1.6"/>
<text x="197" y="905.2" class="lg" textLength="156" lengthAdjust="spacingAndGlyphs">71,7 - 129,9</text>
<rect x="121" y="925.7" width="53.5" height="30.5" rx="3.5" fill="#8b1a10" stroke="#f4eef8" stroke-width="1.6"/>
<text x="197" y="954.2" class="lg" textLength="176" lengthAdjust="spacingAndGlyphs">129,9 - 163,0</text>
<rect x="121" y="971.7" width="53.5" height="30.5" rx="3.5" fill="#999999" stroke="#8a8a8a" stroke-width="1.6"/>
<text x="197" y="1000.2" class="lg" textLength="283" lengthAdjust="spacingAndGlyphs">No data/correction</text>
</g>
<g id="credits">
<text class="cr" x="78" y="2459.5" textLength="436" lengthAdjust="spacingAndGlyphs">Design: Jelmer Visser/@dieTukkerfries 26th of July, 2020</text>
<text class="cr" x="78" y="2477" textLength="406" lengthAdjust="spacingAndGlyphs">Database: Marijn Joop, Rowan Geleijnse, Nick Mallo</text>
<text class="cr" x="160" y="2494.5" textLength="401" lengthAdjust="spacingAndGlyphs">Robert van Loon, Jelmer Visser and Sander Gijsbers</text>
</g>

</svg>
</body></html>
